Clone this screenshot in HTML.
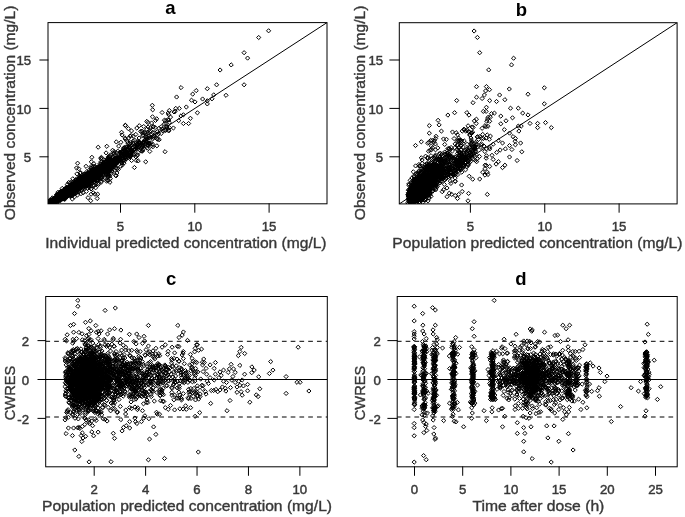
<!DOCTYPE html>
<html><head><meta charset="utf-8"><style>
html,body{margin:0;padding:0;background:#fff;width:685px;height:517px;overflow:hidden}
svg{display:block;will-change:transform;filter:blur(0.35px)}
text{font-family:"Liberation Sans",sans-serif}
circle{r:2.0px}
</style></head><body><svg width="685" height="517" viewBox="0 0 685 517"><defs><marker id="dm" markerUnits="userSpaceOnUse" markerWidth="10" markerHeight="10" refX="5" refY="5" overflow="visible"><path d="M2.9 5L5 2.9 7.1 5 5 7.1z" fill="none" stroke="#000" stroke-width="1.0" stroke-linejoin="round"/></marker><clipPath id="cla"><rect x="48.0" y="22.6" width="279.00" height="181.20"/></clipPath><clipPath id="clb"><rect x="399.3" y="22.7" width="277.80" height="181.20"/></clipPath><clipPath id="clc"><rect x="45.7" y="296.5" width="281.60" height="170.30"/></clipPath><clipPath id="cld"><rect x="397.2" y="296.5" width="280.00" height="170.30"/></clipPath></defs><rect width="685" height="517" fill="#fff"/><g clip-path="url(#cla)"><polyline fill="none" stroke="none" marker-start="url(#dm)" marker-mid="url(#dm)" marker-end="url(#dm)" points="244.1,52.7 231.2,64.9 220.1,70.0 216.6,84.8 244.1,84.8 268.6,30.8 258.7,37.5 247.6,58.1 181.0,87.6 207.3,88.7 196.2,90.6 192.7,94.1 176.6,97.0 191.5,100.2 195.0,101.9 202.6,99.0 207.3,100.8 207.3,103.9 212.0,98.8 213.7,94.9 226.0,95.3 186.3,107.0 179.3,108.4 175.8,108.4 174.0,111.9 175.2,111.3 197.4,112.8 181.0,115.9 183.4,114.8 190.4,118.3 178.7,120.6 183.4,123.5 188.6,123.5 169.3,127.6 173.4,128.0 168.2,113.0 168.8,120.0 170.5,117.1 125.3,125.2 128.4,128.7 131.5,130.9 139.3,125.7 143.7,126.5 155.5,120.4 151.6,123.0 162.1,112.5 161.2,133.5 154.7,132.7 149.8,131.8 146.8,129.2 140.6,131.4 135.8,134.4 130.1,136.2 124.9,137.9 156.9,138.8 166.1,120.4 164.3,123.9 159.0,128.3 150.7,127.4 72.3,199.0 74.5,196.8 77.5,195.0 81.0,193.7 83.2,192.8 86.3,191.5 88.0,197.7 90.7,200.7 91.1,194.2 93.3,192.8 95.0,194.2 97.7,194.2 97.2,198.5 98.5,184.5 107.3,180.1 109.9,182.3 104.7,177.5 116.1,175.8 116.9,173.1 94.2,185.4 91.1,188.9 75.4,184.9 93.2,175.2 91.9,175.8 66.1,195.4 64.7,191.8 69.3,190.1 99.0,170.6 69.1,189.9 85.0,175.8 104.4,161.9 62.2,195.9 60.1,195.1 64.5,189.9 68.6,191.3 118.5,156.0 67.0,192.9 84.5,183.5 90.6,177.1 93.2,174.3 62.4,197.7 79.7,183.5 65.2,193.3 62.0,196.2 61.1,197.2 69.6,188.4 73.3,187.8 137.0,144.4 118.1,157.7 56.9,198.6 72.4,188.0 90.9,174.6 102.6,165.3 143.3,146.2 80.5,179.0 95.5,169.3 87.7,179.9 101.1,171.5 66.4,189.4 61.2,194.7 125.5,156.8 62.6,194.1 80.8,184.0 66.3,196.2 81.6,180.3 70.7,191.7 106.3,170.1 67.8,188.9 70.1,192.1 74.7,186.4 65.7,194.3 67.2,190.0 83.9,184.8 91.2,175.2 128.1,150.0 66.2,191.9 109.9,168.4 89.7,181.8 97.1,176.3 97.6,170.2 89.1,177.8 90.3,178.8 128.7,157.4 78.2,183.0 81.1,186.7 76.9,185.9 96.7,175.0 129.4,147.1 58.7,198.7 115.2,162.4 93.9,177.1 149.6,143.3 79.7,181.3 62.9,197.9 106.4,169.2 76.0,185.0 88.2,177.5 95.6,172.4 132.1,147.8 68.7,192.7 55.3,200.2 106.0,166.5 71.4,185.9 73.8,188.6 78.5,187.0 66.0,192.7 84.4,180.1 78.4,186.9 84.9,179.1 56.0,198.4 62.7,191.8 60.6,194.7 113.8,166.9 104.0,168.9 70.2,187.6 79.0,186.0 75.3,186.3 57.2,196.5 56.0,197.6 97.9,168.0 70.9,191.8 66.6,192.2 65.6,192.9 91.9,174.3 80.9,182.2 79.4,183.9 77.7,188.4 76.5,184.4 63.7,194.3 83.0,184.1 108.3,157.8 68.5,192.1 80.0,185.1 75.6,184.7 77.2,183.8 91.3,176.6 73.4,188.8 61.4,195.9 97.5,171.9 61.6,193.5 67.8,191.3 74.0,188.4 85.9,179.2 72.6,188.6 87.1,178.6 91.9,177.1 71.4,190.0 66.3,192.8 73.1,186.5 67.0,191.7 74.9,188.0 152.9,138.6 76.5,186.2 64.7,195.0 105.3,165.3 92.0,177.5 103.9,164.7 61.4,193.6 74.2,187.9 72.1,184.0 94.7,172.7 60.5,198.7 104.0,172.1 66.6,190.1 131.2,150.7 73.2,185.3 100.6,170.7 89.6,180.0 68.4,188.7 63.0,193.1 78.5,185.1 78.7,185.7 81.2,183.5 64.5,194.3 65.4,194.1 59.2,200.0 77.9,183.0 106.2,164.7 82.8,180.7 65.0,193.6 72.5,191.2 87.2,185.8 117.9,158.1 62.4,195.2 92.0,176.7 76.0,188.1 70.6,190.0 99.7,168.0 84.1,177.1 68.9,190.6 67.8,193.8 152.9,132.5 66.9,190.5 71.4,190.3 75.3,188.2 87.4,178.6 92.2,176.3 87.4,183.5 76.9,181.4 148.7,138.1 65.6,193.2 56.9,198.9 69.1,188.8 64.1,193.9 108.1,163.9 105.5,168.0 91.1,175.0 83.3,179.9 67.7,192.5 98.9,177.4 86.8,177.3 64.4,195.2 73.0,185.1 73.2,189.5 70.4,190.2 57.7,198.6 57.8,197.7 76.8,183.3 84.9,179.1 71.9,185.8 103.7,171.3 58.3,196.4 74.8,186.3 93.1,175.7 74.3,190.3 62.4,198.8 97.2,174.4 81.9,182.4 74.6,185.3 122.2,160.5 59.7,197.9 68.1,189.1 73.0,188.6 96.5,177.0 66.9,190.0 78.6,185.0 58.5,196.9 78.1,183.5 66.7,190.7 61.0,195.1 76.9,183.7 67.0,193.0 71.0,188.4 73.4,188.7 82.3,181.8 75.6,187.5 65.0,194.1 73.9,190.1 60.2,196.4 64.7,195.4 69.3,188.8 86.5,180.8 116.8,162.3 75.3,185.9 57.6,197.1 69.9,193.1 118.0,158.8 96.8,175.1 85.5,180.6 78.9,180.7 90.0,177.8 60.5,198.5 61.8,195.5 81.1,182.7 68.0,190.0 70.7,189.3 81.4,182.1 65.2,192.4 86.9,178.6 74.6,187.7 82.2,182.1 90.3,175.7 75.4,183.7 82.1,182.6 69.2,193.2 62.4,192.5 68.0,192.3 84.5,178.4 71.4,189.6 84.8,178.0 73.7,188.5 85.7,180.8 74.5,186.6 94.9,181.4 78.2,187.5 67.1,194.7 78.6,179.7 79.9,177.3 76.4,181.1 77.5,183.7 76.0,189.8 85.6,180.5 69.1,190.2 92.1,176.2 83.0,185.2 65.7,194.4 63.9,195.3 84.9,177.0 79.3,187.2 92.6,173.0 76.4,187.7 76.4,186.3 60.0,196.3 63.1,196.3 85.2,177.8 72.8,187.3 74.8,184.7 88.1,180.8 64.2,191.8 65.8,196.6 61.7,195.1 80.3,184.3 75.4,189.8 58.0,196.6 156.9,145.8 91.2,176.9 101.6,171.1 81.2,184.4 103.9,169.6 65.0,195.7 61.6,192.5 72.0,193.2 67.5,189.1 82.2,183.9 96.0,177.6 70.9,187.3 77.4,184.5 71.5,189.8 77.0,183.1 102.2,168.4 90.1,179.9 98.9,170.1 81.8,186.7 85.3,178.3 87.4,178.7 72.3,188.8 85.2,184.2 61.6,195.6 62.4,198.1 78.7,182.9 78.0,183.8 76.1,187.3 91.3,178.8 89.6,177.9 93.7,168.9 78.5,186.6 70.4,191.1 78.6,185.8 59.2,200.2 69.0,187.5 72.3,189.5 61.6,194.8 66.1,194.7 67.2,194.3 59.7,196.0 83.6,182.7 71.1,192.2 103.6,175.0 66.9,193.1 106.5,165.7 68.1,192.1 75.1,183.1 60.8,194.7 57.2,195.2 94.7,175.2 70.7,193.0 67.0,191.8 84.0,181.1 59.5,199.1 86.2,175.1 80.2,182.9 80.6,183.5 63.8,195.8 60.7,195.3 84.3,182.7 97.8,170.6 89.4,178.2 96.6,172.2 80.3,182.7 69.3,191.5 105.1,164.4 88.9,180.1 110.6,166.5 68.4,193.7 80.5,184.1 100.4,171.0 65.3,191.3 91.2,175.8 75.7,185.7 61.5,197.7 57.6,195.7 89.3,176.9 61.5,195.7 98.0,172.5 80.1,184.2 71.5,192.7 93.8,170.5 88.6,177.4 75.5,185.6 66.1,195.2 58.9,197.2 81.3,179.4 66.1,195.7 61.3,197.2 79.1,183.2 63.8,193.7 125.6,157.6 54.6,203.5 96.1,169.8 68.1,192.0 55.0,198.3 98.9,171.9 63.6,194.5 59.6,196.9 69.6,192.1 101.9,172.4 66.8,196.0 85.6,183.6 61.0,196.1 78.8,184.5 63.3,194.6 106.6,168.4 108.0,165.8 91.1,175.5 63.5,195.0 77.2,186.0 115.9,161.3 68.0,192.9 62.3,194.2 64.1,195.7 102.8,167.8 107.9,172.5 60.6,197.8 63.4,193.2 60.8,199.1 92.7,169.0 66.9,193.7 91.4,176.2 91.7,175.7 74.4,185.4 126.5,155.2 68.6,187.5 100.4,169.5 69.1,192.6 69.6,189.1 67.2,193.6 109.1,159.9 96.0,173.3 92.7,174.8 88.5,181.6 74.5,188.9 108.3,156.9 97.7,171.2 81.7,183.3 83.0,182.1 64.1,195.5 68.8,189.9 100.2,173.4 116.5,152.9 130.8,145.9 107.6,167.1 69.4,190.1 79.4,183.8 120.1,159.8 75.5,189.3 108.0,175.3 124.4,149.2 106.1,167.6 121.8,151.9 84.2,182.1 99.4,167.0 54.6,199.0 104.1,165.6 110.4,163.6 75.5,184.8 106.2,169.0 116.6,161.2 85.3,181.6 86.8,177.3 69.7,190.1 77.0,186.5 72.9,185.3 75.5,185.6 65.6,194.2 102.7,171.9 89.6,180.7 67.5,192.2 79.1,181.8 85.8,181.7 86.2,178.9 70.9,191.0 77.0,188.6 85.9,177.3 73.3,185.5 67.1,193.1 70.9,188.4 95.1,170.1 78.2,187.6 83.0,180.9 92.1,175.4 77.4,182.0 84.6,177.7 66.1,193.3 59.8,200.4 103.7,169.0 62.0,194.5 64.4,194.3 78.5,188.1 94.8,169.4 72.8,185.7 74.5,182.8 76.6,185.6 65.2,195.1 105.7,167.2 127.5,156.2 81.0,184.9 76.3,186.6 86.6,177.4 81.6,186.0 69.3,191.4 77.0,185.1 83.2,174.7 91.6,175.9 58.8,198.3 69.2,190.9 77.0,185.3 68.7,191.0 97.9,172.5 83.8,179.5 61.9,196.7 101.2,171.1 63.7,196.5 80.6,179.5 81.5,178.3 90.2,175.4 69.8,189.1 69.4,190.9 83.6,178.2 66.7,191.1 67.8,194.4 89.3,177.1 56.5,199.9 105.2,167.5 64.3,196.4 98.1,176.5 73.5,185.9 70.3,188.9 59.5,199.3 95.6,178.7 58.5,197.4 64.9,198.6 67.8,192.2 54.9,201.5 91.7,175.9 103.1,163.2 82.6,179.4 68.7,188.8 124.8,157.2 80.1,184.5 81.4,183.3 82.8,182.1 70.2,187.8 79.5,178.4 57.4,197.6 79.4,185.4 62.9,195.7 104.9,165.1 79.4,183.8 87.6,177.3 69.2,191.9 96.1,176.0 78.3,181.3 75.1,188.3 86.2,173.6 66.7,194.5 132.0,150.2 62.3,196.2 79.0,182.9 92.2,173.2 116.0,157.6 62.7,194.5 59.3,199.7 69.3,189.2 101.9,167.5 72.0,190.2 79.6,181.5 73.7,190.4 78.6,187.1 72.2,187.0 94.4,171.4 67.3,194.8 150.6,130.8 63.8,194.9 77.4,188.2 81.3,181.0 74.1,188.0 67.9,192.0 123.2,159.2 63.5,194.4 52.4,203.1 111.8,166.0 72.4,189.7 96.4,173.2 107.5,174.2 108.7,166.9 71.7,192.6 61.5,197.4 77.7,180.2 101.9,171.2 118.9,159.6 56.5,194.8 94.9,179.2 138.0,152.4 151.1,142.7 147.9,144.9 70.4,189.7 64.7,194.6 79.1,183.6 85.6,183.3 73.2,189.7 71.6,186.9 91.1,173.2 77.2,183.9 82.6,188.7 122.4,157.4 91.7,181.8 65.2,191.4 84.4,177.4 109.9,158.9 70.9,189.4 62.7,196.9 106.5,162.0 67.7,189.0 74.0,190.5 71.5,187.3 94.1,174.8 87.4,178.2 69.6,189.4 65.9,193.3 66.6,191.6 97.0,172.3 69.0,190.9 79.9,187.4 75.4,187.1 77.1,184.8 86.3,181.9 74.4,188.6 61.5,193.1 80.8,184.6 142.9,143.3 102.8,167.3 99.2,167.1 85.1,182.0 81.7,185.5 79.5,180.8 97.5,173.8 88.4,178.3 74.9,188.1 73.1,188.2 74.9,184.6 77.3,186.3 89.5,176.2 66.6,192.1 105.7,173.9 115.6,160.4 82.6,183.8 141.7,146.1 65.8,195.3 55.5,200.6 68.8,191.2 76.7,186.5 59.5,197.5 111.5,163.6 63.5,196.7 54.6,199.1 127.7,157.8 64.3,194.6 77.6,185.2 87.6,183.5 59.4,195.7 73.8,187.5 55.9,201.8 74.8,185.2 80.2,185.7 69.1,190.7 79.4,184.8 62.7,195.0 59.4,194.9 85.7,178.2 89.0,177.0 79.7,184.2 65.4,193.8 65.2,195.8 79.5,183.2 78.1,181.4 64.8,196.8 59.6,197.3 85.7,177.8 112.9,166.0 115.2,160.2 75.1,187.5 64.5,193.0 74.7,185.5 55.7,198.2 74.6,186.3 64.9,191.6 66.8,191.9 62.3,195.2 100.7,175.6 57.1,198.1 76.0,187.4 63.3,191.3 65.5,195.9 87.1,183.0 79.0,187.8 67.2,192.1 94.0,173.6 73.1,185.0 80.8,187.3 78.3,187.1 69.8,191.3 77.6,183.5 75.1,184.9 79.0,178.1 67.6,188.1 102.3,165.9 92.3,170.0 71.8,187.8 99.5,169.9 71.9,189.3 66.7,191.1 79.5,188.6 74.7,187.4 67.6,191.2 79.1,182.2 76.1,187.2 64.0,193.5 69.4,188.0 135.1,148.9 75.0,188.0 81.0,184.1 62.5,192.6 104.2,171.6 71.1,192.0 66.2,189.6 68.2,192.5 95.3,170.2 68.7,191.1 60.0,198.6 101.2,169.5 72.3,187.4 56.1,201.4 87.8,179.2 74.3,188.4 69.1,191.5 61.5,194.3 91.0,177.3 91.9,177.8 69.5,189.1 86.2,178.4 107.9,167.2 102.3,179.2 85.9,179.2 62.9,195.5 80.7,183.8 69.1,192.3 95.8,171.2 107.9,171.0 76.2,188.2 109.2,170.4 145.9,139.5 80.4,185.9 83.5,179.3 74.1,189.0 103.3,168.7 70.3,193.0 61.0,193.7 121.1,155.5 69.1,191.5 113.2,163.8 87.0,181.4 85.6,185.7 125.3,153.8 74.4,188.4 115.3,160.0 137.0,144.0 65.7,194.7 89.8,177.2 112.8,164.3 62.1,195.2 65.7,194.6 88.2,173.0 58.4,198.3 67.4,190.4 72.0,191.0 76.1,188.4 66.9,193.8 58.3,198.2 69.0,190.0 70.8,188.2 58.6,199.2 99.1,174.0 97.4,168.9 70.1,193.5 77.5,186.6 62.1,195.9 132.6,151.3 71.7,188.3 66.3,190.8 57.3,197.2 98.4,177.1 64.9,195.0 78.2,185.5 78.2,185.4 64.1,194.2 66.4,194.0 58.8,194.9 148.2,145.4 67.6,193.0 90.1,177.3 81.1,182.7 84.8,183.2 133.8,150.2 62.4,194.7 66.8,192.8 63.0,192.9 127.0,153.6 63.9,194.7 73.7,186.6 119.7,159.2 67.1,192.4 80.4,182.8 74.5,189.5 58.2,194.6 92.5,173.2 80.9,179.2 63.2,196.2 76.9,184.8 65.1,194.4 99.7,169.4 92.3,173.6 66.4,193.9 54.1,202.7 82.2,182.5 103.8,166.4 84.2,181.8 98.2,169.4 80.2,182.2 68.0,190.6 69.6,191.9 80.3,183.4 108.2,172.4 88.0,180.5 82.7,185.1 108.7,168.0 79.9,182.1 90.3,178.6 118.2,162.0 68.9,187.8 68.2,195.9 98.7,175.0 71.2,186.4 62.2,193.3 76.8,184.4 123.4,153.2 64.0,192.8 65.5,195.2 84.0,178.7 83.7,181.3 72.4,187.6 79.8,183.8 65.2,191.3 140.0,143.1 83.9,181.3 63.1,194.1 138.5,142.2 108.7,168.3 79.5,181.3 93.2,180.2 101.5,167.6 71.7,192.1 78.4,183.7 99.4,170.6 66.7,189.9 66.5,192.1 64.9,193.4 79.9,179.9 66.4,192.8 78.1,182.8 77.8,187.2 97.4,170.0 55.5,197.8 113.8,159.3 128.2,149.0 93.9,169.5 56.8,197.5 86.0,183.7 80.5,183.8 55.0,202.3 64.8,192.5 82.3,179.9 53.5,202.5 97.5,170.8 73.1,186.8 125.0,150.5 85.5,177.1 66.7,194.5 90.7,180.7 63.6,196.5 64.0,192.7 115.4,164.1 89.1,179.5 75.3,190.6 71.6,188.9 113.6,159.5 65.9,190.9 84.5,183.1 85.8,180.1 71.9,187.0 149.0,143.4 124.0,163.1 67.1,191.9 72.6,188.6 79.0,184.1 73.3,189.1 73.9,189.0 88.2,175.1 57.3,200.6 59.7,197.8 101.2,166.0 137.7,143.6 63.6,192.8 72.3,188.3 73.3,193.3 63.6,191.5 107.3,163.8 155.1,127.5 71.2,186.0 84.0,179.7 73.7,188.4 82.7,181.7 57.6,200.1 125.0,158.1 82.5,181.2 86.0,178.0 79.9,185.9 138.5,142.2 64.9,193.0 63.6,195.7 64.6,193.4 95.0,169.0 121.4,155.0 123.4,148.2 113.1,159.7 56.3,200.9 115.5,158.6 108.8,164.5 84.4,179.9 66.6,188.0 62.7,193.5 89.3,175.4 78.3,186.2 60.8,198.6 86.5,178.5 103.3,171.5 62.0,191.3 72.6,192.2 63.2,193.0 86.7,177.4 70.7,188.8 76.8,184.9 72.1,190.3 92.7,179.0 98.0,180.1 107.9,160.5 74.6,189.9 78.4,187.0 75.0,186.0 75.8,187.7 78.8,187.2 61.4,194.6 62.3,194.5 82.2,183.4 55.5,200.7 64.9,189.9 89.6,178.8 80.2,179.5 91.5,174.3 70.4,189.4 82.7,178.4 66.3,189.1 89.8,173.6 87.1,175.2 69.4,187.8 60.8,197.4 63.2,195.7 82.2,180.0 83.0,181.7 75.2,186.6 70.2,192.8 70.2,191.3 65.6,197.6 57.9,195.4 100.7,171.6 90.8,177.5 96.9,170.8 64.7,194.8 126.8,146.9 80.0,184.2 89.8,175.0 66.1,189.6 66.7,194.1 84.5,183.2 79.7,183.5 72.7,191.4 93.1,172.2 61.2,194.5 71.3,188.5 102.0,170.0 86.5,179.5 105.6,166.3 72.3,189.2 92.1,178.2 97.2,174.4 67.8,190.4 80.2,182.2 99.0,170.0 100.3,167.1 98.1,171.6 55.0,198.8 83.3,183.3 96.9,173.8 60.5,196.7 81.3,180.5 90.1,178.1 104.4,167.6 76.0,184.4 78.0,189.6 94.3,178.4 73.9,189.5 100.5,174.0 87.2,178.5 86.1,180.1 71.0,186.1 80.7,179.4 75.8,184.0 107.1,165.7 67.3,192.9 63.0,195.6 67.1,191.2 114.9,164.9 90.4,180.5 92.4,175.2 71.4,190.3 96.8,174.9 85.8,182.1 61.2,195.6 72.2,187.3 85.1,180.6 88.4,174.9 65.2,193.2 60.3,196.5 84.9,176.1 114.5,161.8 73.0,185.2 89.5,176.4 114.4,164.9 67.3,190.6 74.6,182.6 93.5,175.4 88.4,174.0 74.1,184.2 80.8,188.6 80.1,181.4 58.7,196.6 69.2,190.3 126.8,149.4 83.8,178.5 68.9,188.5 71.8,187.4 96.2,176.6 87.9,179.2 77.4,187.0 91.3,175.3 74.9,184.8 102.7,166.5 98.1,168.4 75.6,183.8 120.5,152.5 66.1,193.8 100.0,171.5 122.5,152.3 71.9,190.7 66.1,189.8 61.2,198.4 63.9,198.6 71.2,187.2 65.2,193.1 69.2,190.7 120.6,161.2 67.0,192.6 82.8,182.4 100.5,173.7 75.1,184.1 70.4,192.9 97.9,174.8 111.6,160.8 68.5,189.9 66.7,191.6 144.6,140.2 82.2,184.7 131.4,153.6 71.2,191.0 81.2,182.7 65.6,196.1 65.8,192.6 74.7,189.4 64.8,195.4 106.1,161.4 139.1,147.2 78.5,184.4 77.1,188.0 90.0,177.7 65.4,191.4 68.5,193.8 101.1,172.8 64.1,192.5 121.3,154.1 85.8,183.4 59.5,197.7 127.0,154.7 85.7,178.1 62.0,193.9 68.8,191.7 69.3,192.4 52.0,201.5 127.3,150.2 74.2,186.1 112.7,165.6 71.5,190.2 75.5,186.0 73.3,186.7 80.6,185.5 100.6,165.9 69.0,190.7 73.8,189.8 57.7,197.1 57.1,198.8 109.1,165.2 74.2,189.5 58.2,197.1 88.8,177.1 86.2,180.6 79.3,182.4 68.8,194.0 68.6,189.5 73.3,190.1 69.0,194.1 66.9,190.1 97.3,172.2 115.7,162.1 86.1,178.5 71.4,188.9 75.6,186.3 69.8,191.4 66.9,189.7 90.3,179.9 104.8,165.8 74.6,189.2 96.1,173.6 90.4,174.2 76.7,186.8 112.3,167.8 103.3,171.5 65.5,191.2 101.2,170.5 85.8,179.0 92.5,175.0 59.9,196.6 62.3,193.9 67.8,189.0 98.3,172.9 101.0,167.2 60.7,196.4 99.2,173.4 93.4,174.5 76.8,189.7 62.6,193.0 66.6,192.2 72.3,189.4 86.2,177.8 58.6,199.4 62.7,196.0 84.1,179.6 59.9,197.0 72.8,187.8 105.9,166.6 61.0,196.1 63.1,197.3 88.4,173.5 115.0,161.0 109.9,155.7 65.8,194.6 116.3,161.0 96.8,171.8 69.6,188.3 77.6,184.4 84.0,183.3 66.2,190.7 91.3,175.2 75.4,186.7 93.3,176.6 89.9,175.6 77.2,183.6 80.9,181.6 116.4,163.7 87.1,177.7 75.0,188.7 93.6,177.6 67.9,193.3 91.1,176.0 113.3,163.6 125.7,147.0 78.1,184.7 86.4,182.9 97.4,172.9 55.2,198.8 57.7,196.6 71.0,190.9 74.6,185.5 123.5,160.7 138.9,142.7 82.3,185.9 80.4,182.4 71.6,189.8 82.5,180.6 65.7,193.1 76.5,185.1 86.7,184.7 65.4,193.6 74.5,188.0 70.5,189.8 78.7,186.1 85.4,184.4 97.4,167.6 93.4,176.3 68.3,189.6 82.5,182.7 85.9,176.0 86.7,180.1 89.2,178.8 72.1,195.8 80.2,185.2 58.6,198.3 91.7,176.0 88.7,175.0 80.8,185.0 104.3,165.9 72.2,190.5 77.3,188.7 111.1,166.6 109.0,163.6 93.6,175.7 75.2,187.6 114.4,160.6 97.6,169.7 61.8,198.9 55.8,200.2 80.7,184.1 145.3,133.2 97.7,171.8 54.4,201.6 67.2,191.5 73.8,188.4 61.8,197.6 126.5,153.3 82.3,179.5 80.5,187.8 99.0,174.3 84.1,181.5 64.6,196.5 72.8,183.7 81.4,183.1 85.4,180.8 68.9,189.4 113.7,164.8 80.3,182.3 80.8,184.3 81.3,182.7 92.9,172.3 85.7,185.3 54.1,198.4 86.9,177.2 52.6,202.5 59.2,198.7 58.1,198.9 148.6,143.0 67.4,191.7 75.5,187.8 90.1,176.2 63.5,197.7 80.8,182.4 67.6,189.7 79.9,184.3 78.0,186.2 106.0,169.6 62.4,193.3 102.4,170.0 89.9,176.6 99.4,171.0 72.9,188.6 70.2,194.2 78.9,184.7 72.1,192.0 92.3,172.6 63.3,194.7 97.1,172.1 84.3,181.8 60.6,194.1 96.7,168.7 106.2,168.5 79.3,182.2 63.8,192.2 60.9,197.2 72.5,193.1 82.4,182.6 78.5,187.5 76.6,184.0 61.6,195.8 70.1,191.4 66.9,192.6 64.2,191.1 69.0,192.4 57.8,199.5 80.2,184.1 79.4,181.2 62.0,195.4 125.3,156.3 72.3,186.4 68.5,190.3 71.5,189.1 80.7,181.2 75.9,187.7 59.9,196.3 99.0,165.8 78.6,184.2 115.4,158.3 111.4,164.3 68.1,193.2 64.6,196.4 103.6,168.4 70.5,187.1 66.8,189.9 66.7,191.9 69.8,189.5 61.3,195.8 66.0,191.8 88.3,178.9 113.5,153.8 65.6,193.5 95.0,177.6 87.5,180.7 74.3,186.9 122.8,158.5 124.2,150.6 92.7,176.5 61.5,196.5 64.2,194.4 115.6,158.6 77.5,187.5 88.2,177.0 144.6,132.2 104.3,167.0 83.8,181.3 112.6,163.7 103.1,168.2 79.9,182.4 62.1,196.8 131.6,160.5 64.7,194.9 77.2,184.3 97.2,175.2 105.2,164.1 111.1,162.7 69.2,188.9 76.5,184.4 78.7,182.2 59.0,200.5 65.5,191.6 63.0,194.6 68.1,189.0 80.9,181.6 71.5,188.6 73.1,188.6 64.6,194.2 69.0,188.9 66.1,190.9 79.9,178.6 100.7,169.4 64.1,193.6 68.0,192.6 75.8,189.5 66.8,191.9 85.7,181.9 120.5,160.0 79.5,182.5 103.4,167.4 142.2,146.9 118.2,161.5 62.7,193.8 83.0,178.3 84.2,181.6 75.6,185.2 82.7,180.8 73.3,189.9 60.2,197.5 59.4,197.4 56.7,197.3 88.9,180.7 63.3,193.4 99.9,173.7 70.2,192.0 84.8,180.2 153.9,135.8 62.4,196.9 89.0,180.3 75.7,185.6 78.4,186.3 78.0,187.2 95.0,180.2 80.7,180.4 95.7,172.7 62.5,194.5 109.7,163.3 77.4,183.8 63.1,194.9 82.6,183.0 106.1,164.8 87.7,179.2 84.6,183.9 91.2,172.0 101.2,169.5 69.5,191.3 93.1,174.2 69.4,190.2 109.2,171.5 68.8,190.4 117.8,151.2 76.5,184.5 74.4,182.7 68.6,188.7 59.7,194.9 63.2,197.0 116.1,168.2 67.8,191.9 83.0,183.5 72.2,190.6 63.9,196.2 57.8,196.6 81.4,182.4 89.6,179.5 63.5,193.9 57.4,198.5 69.2,188.5 64.0,192.0 70.6,194.4 82.0,185.4 97.1,171.8 142.6,132.9 84.1,181.0 65.1,196.2 82.8,176.1 112.2,162.4 70.8,188.6 99.5,173.2 62.1,196.4 89.6,173.1 88.5,176.3 120.2,157.3 71.4,191.0 83.8,179.3 133.6,154.4 106.7,163.7 72.5,190.8 69.3,192.0 75.3,186.9 75.8,190.9 70.7,185.3 102.8,167.6 82.6,185.0 135.6,146.2 69.5,190.3 104.3,166.8 95.1,177.6 85.8,182.5 78.3,184.4 114.9,162.5 60.7,197.1 62.2,195.3 86.0,183.5 108.4,165.2 65.2,195.8 138.4,141.0 95.5,176.1 67.1,196.4 60.4,197.5 79.9,186.4 73.3,189.2 98.7,169.5 64.1,195.4 90.4,176.8 105.9,175.2 70.3,187.8 64.2,194.0 112.4,165.5 68.5,190.4 97.7,167.8 145.9,146.6 82.6,180.0 98.9,172.8 90.1,180.7 81.8,187.0 102.7,168.8 139.6,142.6 88.3,180.6 103.4,166.4 75.7,187.2 82.1,180.4 93.0,175.5 84.7,181.6 85.0,181.8 67.5,190.7 93.6,170.8 91.6,172.7 116.3,163.8 70.2,190.9 71.3,191.5 90.2,173.0 81.0,185.1 82.2,182.1 81.6,181.9 65.4,192.1 77.6,189.1 67.0,193.0 86.2,182.2 68.2,187.3 99.3,174.9 65.8,195.8 100.7,172.7 76.2,188.3 81.9,183.5 66.7,193.0 71.6,191.4 56.2,199.0 84.1,180.0 96.0,176.3 74.6,187.6 57.9,196.3 68.2,191.5 113.6,162.7 97.0,176.3 73.8,188.5 60.3,194.7 112.0,162.9 95.1,174.0 62.4,191.7 83.2,179.9 90.0,176.2 102.6,164.5 76.6,189.2 78.2,187.2 126.5,154.8 100.9,164.0 60.6,195.3 74.9,186.5 91.8,175.1 71.4,185.5 66.1,193.4 70.9,191.8 71.6,186.8 74.5,187.9 69.5,189.0 57.0,196.0 117.2,161.4 79.0,186.2 82.6,182.8 72.2,188.7 56.4,199.4 74.9,182.8 76.8,184.3 85.5,182.3 110.9,159.9 75.4,185.5 131.9,152.1 68.2,191.3 89.4,170.0 55.3,199.4 129.9,156.8 79.7,185.9 66.9,196.7 74.5,184.8 77.7,186.9 81.8,180.8 72.4,191.7 111.8,164.2 73.5,188.6 74.5,187.2 99.0,168.4 74.2,184.3 79.6,181.5 92.2,177.6 67.6,194.2 93.3,173.8 86.3,178.9 72.9,192.1 75.0,191.1 79.5,185.2 64.2,195.2 69.6,189.2 86.1,178.7 94.9,175.8 66.6,196.8 88.7,183.4 75.9,188.1 67.1,192.9 85.9,180.7 67.0,192.2 157.3,131.7 75.0,186.7 80.8,188.3 62.1,196.8 73.1,190.5 83.0,180.2 126.9,154.3 73.8,186.7 112.5,160.1 59.8,197.6 74.4,187.1 86.8,181.6 79.5,185.3 76.6,185.4 93.9,179.5 57.6,196.6 66.0,193.4 148.1,127.0 124.9,152.2 94.3,173.1 59.7,196.3 96.3,172.1 60.0,196.0 94.6,175.3 80.4,181.3 65.9,193.7 130.4,153.3 86.8,183.5 90.6,172.4 80.7,181.2 64.8,196.4 66.0,187.7 83.7,181.4 93.7,169.9 111.9,163.0 102.7,167.6 76.9,188.7 59.4,196.9 84.2,185.6 72.0,188.4 71.7,194.7 91.5,172.6 87.0,175.7 110.9,165.8 80.6,183.3 95.8,168.9 135.8,147.9 128.3,147.1 71.0,191.4 75.8,185.0 62.7,195.2 74.9,182.4 57.1,195.9 57.8,200.8 82.5,181.9 96.6,176.4 106.0,166.7 74.1,188.5 78.6,186.0 97.5,171.6 136.8,147.7 63.0,195.5 60.7,197.1 72.0,188.2 56.3,201.9 75.4,188.2 82.1,181.4 72.7,187.5 69.8,190.3 70.1,185.4 78.9,185.1 86.5,176.2 71.3,188.2 76.0,185.5 81.6,181.6 101.9,167.8 73.1,193.3 77.5,183.3 69.3,190.4 66.2,193.7 84.6,179.4 122.1,151.3 72.3,190.5 99.5,166.5 78.2,182.9 88.6,179.4 57.3,197.7 93.1,176.7 136.3,144.3 96.0,173.4 71.6,191.1 108.7,166.4 69.6,190.9 72.3,189.2 87.7,179.8 90.4,180.1 77.3,186.0 125.2,153.2 86.6,176.1 60.7,197.5 130.4,155.5 96.6,176.8 69.9,186.4 60.6,191.5 88.9,180.6 102.4,169.9 122.5,155.1 100.3,169.7 67.1,195.2 65.3,194.6 89.2,178.1 110.9,163.8 76.8,187.1 90.4,175.1 143.5,145.0 67.7,189.6 77.2,185.4 88.3,179.6 85.0,180.3 75.1,188.0 64.4,193.6 60.5,191.9 64.7,196.6 86.2,180.8 98.4,176.5 68.2,195.6 83.2,179.4 81.5,184.6 66.1,190.2 72.4,187.5 99.6,173.3 76.9,188.5 67.3,191.6 92.3,175.0 73.4,188.2 70.8,189.4 77.3,184.5 84.7,182.3 64.4,194.0 116.5,162.5 77.3,182.8 68.2,194.1 84.5,180.7 150.8,146.3 70.7,186.7 90.9,168.0 88.5,175.0 67.3,192.5 71.7,190.6 77.2,186.8 69.9,194.2 69.9,190.1 91.4,174.7 104.1,167.8 59.7,198.3 74.0,185.5 137.0,155.6 70.9,190.6 77.0,184.5 72.3,191.1 103.8,162.4 106.2,161.8 90.4,174.7 101.7,172.2 110.3,160.5 88.5,178.1 77.7,183.5 65.6,193.0 64.0,193.7 61.4,198.9 86.8,178.5 72.2,186.3 86.2,177.5 85.9,179.9 75.5,187.4 68.4,193.3 87.1,180.9 74.1,187.9 82.1,183.4 68.6,191.2 119.3,157.8 87.4,174.7 84.6,179.7 83.6,181.1 72.0,188.9 63.6,198.5 66.1,192.5 72.7,187.9 105.7,169.5 103.8,168.9 61.1,193.8 109.8,168.9 149.7,143.8 72.8,188.6 86.9,177.8 91.9,174.0 93.0,178.0 67.3,194.9 75.0,183.1 83.6,183.5 71.7,190.7 68.9,192.4 84.7,178.4 105.3,168.1 54.1,202.2 69.4,193.8 76.3,186.9 87.2,178.2 70.2,190.0 61.9,195.8 93.8,179.8 82.3,182.8 79.4,177.3 83.3,179.6 74.5,185.7 123.8,149.9 85.2,176.1 61.9,196.5 96.3,175.2 63.7,194.8 77.7,185.8 78.7,182.6 60.3,196.0 64.1,197.3 100.6,169.1 76.3,188.8 120.8,166.2 58.1,198.6 97.3,176.9 74.3,187.4 94.5,173.4 78.9,179.5 64.8,192.3 63.7,197.0 105.6,170.3 59.1,198.0 60.5,195.0 105.5,169.9 113.3,165.6 75.5,184.8 60.4,194.0 121.2,153.0 61.3,195.6 93.9,173.8 114.7,160.8 60.7,198.2 62.5,196.5 67.1,192.8 69.8,190.1 122.0,162.9 71.6,189.9 90.5,174.2 141.0,147.6 59.6,198.0 61.1,195.4 67.3,190.7 69.2,187.2 86.6,185.0 65.1,192.0 85.6,180.1 90.2,174.0 70.5,191.0 77.3,187.0 74.7,188.4 61.5,198.2 101.1,171.5 118.0,159.5 103.1,167.1 70.4,188.7 68.8,189.4 79.8,187.3 65.1,191.0 74.7,184.3 68.4,191.9 78.9,184.9 63.2,194.1 95.1,175.9 74.2,188.7 65.1,194.3 103.9,171.7 74.9,188.0 71.0,189.4 68.3,191.8 89.5,175.6 63.3,194.6 97.6,168.0 108.9,158.5 97.3,170.3 77.2,186.6 64.7,194.0 90.6,177.5 74.5,188.5 63.8,193.4 112.1,165.5 69.9,186.8 78.7,184.2 80.8,184.3 139.5,145.6 76.3,183.2 60.4,195.9 69.4,189.2 69.0,193.5 57.4,197.4 102.9,169.8 100.1,170.7 67.7,189.6 94.6,166.1 62.7,197.0 111.1,164.7 67.5,192.4 67.8,193.6 92.1,175.1 86.5,180.2 92.8,175.0 95.7,173.1 110.2,160.1 78.2,184.8 64.2,190.9 60.3,196.2 84.3,180.6 149.2,143.0 103.1,170.2 82.2,182.6 99.1,172.7 109.1,173.8 66.8,191.8 106.6,171.1 91.6,174.9 69.9,191.5 70.2,189.5 69.3,190.3 90.8,174.2 62.3,194.4 72.0,190.5 60.5,195.5 71.7,191.1 60.4,195.8 96.4,172.6 78.9,181.2 69.6,189.3 75.4,188.1 103.8,164.1 88.4,177.2 65.4,194.3 75.4,188.4 56.8,197.6 72.0,184.6 59.2,196.8 67.0,194.7 92.2,178.3 70.0,190.6 66.5,190.2 77.0,182.6 74.8,185.2 74.9,185.4 60.9,198.3 107.9,172.3 90.8,177.1 82.3,181.2 72.2,190.7 61.0,195.9 127.8,154.1 84.3,183.3 56.1,200.4 85.4,180.7 62.4,195.9 83.4,179.4 54.3,199.6 70.1,187.4 63.5,195.3 90.5,177.4 94.9,167.4 70.8,191.5 109.8,156.7 90.0,177.4 112.2,162.8 62.2,194.8 70.4,190.3 58.3,195.9 71.1,184.9 88.5,175.4 86.3,182.2 102.7,167.0 102.8,169.5 69.4,191.3 86.2,179.6 86.3,184.6 121.0,153.7 73.1,190.3 64.8,190.2 73.1,185.9 66.6,192.5 79.4,178.7 83.8,178.5 75.7,184.7 84.9,184.2 57.3,199.5 95.0,175.7 73.9,185.5 69.3,193.5 59.5,196.6 86.0,181.1 58.3,198.7 77.5,186.9 84.7,179.6 67.8,191.4 131.3,151.6 83.5,186.3 61.7,194.3 124.6,157.9 60.5,200.6 77.9,183.0 86.9,179.0 79.6,182.9 104.0,170.6 83.4,185.9 85.1,181.7 97.6,169.1 61.9,196.0 76.4,181.7 55.5,201.3 65.2,193.3 64.2,190.9 71.1,189.7 92.7,172.9 70.2,192.7 87.6,178.0 70.1,190.3 56.3,199.8 64.4,196.9 67.2,194.4 72.2,188.4 94.4,173.9 78.4,180.6 84.1,182.6 61.0,197.0 96.6,169.8 126.4,152.1 75.3,187.6 96.5,172.6 78.3,179.4 75.6,187.1 76.8,184.2 90.8,177.3 63.4,196.1 84.9,182.4 69.8,186.2 106.3,170.1 69.3,191.5 75.9,186.2 65.1,193.5 87.7,183.0 111.4,163.6 54.7,199.1 85.4,181.1 74.5,189.5 79.6,188.5 71.5,189.7 66.8,194.4 108.9,160.7 79.1,179.6 64.3,192.2 67.4,195.8 61.3,195.1 101.0,172.7 88.7,179.4 57.8,196.7 65.9,195.5 76.2,186.4 80.8,182.4 75.3,190.0 66.6,190.2 79.8,185.3 77.4,184.9 67.7,193.5 88.7,180.6 65.4,195.3 60.1,196.9 65.3,191.6 129.6,155.9 68.7,192.6 74.1,187.5 64.9,194.6 82.4,184.2 62.1,196.3 61.7,196.6 66.2,192.7 57.2,196.3 60.9,195.8 102.4,169.5 86.1,181.3 87.4,180.9 70.5,190.6 83.3,182.6 60.1,198.6 81.4,182.6 80.3,186.5 63.8,193.0 68.4,190.0 67.3,191.2 112.6,162.1 65.7,194.0 63.4,194.7 107.7,165.8 92.6,174.2 64.4,196.7 94.5,173.6 89.6,177.3 100.5,171.3 68.5,189.5 84.9,177.2 72.0,190.4 130.2,152.0 60.9,198.1 64.5,197.2 75.5,188.5 68.1,189.8 72.5,189.4 102.3,177.1 78.8,179.5 83.5,183.8 134.2,150.0 63.3,193.9 150.6,137.2 63.4,197.3 70.2,189.7 90.8,174.4 105.8,168.2 79.3,189.0 143.1,142.1 52.6,203.5 91.1,176.3 102.6,167.3 142.5,135.9 105.7,169.1 96.2,167.5 117.2,161.7 68.2,193.2 66.5,191.2 79.6,189.3 74.5,187.1 57.5,198.4 77.4,187.3 90.4,173.3 103.1,167.8 101.1,170.4 76.2,182.6 76.8,186.9 67.0,196.2 80.8,177.3 55.7,200.6 99.0,175.5 71.9,188.1 83.6,178.9 86.2,179.4 97.0,176.0 84.6,181.5 146.0,137.7 65.1,192.2 66.4,192.4 74.2,187.0 77.8,183.2 74.1,184.1 79.5,178.3 65.6,195.9 99.8,174.2 67.2,192.7 75.3,189.6 79.6,180.1 65.1,190.2 92.6,178.6 59.2,195.3 102.2,168.5 77.9,184.7 73.9,186.8 111.2,167.8 63.7,191.8 104.4,164.7 75.4,184.2 99.7,171.3 83.8,177.4 86.7,175.7 83.5,177.2 110.1,161.3 66.2,193.5 74.6,188.2 99.5,172.9 89.0,180.5 80.3,183.7 69.6,189.6 73.9,188.6 60.3,194.8 81.3,182.9 101.4,169.2 77.5,188.4 87.3,179.7 81.6,180.7 88.2,178.0 96.9,169.5 62.2,192.1 66.6,196.2 92.7,175.5 63.3,198.5 100.6,167.4 65.6,191.9 92.4,176.5 95.6,172.1 68.9,191.9 76.6,184.3 57.3,197.8 104.3,166.5 69.1,189.2 61.9,198.2 113.1,160.8 70.2,189.2 97.6,175.1 74.8,187.6 77.8,182.8 79.1,182.1 55.4,199.1 74.1,187.2 96.4,175.8 58.7,199.2 80.0,182.3 78.7,183.1 61.2,195.0 58.9,196.2 88.3,177.9 76.1,183.5 107.5,160.8 74.4,189.4 77.7,185.4 85.5,175.7 100.4,175.0 91.0,176.2 132.9,143.1 96.2,176.2 110.3,164.4 88.2,178.8 72.5,190.9 79.3,187.5 102.5,168.1 56.3,200.9 121.9,151.4 64.4,193.4 79.7,184.8 57.6,195.9 87.0,175.2 96.1,177.6 78.5,181.7 68.3,189.9 77.9,188.4 71.0,190.9 74.3,186.5 91.2,176.6 83.6,181.1 115.8,158.3 81.1,183.2 80.9,182.9 67.8,192.4 75.0,189.9 86.6,179.8 59.5,199.3 51.3,202.8 57.9,197.7 60.5,194.5 48.6,205.0 53.8,202.2 48.9,204.4 64.3,193.8 48.1,202.6 62.9,193.0 49.4,203.5 52.7,200.9 49.0,207.3 57.5,197.1 58.7,197.3 53.8,200.3 55.5,201.0 54.0,201.5 58.6,200.3 48.1,205.1 61.2,195.8 49.3,202.5 55.3,203.3 53.2,202.3 65.5,195.8 55.9,199.0 58.4,199.5 61.9,195.0 50.5,205.6 62.0,192.7 48.7,205.4 48.2,204.5 55.6,199.6 49.1,202.8 64.8,189.9 54.8,199.5 58.0,199.3 50.4,202.4 56.2,198.5 49.3,201.8 58.5,195.8 50.6,199.9 50.7,204.7 49.7,205.3 56.6,199.4 51.6,204.4 57.8,194.0 56.4,200.9 58.7,197.6 63.9,196.7 49.0,208.0 60.4,199.2 61.8,194.7 49.6,206.7 49.8,202.1 48.7,202.2 63.2,194.0 62.3,196.1 48.9,203.7 54.4,201.4 50.8,205.0 54.0,201.7 53.5,202.8 49.3,205.1 54.1,201.4 61.0,196.8 55.0,199.5 50.1,200.6 63.9,194.4 64.4,193.5 55.4,200.2 51.2,201.2 58.9,195.9 51.4,201.2 62.4,194.2 55.9,199.0 60.2,193.6 60.0,197.4 50.6,204.0 62.7,194.9 54.3,200.3 50.1,205.0 55.3,199.7 54.6,200.2 48.1,201.2 49.3,200.7 65.0,192.5 53.1,199.3 55.8,201.0 52.0,204.6 56.2,200.9 49.1,201.9 54.3,199.9 53.3,201.6 65.0,195.0 64.3,193.2 49.7,203.4 54.8,200.5 60.6,193.2 60.7,195.1 56.7,203.0 48.5,204.0 54.9,201.8 53.8,202.3 54.6,199.5 57.7,196.7 48.1,203.0 49.3,206.5 62.6,197.3 62.7,192.8 64.2,197.1 58.2,199.8 55.4,202.5 58.4,194.6 52.2,202.6 48.3,204.2 58.4,197.6 57.1,199.0 60.2,199.0 65.1,191.8 51.6,206.7 55.7,197.0 53.7,199.8 61.3,196.6 58.8,198.8 58.3,194.7 55.1,201.9 53.2,201.5 53.6,200.7 53.5,200.6 57.7,199.4 59.2,194.2 52.5,199.8 57.7,199.5 55.9,202.4 58.6,198.3 52.1,201.9 52.3,203.4 64.5,196.4 63.6,195.6 58.1,199.0 52.3,201.8 62.7,194.7 52.3,197.9 63.4,198.1 61.5,193.5 64.5,192.0 53.3,200.7 57.1,194.9 50.2,203.0 48.4,201.7 63.0,193.9 58.2,199.3 57.4,197.4 62.0,193.4 48.9,202.8 48.4,205.7 54.6,198.6 52.5,201.6 64.7,194.1 53.2,198.6 52.5,203.7 52.8,201.5 53.3,205.4 55.9,200.1 62.1,191.0 60.2,197.8 56.7,197.2 58.0,192.3 55.1,199.0 56.0,199.1 61.1,194.8 54.5,200.6 63.8,195.0 63.5,193.1 58.6,197.3 64.4,193.3 52.5,201.6 57.7,196.8 59.2,196.8 58.6,198.8 64.1,197.0 55.5,200.1 59.9,198.0 60.4,198.9 63.6,193.5 59.9,196.5 63.1,197.7 55.5,199.1 50.4,201.4 65.3,189.7 64.1,193.2 51.1,200.3 50.6,203.6 55.9,197.9 53.0,198.8 56.4,198.2 53.1,200.5 54.0,198.6 49.1,204.3 65.1,193.2 62.4,196.5 61.2,195.9 57.7,195.9 59.7,197.8 55.6,200.3 56.3,203.5 62.7,195.5 64.8,196.6 58.9,195.2 62.2,193.2 51.4,200.7 60.5,194.3 52.1,201.9 65.4,192.0 50.6,200.3 55.1,200.0 60.6,197.0 58.0,198.6 61.5,197.0 63.0,192.9 65.1,193.1 60.9,194.4 64.5,194.4 58.8,197.6 60.9,197.1 55.1,198.7 49.2,203.0 58.8,199.7 48.1,205.7 64.8,193.2 58.8,195.4 65.5,192.8 61.4,195.7 52.6,201.7 57.7,197.7 52.8,202.4 59.0,199.1 63.0,195.0 57.5,196.5 53.1,201.0 56.1,200.1 57.8,194.6 60.2,197.4 64.0,193.2 53.6,199.9 58.0,199.5 53.1,201.9 48.6,205.0 62.2,194.5 59.7,197.7 149.1,133.3 169.3,110.5 166.6,127.2 120.9,142.3 168.7,130.9 157.6,134.9 142.9,149.8 137.1,147.1 156.7,118.8 127.0,150.9 143.2,134.8 130.3,142.6 165.7,130.2 167.7,128.7 124.3,147.8 159.2,139.7 163.2,130.8 166.0,123.5 142.0,131.2 147.1,142.1 148.2,143.2 168.7,114.7 138.7,143.2 127.3,141.3 130.2,146.9 152.9,146.7 152.6,136.6 169.2,122.5 142.8,144.3 131.5,155.3 143.2,145.7 139.3,143.0 128.8,147.4 153.4,126.6 134.6,140.1 167.8,119.9 146.7,137.0 138.7,147.3 133.3,141.0 157.9,139.4 123.1,153.4 162.2,128.7 142.1,151.3 145.5,141.5 154.7,136.6 140.7,150.6 153.6,137.3 136.2,160.5 161.2,126.7 145.4,140.1 168.8,130.2 136.8,128.1 148.2,143.5 145.6,136.7 149.8,151.4 147.1,148.1 136.5,148.5 142.3,150.9 147.8,132.6 166.7,126.6 136.5,145.4 146.7,139.2 137.5,154.8 152.9,144.5 122.6,155.6 158.4,133.5 124.8,153.6 132.4,151.3 147.9,122.5 164.4,120.2 114.6,163.5 110.9,154.6 76.4,192.9 81.8,182.7 75.9,186.8 115.3,158.6 114.1,151.5 70.9,186.8 153.1,126.9 88.4,179.2 66.9,190.0 71.9,188.3 82.9,183.2 94.1,173.2 82.5,178.9 112.2,165.4 78.2,183.4 82.7,181.3 93.4,185.8 75.8,180.5 81.3,178.8 100.7,158.1 69.5,189.1 75.8,186.8 70.6,187.7 81.0,184.0 84.5,184.7 86.4,180.1 98.3,176.8 106.0,163.7 93.6,175.7 90.5,183.6 84.7,178.8 87.1,180.2 110.2,162.1 102.8,164.1 136.1,146.6 60.9,191.7 91.3,161.8 72.7,189.5 64.4,193.3 61.5,194.8 106.4,171.6 78.5,187.4 106.8,146.3 58.2,198.2 82.3,177.5 68.7,182.5 79.7,185.9 124.5,147.8 74.3,194.1 71.3,192.6 73.9,181.4 66.8,191.6 61.0,195.5 63.4,192.2 80.1,183.3 89.7,181.5 86.0,166.3 74.4,189.5 112.2,171.3 107.4,167.6 152.3,105.3 86.8,171.7 108.1,164.1 91.2,166.4 112.7,157.4 80.8,172.7 152.7,109.8 131.0,135.5 65.8,190.3 70.3,182.7 75.8,179.9 76.5,168.0 70.3,194.5 83.0,179.0 114.3,153.3 87.2,176.6 71.6,182.0 66.6,194.0 112.5,161.4 74.2,193.9 125.3,139.1 70.0,196.2 98.2,147.2 87.6,175.2 97.9,168.8 106.4,160.8 82.5,178.0 136.0,156.9 133.4,153.0 90.7,170.5 101.3,159.1 74.4,185.6 78.5,191.1 133.3,136.1 78.8,180.7 117.7,158.5 129.0,154.5 67.2,187.0 55.2,201.0 64.8,192.0 127.8,142.9 77.8,184.0 72.9,185.3 112.4,158.7 76.4,183.4 92.0,175.8 64.5,192.5 61.1,194.0 90.4,172.7 63.9,193.4 77.5,190.2 68.4,194.8 152.5,116.8 82.2,183.9 88.3,174.7 118.0,157.3 79.9,184.8 92.8,180.7 97.5,174.1 77.1,189.3 74.9,189.5 118.7,146.1 70.9,195.5 98.3,167.9 62.8,194.5 62.3,193.0 120.1,152.1 85.1,178.8 93.9,163.7 129.5,143.5 80.5,182.5 86.1,178.8 81.3,184.6 70.1,190.2 85.3,177.8 132.0,145.0 128.7,138.0 79.2,183.0 108.2,159.9 110.7,168.0 164.9,130.5 111.0,162.5 105.7,170.0 86.2,181.7 67.4,195.1 121.6,132.3 80.0,173.0 78.8,185.2 75.3,182.6 100.1,163.5 115.4,155.1 88.5,175.6 72.8,178.8 96.5,175.4 71.1,188.0 108.4,167.4 66.5,187.9 67.4,184.4 84.2,178.6 71.4,185.9 72.4,185.7 82.4,178.0 99.4,174.2 76.5,179.1 116.1,158.8 93.1,166.5 76.3,182.2 77.5,182.9 60.6,195.0 101.5,157.4 79.7,182.9 88.4,179.6 87.0,179.7 95.1,173.1 63.8,194.1 59.5,192.8 102.0,167.8 70.7,195.4 77.7,183.1 83.5,185.7 112.6,150.3 71.6,191.7 83.6,178.1 57.5,199.9 84.5,174.3 90.8,177.0 87.0,179.8 85.8,184.3 61.4,198.3 86.2,176.7 78.8,191.9 75.3,182.7 101.0,172.9 64.4,194.6 75.7,185.3 89.3,184.8 82.4,183.6 81.6,184.9 63.8,195.9 125.4,125.6 62.7,194.6 85.5,185.8 107.0,169.0 82.5,181.1 98.9,176.2 108.6,174.6 103.1,165.2 64.2,198.6 92.7,174.1 89.7,177.6 139.1,138.0 77.6,189.9 148.8,136.1 63.1,197.5 77.8,188.4 92.7,179.6 107.7,160.1 110.3,162.6 107.0,159.0 112.9,162.5 62.2,188.4 67.4,191.8 78.7,179.3 86.9,174.7 85.1,177.2 85.7,178.5 65.5,188.8 84.0,180.2 68.0,194.5 67.2,192.0 84.6,173.9 75.0,189.6 81.0,186.0 76.3,190.1 69.1,191.8 83.7,178.7 82.7,185.6 66.6,192.9 63.5,195.1 79.4,179.4 124.8,154.6 78.8,168.7 99.0,172.3 69.1,188.2 90.7,171.3 56.3,200.7 83.6,176.2 64.0,189.5 80.5,179.4 71.4,190.0 95.5,170.5 122.1,134.9 70.2,189.2 63.4,193.0 116.3,141.9 64.7,199.4 69.1,190.6 83.0,177.7 72.3,188.3 78.9,183.9 71.8,185.3 75.4,193.1 143.4,142.6 78.1,184.1 75.5,185.6 117.7,168.2 122.9,151.6 97.2,171.9 97.0,175.2 115.8,161.6 103.0,168.6 106.6,181.2 79.9,176.5 76.2,182.9 117.3,161.3 93.3,173.0 130.8,156.3 146.8,121.4 86.7,173.9 77.7,185.8 87.0,175.4 91.9,157.3 69.7,186.5 130.9,152.6 91.3,176.0 70.1,192.1 63.9,198.0 103.8,159.8 77.6,163.2 92.8,173.7 101.1,161.7 80.4,187.6 116.3,159.1 67.0,192.6 76.9,173.9 68.0,195.9 95.7,176.8 79.1,185.2 59.2,196.9 122.3,165.0 96.8,180.8 73.6,189.4 57.1,198.7 91.3,188.6 63.3,192.5 88.1,173.1 77.7,184.8 106.1,152.9 70.9,187.0 123.3,154.1 124.9,160.5 76.6,192.1 65.5,194.1 78.2,180.6 65.3,195.6 101.4,182.0 84.2,188.3 85.3,187.1 126.0,158.9 87.7,183.1 86.0,185.6 82.4,186.4 115.5,175.3 97.0,180.3 81.9,190.1 102.0,172.9 101.2,177.8 111.3,173.4 145.7,161.8 97.5,177.9 88.6,186.2 165.0,151.7 94.1,181.9 134.4,167.5 107.9,177.0 98.5,178.8 138.2,160.9 112.1,169.3 96.8,179.7 110.0,169.2 95.6,187.8 108.4,175.9 106.8,169.7 104.1,172.7 118.3,169.5 70.1,195.3 110.4,178.6 95.8,184.4 102.7,174.5 109.6,176.2 89.2,187.2 87.7,188.2 97.7,183.7 101.4,178.0 101.4,181.1 88.3,184.5 99.9,175.9 90.8,182.4 82.4,186.9 94.9,178.0 91.0,186.2 114.4,170.2 89.4,182.6 88.5,185.3 108.7,180.4"/><line x1="48.00" y1="203.80" x2="327.00" y2="22.60" stroke-width="1.0" stroke="#000"/></g><g clip-path="url(#clb)"><polyline fill="none" stroke="none" marker-start="url(#dm)" marker-mid="url(#dm)" marker-end="url(#dm)" points="474.1,31.0 477.4,37.4 479.7,52.7 488.7,69.9 513.6,58.2 511.5,64.9 476.5,86.7 476.5,97.2 456.7,100.5 447.9,115.1 454.6,112.7 466.9,112.6 469.0,115.1 429.3,125.6 439.1,124.9 441.4,131.1 429.3,133.2 430.7,140.4 443.5,139.0 454.1,138.6 462.2,131.1 465.7,131.1 468.1,125.8 472.2,127.0 469.5,132.2 472.7,132.2 476.2,123.5 471.0,138.1 458.7,138.1 486.4,86.6 485.6,90.9 484.4,95.0 482.1,98.5 509.3,89.0 544.3,87.8 528.0,94.2 499.6,95.0 504.9,99.7 489.7,100.6 496.5,101.5 486.4,107.3 483.3,111.4 510.5,108.2 518.3,108.2 522.7,113.1 528.0,114.9 544.3,103.8 491.4,113.7 494.4,113.1 500.8,116.1 512.5,117.8 490.3,117.2 530.0,123.4 537.6,123.4 537.6,127.6 545.5,122.6 551.3,127.6 518.9,131.1 521.2,126.1 518.3,126.1 506.0,120.8 500.8,123.8 504.3,129.6 509.5,133.1 513.0,136.6 515.4,138.4 515.1,141.3 520.6,143.0 515.4,144.8 509.5,145.6 511.9,149.5 521.8,151.8 509.5,157.0 517.1,160.5 504.9,165.2 502.5,167.6 498.4,161.7 496.1,164.1 492.0,155.3 496.7,152.4 500.2,150.0 489.7,166.4 485.0,168.7 482.7,172.2 487.3,172.2 493.2,159.4 505.4,148.9 502.5,143.0 498.4,140.7 493.2,144.2 489.7,148.9 486.2,158.2 485.0,165.2 485.0,175.1 487.9,174.5 479.7,179.0 472.7,179.2 469.2,176.3 461.6,185.0 468.6,193.4 468.0,200.8 487.3,194.4 462.2,191.5 458.7,194.4 455.2,195.5 451.7,194.4 449.3,193.2 457.5,198.5 447.0,196.7 443.5,189.7 447.0,188.0 418.5,189.6 425.4,188.8 427.9,195.2 425.4,184.6 417.6,189.0 423.9,187.1 422.7,182.6 425.5,175.8 425.8,191.5 428.1,178.8 426.3,188.4 422.3,189.1 420.8,185.4 427.1,184.0 417.1,192.1 426.0,176.7 417.9,191.8 423.1,198.1 423.3,180.5 418.6,197.1 420.1,186.2 429.2,189.0 430.5,182.3 425.0,179.5 432.6,175.3 419.1,187.4 418.3,184.8 422.4,188.9 427.3,179.3 424.0,189.9 417.4,191.2 422.2,187.9 420.0,182.1 419.8,190.2 424.4,184.0 412.5,190.2 420.9,193.0 428.6,188.2 421.6,187.1 409.4,199.7 415.2,198.2 422.3,176.4 423.5,189.7 420.2,191.8 410.8,196.7 427.9,186.1 409.6,194.9 413.1,187.2 420.8,192.4 421.4,181.9 423.8,189.9 408.2,199.6 410.9,191.9 424.9,186.5 421.1,179.3 418.6,182.8 422.2,194.9 414.2,192.3 419.5,191.7 431.2,174.7 417.7,190.3 423.8,190.9 415.5,181.7 417.0,194.3 426.3,172.5 426.5,189.6 424.0,185.3 421.3,181.0 423.7,189.4 420.2,189.5 421.1,184.7 416.2,180.8 429.4,159.6 413.7,195.1 422.0,190.7 415.9,198.2 417.2,192.3 424.5,189.5 425.8,185.6 413.7,201.5 420.7,182.8 429.5,187.0 423.6,184.6 411.8,191.9 412.0,203.9 407.9,202.7 428.4,185.4 411.7,185.8 428.4,186.6 412.5,190.4 426.8,180.0 416.4,188.9 415.2,195.3 412.1,195.5 411.0,189.6 409.5,192.0 424.0,185.0 434.3,182.1 417.8,193.1 422.9,186.9 418.7,186.7 419.6,203.2 419.7,186.5 418.1,186.2 424.9,194.9 419.1,197.3 419.7,193.8 420.0,185.6 428.4,181.2 413.4,192.5 417.7,194.1 422.5,192.3 417.6,185.1 412.5,189.1 427.7,184.2 422.1,196.0 423.1,181.8 421.2,186.9 419.1,184.8 429.2,175.3 422.2,185.2 425.0,199.7 424.7,196.4 416.0,180.5 419.6,184.6 417.4,200.2 438.3,178.6 418.4,197.7 421.6,186.4 416.8,189.4 419.9,186.3 427.1,182.4 423.1,187.7 418.5,193.3 427.8,182.4 428.7,171.6 428.8,175.7 413.0,190.4 414.6,188.1 415.5,189.1 420.8,197.4 429.0,186.6 414.1,197.5 424.6,184.2 425.5,181.0 424.3,185.1 416.9,181.2 423.0,190.7 420.4,186.2 421.7,187.6 414.3,198.6 434.1,169.6 422.7,184.1 417.0,191.3 421.3,198.3 419.3,182.2 414.5,194.0 418.0,185.5 425.8,185.3 419.3,187.7 416.3,181.4 408.4,195.8 425.3,200.0 429.6,188.8 418.8,188.1 424.1,184.6 425.0,186.0 420.0,186.7 423.4,184.1 418.3,192.9 419.6,187.8 424.6,187.8 422.0,187.5 413.6,188.6 418.2,187.1 430.3,177.1 419.3,189.5 414.4,189.4 428.7,176.0 413.6,198.0 424.6,189.7 441.8,160.0 430.1,184.0 422.8,180.8 427.0,188.8 433.8,179.6 423.0,192.0 431.6,185.5 419.7,192.3 408.4,192.8 420.0,189.5 417.5,192.8 420.5,197.8 425.4,182.2 421.1,194.3 423.0,180.5 434.2,178.9 418.3,184.6 428.2,181.9 419.0,187.5 432.9,191.0 429.3,182.5 423.9,194.8 419.7,187.9 425.6,181.8 410.3,192.9 410.8,199.6 419.1,191.9 413.2,191.3 408.8,184.0 419.5,192.5 430.5,182.4 414.0,189.5 427.0,187.4 431.6,175.0 420.6,182.6 414.6,181.6 421.1,176.7 424.1,185.7 409.3,197.8 428.2,184.6 426.0,192.0 417.2,197.4 424.4,182.1 418.8,202.1 426.2,185.7 420.0,191.4 422.5,181.3 424.3,186.1 424.0,196.0 413.7,189.7 416.9,196.9 415.6,184.3 416.2,188.6 426.8,179.6 411.1,194.6 419.9,191.5 424.1,181.7 411.0,189.3 412.4,199.7 422.8,190.5 411.7,185.2 425.0,194.6 424.2,193.1 426.8,186.8 423.3,186.8 415.5,193.0 430.3,178.3 425.1,194.5 418.3,189.5 421.9,193.4 433.0,175.8 417.4,189.9 421.7,185.6 416.5,186.8 415.5,196.9 423.6,181.6 417.0,184.7 430.3,186.9 421.9,189.9 413.8,197.8 414.9,200.4 422.6,181.4 426.5,176.7 421.2,180.5 425.4,184.3 422.8,186.2 413.3,197.3 417.7,194.1 423.5,189.4 415.8,186.9 419.4,187.4 417.8,200.8 420.7,199.0 418.2,191.6 430.8,179.5 428.1,185.8 435.4,176.4 418.6,196.0 419.8,185.4 423.6,183.8 433.2,183.0 419.7,181.3 417.3,196.7 427.0,186.4 414.2,182.6 421.1,187.5 432.1,178.8 415.1,197.2 424.3,192.2 424.7,186.5 415.9,188.6 419.4,177.9 427.4,189.5 416.6,184.8 421.2,179.2 424.0,172.6 419.5,192.5 418.9,192.9 423.8,186.9 412.1,194.2 415.8,197.4 412.3,199.4 423.2,176.8 421.9,190.3 422.0,183.5 418.0,192.8 426.9,185.4 424.7,183.2 412.1,194.9 419.9,192.4 427.3,177.3 411.5,189.7 412.6,189.5 422.7,188.5 430.7,183.1 433.7,184.7 432.1,175.4 422.9,183.7 424.6,199.4 414.1,190.0 416.3,186.5 419.5,196.5 422.6,188.5 410.9,197.8 421.1,191.5 418.0,193.1 422.4,196.5 420.1,188.8 419.6,197.6 420.1,179.0 428.4,191.2 434.2,180.9 417.4,196.0 422.6,188.1 415.8,191.7 416.6,192.6 417.5,191.3 408.5,195.2 420.6,190.2 434.8,187.9 420.3,184.6 429.7,189.3 422.5,185.9 421.1,190.3 431.5,183.3 419.7,192.5 422.1,182.5 415.5,188.6 424.8,172.4 414.0,195.0 428.5,187.2 425.2,184.7 422.0,192.4 426.3,189.6 410.4,188.6 420.4,189.5 428.7,187.9 413.8,195.5 431.0,176.6 424.3,178.8 419.5,187.1 413.2,186.8 425.9,194.8 422.5,184.2 410.2,188.5 416.5,190.5 424.3,187.8 436.8,167.6 416.8,192.6 417.5,190.1 423.1,190.7 422.2,188.5 422.6,185.1 427.2,191.0 408.4,190.2 420.7,197.3 418.9,198.5 425.1,183.9 420.6,196.3 410.7,189.4 422.9,181.8 414.3,189.1 417.6,200.6 423.8,190.0 425.6,184.5 414.4,188.0 421.9,190.6 435.9,182.7 431.4,179.3 414.6,197.3 409.3,194.7 419.4,191.6 422.7,194.5 422.0,188.9 428.4,178.9 421.3,185.2 421.0,184.2 423.6,182.9 412.2,189.8 423.3,195.3 414.2,192.7 414.7,199.3 423.5,193.1 420.7,187.7 424.7,195.6 422.9,191.3 419.7,187.5 428.4,181.7 426.2,178.1 426.7,185.6 422.7,188.9 420.2,195.1 427.2,190.3 424.1,188.5 419.2,191.7 417.4,187.0 427.9,167.9 427.9,184.0 425.5,169.7 409.0,200.1 421.3,179.4 426.7,187.8 428.0,200.8 424.2,188.9 424.2,185.3 419.3,185.6 417.4,189.2 424.3,190.2 424.5,192.9 415.2,188.6 418.8,189.1 427.0,185.7 425.1,180.3 427.7,176.6 418.0,194.6 412.4,193.7 415.2,183.0 425.4,180.6 419.8,197.5 418.8,189.6 414.2,175.7 426.5,188.9 415.3,193.4 422.4,177.3 426.3,181.6 418.2,197.0 435.2,170.5 413.6,200.2 425.9,186.1 417.4,194.5 428.0,189.2 430.5,188.9 425.3,188.8 419.8,197.3 414.9,200.6 428.1,183.6 423.8,177.9 415.7,190.1 421.6,191.0 418.9,189.3 414.3,185.2 421.7,187.4 425.1,195.0 421.4,191.7 420.5,181.5 410.4,198.6 422.7,188.0 427.9,188.7 419.8,182.7 417.8,189.0 427.3,179.8 423.6,182.2 421.8,185.2 427.3,188.8 414.0,193.0 424.1,180.7 414.5,189.4 411.5,192.0 429.1,185.9 419.0,190.9 425.1,177.2 410.4,193.2 421.1,187.3 423.8,190.5 423.6,188.8 432.1,170.9 417.1,188.8 422.7,177.0 419.8,191.9 410.2,194.4 424.9,195.9 414.1,186.3 415.0,196.2 414.9,196.5 419.1,197.2 420.1,190.4 430.7,178.3 415.6,179.4 425.5,179.0 426.1,192.0 421.3,186.4 419.8,188.2 427.1,181.4 423.1,192.8 416.7,192.1 419.1,189.3 416.9,193.2 428.1,186.2 417.3,186.6 410.0,201.3 419.9,181.3 423.7,188.2 428.1,190.8 419.0,190.1 418.7,189.1 412.9,187.8 417.7,194.8 425.6,176.1 419.4,196.1 420.2,191.3 419.9,186.5 423.9,190.5 426.6,173.3 420.0,197.8 427.7,192.9 421.4,186.3 417.2,191.9 419.1,189.0 434.3,175.3 424.1,187.4 416.0,194.2 413.1,191.9 425.3,187.7 421.0,183.4 413.4,195.4 427.8,187.8 418.9,190.9 423.6,173.1 413.1,193.2 426.3,189.3 426.3,190.4 429.2,187.5 433.1,178.1 427.7,189.7 425.0,189.4 434.4,170.4 418.1,185.4 424.8,184.3 423.4,185.2 425.4,190.2 422.2,191.4 421.4,187.7 421.0,187.5 421.6,179.8 422.5,202.7 419.7,184.0 416.2,196.1 422.8,188.5 416.1,201.1 425.8,195.4 425.0,188.2 419.7,182.2 421.1,201.0 417.0,189.3 422.5,190.1 425.7,180.5 413.1,188.2 424.0,191.8 421.8,198.2 415.8,185.3 434.5,176.2 408.8,185.3 420.8,189.6 411.7,201.9 408.5,198.8 411.4,194.2 421.4,190.7 408.1,194.3 416.2,196.4 418.3,185.7 418.9,189.1 419.6,196.4 424.7,187.4 429.1,176.5 426.4,189.5 432.1,184.3 418.2,195.4 423.6,188.6 419.1,193.1 423.4,192.0 416.3,187.7 429.5,181.5 411.3,183.2 412.4,186.9 417.0,191.3 417.1,190.1 435.5,183.9 423.5,188.2 424.4,197.7 418.5,194.5 426.6,183.8 425.1,192.7 422.9,177.9 421.9,179.8 426.4,182.7 414.3,190.3 419.7,189.0 427.3,168.2 417.9,189.4 418.8,192.3 429.4,178.9 426.5,197.4 426.1,182.1 408.9,189.9 428.7,182.3 421.0,199.7 419.5,178.6 423.9,167.6 430.9,186.1 420.7,194.0 413.2,196.0 421.4,190.9 416.6,189.4 425.4,183.9 413.6,199.9 415.2,191.3 417.3,186.4 416.9,192.9 424.9,190.8 417.2,191.8 417.0,179.1 421.2,182.2 410.9,193.3 420.0,192.9 420.9,176.5 422.2,188.3 417.6,185.4 418.3,190.4 421.7,168.9 416.8,192.6 429.1,175.9 415.5,196.1 423.2,190.5 434.8,184.4 418.1,189.7 428.1,186.1 423.8,185.3 428.7,197.8 431.8,185.3 418.7,187.6 425.6,173.2 426.2,185.2 418.6,188.7 429.8,184.5 415.1,193.7 423.9,196.8 416.6,187.9 421.5,185.9 421.8,188.8 422.6,192.0 430.2,184.5 409.8,197.7 410.1,201.0 423.1,193.8 434.2,177.7 427.4,180.8 420.8,192.3 420.9,189.2 416.5,190.2 421.8,183.3 414.6,193.1 417.6,189.1 423.2,182.8 429.2,184.9 415.9,191.5 425.1,190.0 426.8,189.8 419.0,180.9 422.3,188.0 422.6,188.3 417.7,189.2 427.0,189.9 424.1,184.4 426.6,179.2 422.5,199.7 426.5,170.2 415.0,196.0 422.2,195.8 416.2,186.1 415.4,192.1 418.9,192.8 412.9,194.0 424.7,182.1 428.1,176.7 426.8,190.2 416.8,200.5 424.6,189.9 414.8,189.6 421.2,182.8 421.7,191.5 426.4,171.7 420.3,189.1 415.8,200.5 435.7,184.6 427.1,183.2 420.7,193.5 424.1,192.4 411.3,196.5 421.2,191.5 423.1,182.6 420.7,182.8 425.6,181.4 412.2,198.4 427.0,185.3 422.9,196.7 421.6,193.2 426.3,183.6 429.2,184.4 428.0,181.3 409.7,202.1 413.1,180.4 418.3,187.5 412.5,199.2 421.0,187.5 423.1,180.6 430.3,182.9 424.1,183.3 425.5,187.4 424.1,193.9 413.7,191.9 423.6,186.3 412.1,194.1 419.7,199.0 428.5,182.5 417.0,198.2 413.7,195.3 426.2,183.3 412.9,187.7 420.6,184.1 417.6,190.2 408.1,203.9 418.6,183.7 430.0,190.0 411.5,195.7 424.3,188.7 415.0,196.8 415.3,194.0 430.5,181.0 433.4,176.0 419.5,193.0 415.7,194.3 420.2,185.8 421.0,171.5 429.8,193.1 418.1,184.9 432.5,179.6 420.0,196.5 418.9,192.5 411.4,200.5 422.7,188.4 423.3,188.4 416.1,197.9 420.8,190.6 418.3,187.0 417.7,200.5 422.3,190.4 423.5,187.5 409.8,199.7 428.8,185.3 428.0,176.1 419.6,184.4 425.2,178.2 419.0,183.8 427.6,184.7 418.0,179.0 419.4,197.0 428.6,185.5 425.6,194.4 410.4,199.9 417.2,188.1 431.6,185.8 408.9,196.8 417.5,191.8 426.1,184.5 427.4,185.5 423.5,175.4 417.0,190.0 410.3,188.9 418.7,191.2 417.9,180.2 418.5,185.7 417.7,191.5 422.7,188.8 411.1,192.8 416.5,198.5 419.5,190.8 424.3,179.8 428.3,176.3 420.3,186.5 424.4,181.8 412.1,195.0 435.4,176.2 417.2,185.6 426.7,185.1 425.1,187.1 420.8,184.8 417.1,193.5 424.7,182.1 418.4,185.3 419.3,184.3 418.2,194.7 421.0,190.1 423.4,186.4 420.8,193.8 421.3,191.3 425.7,190.4 420.6,176.7 430.9,170.9 416.3,186.0 423.0,170.8 414.8,201.8 426.0,199.1 415.9,186.4 416.6,190.9 425.9,183.0 417.3,193.7 418.8,193.3 419.9,189.9 417.1,185.9 415.0,195.4 430.7,183.4 408.5,196.2 411.2,192.9 419.7,190.2 429.8,174.0 432.1,181.1 409.1,198.5 434.2,179.9 422.2,191.0 409.7,190.5 419.1,183.9 414.5,192.8 413.6,197.7 420.2,193.9 426.7,174.7 425.9,186.7 425.1,189.2 415.9,189.0 419.1,179.1 428.5,182.0 414.6,189.2 416.0,186.1 412.5,193.8 419.3,188.5 417.1,182.6 419.4,193.2 428.8,167.9 414.1,198.9 414.9,200.3 419.3,193.3 422.8,178.0 421.4,192.4 432.9,186.4 418.3,185.6 420.5,180.3 424.2,189.8 416.5,181.9 416.0,184.4 421.1,181.4 425.8,178.3 417.4,189.6 417.9,198.6 423.5,190.2 418.8,194.6 416.4,190.2 419.2,186.4 417.3,186.8 426.2,180.4 422.7,183.4 431.8,181.2 423.0,190.8 419.1,198.2 430.0,180.7 415.2,201.2 420.3,195.7 431.5,178.8 427.7,179.3 419.5,198.5 430.2,185.6 422.7,185.4 412.9,184.1 418.1,187.3 425.8,179.5 424.6,181.5 423.6,194.1 423.7,170.0 423.3,178.0 422.1,188.3 428.4,187.0 421.7,186.5 432.2,174.5 422.8,183.0 413.7,192.3 419.4,182.5 423.2,185.3 416.3,192.6 412.2,190.8 408.7,194.3 423.6,184.5 414.2,191.0 424.7,191.3 412.4,197.1 427.8,189.6 422.6,197.2 424.1,190.9 418.6,192.6 412.9,180.5 414.7,194.0 426.4,182.0 418.6,186.5 411.1,186.8 413.1,194.6 413.3,189.6 422.7,176.4 421.0,198.4 426.8,178.6 430.8,176.3 415.4,199.3 418.8,187.9 415.1,199.8 423.2,196.3 427.5,178.5 412.1,192.5 423.4,186.7 423.9,194.1 422.5,185.6 420.6,185.2 417.6,188.6 425.6,189.3 425.5,190.2 424.8,185.0 418.9,185.7 425.6,196.4 423.9,190.1 424.2,182.0 428.1,174.4 414.9,198.4 422.5,182.5 425.0,180.3 412.0,197.0 431.0,196.3 418.9,197.0 422.1,184.6 417.0,194.7 429.0,180.1 415.5,186.3 418.5,188.6 412.9,196.1 429.8,182.9 415.4,192.4 422.7,194.8 416.9,191.5 413.6,191.9 417.4,199.5 412.1,200.7 413.7,195.6 419.7,183.7 422.7,177.3 426.2,183.5 417.6,193.3 419.9,186.6 435.9,166.3 417.3,191.8 437.6,174.5 420.5,192.5 420.1,183.7 432.3,184.7 417.3,190.0 417.7,188.4 422.2,194.5 422.4,186.9 416.4,194.1 408.6,196.4 421.7,180.8 412.9,191.8 416.7,182.8 420.4,181.5 428.0,189.2 417.1,190.7 415.3,196.0 421.0,188.9 427.4,185.4 423.8,186.5 418.6,189.4 419.1,188.6 414.2,188.7 420.0,190.4 423.3,186.5 420.8,177.6 413.1,189.4 417.2,180.9 426.3,186.5 421.3,195.6 417.4,194.2 431.9,182.1 424.0,191.4 417.2,189.1 432.6,182.9 424.7,188.9 422.5,198.9 427.8,185.1 423.6,189.4 419.4,185.2 420.3,190.2 425.0,193.1 416.6,177.8 426.2,185.6 412.2,193.0 417.8,182.5 410.5,200.1 420.9,172.8 421.1,185.0 412.0,201.7 413.8,190.8 421.1,190.3 424.6,190.4 417.4,181.1 420.3,184.5 420.1,192.1 408.1,194.8 419.9,184.5 412.9,192.8 428.9,188.1 423.1,193.2 415.6,185.0 418.0,195.1 424.4,190.3 412.0,190.5 425.7,185.8 415.7,201.6 410.0,192.1 419.8,193.1 436.2,176.3 422.8,188.8 424.9,183.7 422.2,189.5 422.8,184.2 420.9,181.8 419.9,186.4 421.7,179.1 414.4,192.0 422.6,192.5 423.8,181.4 417.5,191.0 430.3,172.2 425.4,182.1 426.3,177.7 410.7,195.9 414.5,195.7 418.5,181.5 427.9,193.8 420.7,189.4 421.9,186.7 410.0,191.0 419.9,193.8 420.0,189.8 422.8,183.4 422.5,185.2 414.4,187.5 417.7,201.2 423.8,184.0 428.8,181.6 420.3,194.6 415.3,179.2 424.4,182.6 426.0,178.4 422.9,185.6 423.8,177.5 418.3,195.9 424.2,185.9 422.5,196.2 415.3,199.2 434.7,166.1 426.7,191.3 417.9,190.0 422.5,191.8 419.0,186.6 418.8,196.2 439.4,173.7 434.8,175.7 418.5,187.8 421.5,184.8 426.1,187.0 423.6,196.2 426.6,190.4 425.8,182.1 424.5,186.9 417.5,195.2 416.8,190.7 422.4,188.5 428.2,186.0 423.9,192.8 422.9,188.2 415.1,191.9 431.3,176.8 422.5,184.8 418.5,183.4 422.6,181.4 426.4,187.4 422.7,185.1 424.2,187.2 420.1,199.1 424.3,182.4 427.1,179.1 419.6,193.9 424.3,190.0 418.1,197.8 412.6,188.9 415.0,195.6 423.4,182.7 416.4,198.1 424.2,193.2 425.1,177.6 426.8,171.9 416.9,189.4 420.7,191.8 420.9,186.4 424.8,180.3 433.2,176.8 419.7,181.3 418.3,184.3 419.2,182.2 418.9,195.1 420.4,183.3 414.1,189.9 425.3,185.2 419.9,189.1 413.7,191.0 430.6,178.6 423.9,187.8 425.9,194.3 426.5,180.3 418.3,180.3 413.5,190.0 419.9,188.5 423.7,177.4 422.8,187.8 427.0,177.2 427.9,181.0 413.5,179.4 418.7,188.2 414.4,194.1 423.8,187.9 422.2,187.6 426.7,188.3 416.1,203.5 423.3,181.6 424.6,186.4 417.8,191.4 418.5,191.2 409.9,202.5 428.8,193.5 423.2,180.7 411.8,194.7 417.6,186.9 414.7,190.9 415.7,192.2 411.1,203.3 417.6,184.3 413.8,192.0 427.5,184.0 423.9,191.5 424.7,186.1 425.8,177.6 414.0,197.2 431.7,181.0 425.1,175.5 416.8,181.1 418.5,188.0 422.1,184.0 417.1,191.0 414.2,186.6 420.0,189.2 429.7,180.2 424.3,176.5 432.7,185.5 413.4,189.4 429.0,179.1 413.7,185.3 416.4,184.9 418.6,180.2 428.3,177.4 418.5,183.2 425.6,188.4 411.3,191.7 427.7,184.6 425.0,193.5 424.6,196.3 413.2,193.9 422.1,188.7 427.3,188.1 423.0,184.5 413.1,184.1 429.5,190.8 431.1,186.6 410.5,200.2 423.2,196.0 422.7,180.5 413.3,191.3 432.6,179.3 412.1,195.6 417.6,200.5 425.6,172.0 416.5,185.6 413.7,197.4 420.3,187.0 415.1,186.4 421.5,185.4 420.2,196.9 423.4,188.5 414.0,199.2 415.3,186.3 429.7,195.0 411.4,190.9 416.0,195.2 428.4,192.8 423.1,192.7 413.1,186.8 411.2,195.9 426.3,180.4 420.0,188.6 430.0,194.2 441.8,165.6 416.2,189.9 424.3,187.7 437.5,186.3 421.6,191.2 427.3,175.9 418.3,189.8 424.8,194.0 424.6,188.5 419.6,194.4 422.1,184.3 421.9,188.7 421.1,195.0 417.2,195.2 424.5,187.9 414.5,199.5 431.3,180.2 413.6,196.2 426.8,192.1 421.7,193.2 422.7,179.8 418.5,189.4 416.6,187.6 418.9,189.9 420.8,184.5 412.3,192.3 412.1,197.1 422.4,192.9 416.9,197.9 421.2,192.6 413.6,198.5 432.1,174.9 416.7,189.6 421.5,182.6 423.7,195.2 430.4,180.7 420.5,189.7 412.5,194.6 432.6,191.3 429.2,198.1 421.8,187.4 429.4,188.6 419.5,191.4 428.7,183.6 424.6,193.7 426.1,185.4 440.2,173.9 424.4,186.1 432.9,183.4 448.7,171.0 429.9,167.4 434.6,183.0 436.9,165.5 430.3,175.1 424.6,187.4 439.0,176.1 448.9,148.6 435.1,170.3 441.0,160.4 434.5,168.9 429.5,179.6 441.3,169.3 429.0,178.1 440.0,174.6 439.0,175.8 432.7,175.9 444.6,162.8 434.5,174.5 427.5,179.9 434.6,174.4 432.0,175.8 441.7,168.1 442.2,176.1 438.9,169.7 433.4,164.2 440.6,159.1 437.0,174.5 433.1,172.6 435.3,173.3 431.0,179.5 426.9,163.4 434.9,166.1 421.2,179.1 440.6,172.3 432.4,174.1 429.5,173.5 427.4,158.3 437.8,166.9 428.9,173.6 431.7,167.2 434.0,179.4 431.9,172.5 438.2,167.9 431.3,178.1 435.9,173.0 431.9,182.5 431.7,186.8 443.7,163.8 443.0,156.0 438.7,158.9 436.6,166.4 423.6,174.0 428.3,176.6 431.8,180.0 429.7,169.9 445.3,160.4 426.7,175.5 424.6,190.6 432.2,176.7 432.9,164.2 428.5,185.3 444.8,154.0 440.1,164.4 436.2,179.7 429.3,180.8 446.2,162.5 416.9,186.7 435.0,162.0 427.1,179.9 420.5,188.2 438.1,168.4 439.3,166.5 438.8,159.5 443.1,163.1 421.6,195.0 439.3,159.2 441.0,167.2 437.9,159.3 420.5,182.8 435.9,176.7 434.0,157.7 434.3,166.7 431.9,180.8 427.8,181.6 425.3,177.0 433.2,183.0 423.7,180.1 415.1,194.2 416.6,181.5 437.7,175.4 428.5,181.5 450.8,157.1 429.9,172.0 440.0,170.3 447.9,159.5 441.2,177.9 437.9,167.1 450.2,164.4 439.7,174.1 428.1,192.1 449.6,164.7 429.8,181.7 437.2,170.2 427.4,188.4 435.0,174.6 422.2,181.2 430.5,178.8 432.0,167.8 431.3,168.6 436.2,165.2 427.1,175.2 438.6,173.0 430.7,167.4 441.5,161.7 431.3,169.9 444.6,161.5 445.3,156.8 430.5,184.5 438.8,179.4 427.3,182.0 418.3,171.6 423.3,183.3 425.1,179.0 441.1,162.5 437.0,169.1 435.3,174.6 439.2,153.8 437.8,147.9 435.0,176.2 436.6,175.9 432.0,180.6 437.9,172.8 430.7,170.5 442.1,168.0 434.9,170.2 427.7,170.9 432.7,179.3 439.9,176.6 438.0,171.8 440.3,181.2 436.0,176.8 434.2,175.6 438.6,169.0 430.4,178.7 444.5,157.7 434.9,178.3 428.7,179.7 430.3,184.6 437.3,169.3 431.3,179.7 443.6,168.7 429.6,178.5 437.1,163.3 427.0,178.7 444.7,144.4 443.5,167.4 432.6,188.3 429.1,180.6 438.5,171.5 428.5,177.9 447.1,154.5 439.9,169.2 436.2,166.7 436.4,168.2 432.2,177.8 429.3,166.9 424.2,182.4 410.8,193.2 414.0,176.8 430.0,150.3 420.6,179.6 429.7,165.6 428.4,168.6 413.9,182.4 425.8,180.2 433.8,142.5 420.5,185.1 419.6,180.7 428.6,175.3 412.8,187.0 416.5,173.7 422.8,179.3 422.8,168.9 415.3,191.6 418.4,173.0 411.9,178.0 432.7,166.1 437.1,182.6 426.9,180.6 427.7,182.1 423.7,171.7 418.5,182.2 426.8,186.9 427.7,143.2 423.1,174.5 436.0,136.3 440.8,160.6 428.3,165.0 414.2,182.8 445.4,154.3 428.3,183.1 421.4,184.8 420.5,178.5 424.0,184.3 428.3,187.3 428.5,151.2 428.6,186.9 415.4,195.2 420.0,185.0 427.5,182.5 435.4,171.4 431.5,149.8 424.1,178.2 411.4,188.0 413.1,194.8 422.0,181.5 412.4,195.7 433.0,177.2 417.3,184.0 432.5,147.8 430.8,163.1 435.5,176.7 411.8,193.0 415.1,190.1 423.9,187.7 413.3,171.8 430.6,179.7 414.8,187.5 418.3,192.5 421.3,141.8 421.1,172.8 424.4,167.4 425.7,168.5 430.5,183.1 436.5,180.3 417.5,178.3 438.4,158.8 416.5,184.2 432.2,162.9 425.2,179.3 434.4,140.8 414.1,188.1 428.7,182.5 425.6,156.2 432.2,158.4 422.1,177.6 425.9,183.2 428.7,176.9 419.5,180.7 445.3,178.4 415.5,145.5 434.3,170.1 428.0,170.9 432.2,140.6 419.6,188.4 408.7,197.8 427.6,169.1 433.2,178.5 410.2,180.3 424.1,182.8 441.4,169.0 428.4,165.9 422.0,178.7 419.2,171.2 433.7,165.3 408.8,201.5 422.1,160.0 438.1,120.3 422.6,189.5 411.8,190.3 428.5,164.2 423.1,185.0 424.6,173.7 411.5,196.7 421.0,183.7 417.0,184.0 418.9,164.5 414.0,185.4 432.7,169.7 435.4,143.9 435.6,138.5 416.3,199.8 414.9,182.8 413.2,189.4 432.4,178.8 415.8,188.5 427.1,166.5 418.5,177.2 433.7,179.5 431.3,146.1 415.5,179.8 426.8,166.1 416.9,181.4 418.0,183.8 416.3,186.5 431.6,190.9 418.9,192.1 413.2,187.8 419.2,176.0 427.1,164.2 421.3,157.8 435.5,155.2 412.4,190.3 431.0,155.7 421.0,195.3 433.6,174.2 437.4,172.0 414.7,181.9 421.2,182.9 419.2,181.7 434.6,158.6 417.6,181.5 417.1,174.5 429.7,193.6 417.0,180.0 425.4,184.7 423.5,187.5 427.7,180.4 410.9,185.6 429.1,180.0 417.9,183.7 431.5,159.4 414.5,191.2 418.2,183.4 419.1,176.8 411.9,187.9 429.6,171.4 439.9,182.9 431.3,175.3 420.8,183.5 430.4,175.5 419.2,173.4 412.9,196.7 420.2,188.1 420.7,179.0 423.1,183.7 421.1,190.1 420.5,174.0 411.6,192.2 413.3,186.7 424.9,164.9 414.7,193.4 419.5,188.3 427.0,167.3 413.5,188.9 427.2,165.8 430.7,178.4 432.1,165.7 421.3,186.6 424.9,176.0 426.7,168.8 420.8,181.6 422.3,163.3 422.3,187.3 424.4,181.2 419.9,181.5 426.9,186.4 418.8,181.4 422.6,178.1 412.2,194.2 416.6,175.9 427.7,157.5 440.4,173.7 435.5,149.8 435.1,156.6 428.9,142.4 415.6,165.9 424.1,179.8 433.6,171.7 440.0,157.2 409.1,192.2 419.1,166.2 410.1,203.0 418.5,182.7 422.6,194.1 418.4,180.3 420.0,165.9 422.0,188.5 422.5,177.0 431.0,177.7 426.7,183.3 429.7,182.7 423.1,176.8 455.5,166.5 451.5,173.2 473.8,146.9 462.5,156.4 457.3,166.0 451.6,163.6 457.8,161.7 474.6,148.4 458.1,160.2 443.4,177.4 465.6,156.4 460.4,160.3 464.0,164.7 467.6,164.0 474.2,155.2 466.0,163.1 451.2,172.6 465.1,158.4 453.5,170.8 456.2,164.8 463.7,166.1 473.4,159.0 459.8,168.9 457.0,161.2 446.2,178.6 473.4,153.3 470.8,142.9 469.3,159.5 466.8,154.6 461.5,156.0 471.3,144.4 463.1,157.5 454.4,170.6 466.3,156.8 463.5,156.9 455.8,170.4 462.9,157.4 462.9,159.9 468.2,160.9 458.4,170.6 463.3,157.4 477.5,147.0 455.3,169.7 463.4,166.5 461.3,164.9 475.5,148.7 448.2,176.9 455.9,162.9 464.8,159.1 468.0,148.6 471.9,154.7 456.0,170.2 476.1,143.4 454.1,165.8 454.9,156.9 454.5,163.1 456.8,161.7 460.1,168.2 459.4,165.4 471.0,150.4 458.9,159.4 481.7,138.4 447.9,173.6 477.7,136.9 460.3,159.4 468.7,158.0 433.5,176.6 474.2,148.9 455.9,161.2 463.8,165.6 467.0,166.7 466.4,159.8 456.7,163.0 470.1,134.8 452.2,169.9 463.1,156.5 464.2,153.2 476.1,154.5 469.4,155.1 457.8,168.2 470.3,152.9 449.5,167.6 460.4,162.5 455.7,161.6 472.4,146.9 464.8,150.2 454.5,164.1 461.4,154.1 468.0,164.7 462.9,162.6 470.8,154.4 461.7,160.4 458.2,166.4 477.2,136.9 458.1,161.7 456.5,161.7 470.7,156.3 462.4,161.4 461.8,163.3 466.7,153.1 465.5,169.8 456.7,160.3 459.5,158.7 449.6,157.3 459.6,164.3 465.8,162.6 470.7,154.9 460.3,161.0 459.3,155.4 490.4,136.1 461.4,166.2 451.9,168.9 442.9,170.9 460.1,160.8 463.5,152.7 461.0,156.7 467.2,158.9 460.5,165.3 458.4,161.1 474.7,150.7 440.2,169.0 438.6,180.2 460.8,169.9 434.6,169.3 436.0,177.6 440.9,174.8 442.3,170.5 438.8,166.1 471.3,140.1 458.2,150.6 433.3,175.5 435.9,170.9 476.6,144.4 435.5,173.9 436.2,185.0 461.2,142.8 441.8,163.2 447.1,157.1 466.2,158.3 469.9,147.2 437.2,174.8 447.9,148.6 441.6,181.6 451.0,176.1 433.7,182.3 434.3,175.2 434.7,180.4 475.6,151.1 489.6,147.3 460.5,158.8 441.5,170.3 438.3,169.4 440.6,159.1 462.7,156.9 474.4,146.4 455.1,178.1 445.7,173.0 436.9,179.3 447.1,165.4 445.8,164.6 442.2,191.7 439.4,172.9 460.7,152.7 459.5,152.4 459.1,151.6 434.0,182.4 446.4,139.3 436.6,170.6 436.0,160.4 464.2,140.9 434.6,182.4 444.9,179.8 475.5,146.4 453.8,160.9 443.2,166.7 452.7,166.0 456.0,174.2 474.4,120.9 454.8,147.8 444.5,168.9 460.9,164.3 441.7,154.4 435.6,189.9 487.5,119.1 447.9,153.2 453.6,174.3 459.8,140.1 486.5,155.8 434.6,178.8 448.3,173.8 442.8,174.0 435.2,161.2 464.3,129.9 459.4,152.9 449.2,156.0 476.4,119.2 456.9,159.9 468.4,131.4 438.1,175.3 447.4,175.4 434.9,178.7 444.8,152.0 458.0,169.3 460.9,146.1 484.0,146.1 436.2,185.6 439.3,172.1 459.0,147.5 461.1,168.1 449.3,148.8 440.9,159.8 463.3,147.0 441.4,171.0 436.2,186.3 444.3,184.4 453.8,163.7 484.8,151.5 439.5,176.6 481.3,145.3 457.8,145.5 476.6,161.7 473.0,150.5 486.4,148.8 489.7,121.3 441.5,178.8 468.3,156.4 444.1,175.3 441.0,158.4 459.2,140.8 459.1,159.3 462.2,165.3 449.4,172.5 455.1,143.9 453.2,175.0 435.5,167.6 435.4,185.0 450.3,181.1 446.2,170.9 455.4,181.3 438.4,175.7 485.0,125.7 440.7,173.6 450.6,160.4 454.8,158.9 454.0,158.0 469.7,147.8 459.0,155.3 449.6,169.4 479.5,156.5 457.1,157.8 467.9,150.3 436.1,167.5 469.7,135.0 455.4,166.7 482.7,134.4 452.4,151.0 446.8,175.5 437.5,180.0 441.2,176.5 468.0,165.3 457.6,141.1 447.8,169.5 452.8,174.1 448.7,160.3 439.4,174.3 437.5,166.7 436.6,170.5 462.8,143.4 453.0,158.3 458.7,158.9 440.7,158.5 458.2,140.4 460.3,155.1 464.0,129.2 468.2,151.1 447.4,174.7 439.0,166.6 449.9,168.6 486.1,111.4 479.8,136.7 446.2,162.3 448.5,162.1 436.8,174.3 437.5,169.8 435.6,181.2 471.8,133.0 435.9,184.7 434.1,162.9 480.9,147.4 441.1,161.6 437.2,174.1 447.0,172.1 471.0,132.9 450.7,176.7 436.1,174.0 451.8,158.2 440.8,165.4 476.3,141.7 437.3,172.1 435.6,174.3 450.9,183.4 436.2,172.9 451.9,167.6 450.5,167.4 444.4,166.0 465.7,162.9 471.9,142.1 466.5,149.4 464.9,162.1 454.7,173.7 441.3,172.2 445.3,161.8 433.7,185.6 435.8,188.8 489.5,89.7 448.8,164.5 445.8,168.8 482.1,128.3 455.5,172.6 456.2,132.7 457.8,174.6 434.9,183.5 450.3,149.5 446.3,158.0 481.4,143.8 472.0,143.4 434.8,168.2 441.2,168.8 455.9,160.0 440.8,162.8 472.0,152.4 461.4,166.6 449.4,154.2 438.0,169.7 449.3,169.9 448.7,168.0 437.2,165.5 442.3,172.2 442.3,162.5 458.7,162.3 464.8,154.6 442.6,164.4 442.1,162.7 461.1,150.1 477.3,158.8 486.1,138.1 436.4,177.1 461.5,140.7 437.7,175.2 438.9,168.5 488.1,117.3 455.0,181.2 442.6,167.6 436.6,167.8 439.3,171.5 471.8,157.8 466.3,151.4 457.5,134.8 441.6,177.2 440.3,153.3 452.5,132.0 446.7,171.8 486.3,165.4 437.2,175.7 467.1,144.3 468.0,157.6 457.3,144.6 441.8,168.1 449.0,166.5 460.2,156.4 458.6,147.5 461.8,172.1 453.8,173.5 433.8,169.4 447.7,171.3 460.6,145.3 451.1,147.5 486.8,121.2 458.9,166.2 487.9,126.3 435.0,172.5 444.1,176.0 460.2,160.6 444.2,172.0 448.2,161.3 433.4,184.0 436.8,183.2 478.5,139.3 439.5,169.8 443.6,174.7 434.8,156.1 452.3,157.0 489.3,139.3 439.5,173.6 449.9,161.6 457.4,162.5 460.9,159.3 443.8,161.0 441.0,159.7 474.8,147.9 435.3,177.3 455.6,168.0 483.4,138.5 448.0,168.2 475.5,160.4 451.1,155.9 469.4,162.8 443.4,173.3 449.1,154.6 435.2,178.6 461.1,140.7 441.6,177.2 446.8,153.0 433.3,168.0 452.6,174.7 472.5,151.1 474.8,146.7 465.6,162.0 460.6,159.5 449.5,174.8 437.7,170.9 458.7,162.4 435.3,173.9 467.9,156.4 470.6,161.5 437.7,166.9 473.0,102.7 461.3,153.1 436.3,164.5 486.0,126.7 442.7,177.6 465.3,157.8 457.5,153.5 448.0,174.4 443.4,178.3 439.5,172.5 487.2,134.9 438.4,173.8 448.3,174.2 461.5,163.0 438.6,169.8 448.1,155.4 446.3,168.4 459.2,155.9 473.1,127.5 470.3,152.5 466.9,129.8 457.1,149.3 445.8,168.9 439.5,176.7"/><line x1="399.30" y1="203.90" x2="677.10" y2="22.70" stroke-width="1.0" stroke="#000"/></g><g clip-path="url(#clc)"><polyline fill="none" stroke="none" marker-start="url(#dm)" marker-mid="url(#dm)" marker-end="url(#dm)" points="77.9,300.4 77.9,306.3 74.5,313.5 105.1,310.4 115.3,308.0 70.5,325.5 73.6,324.3 85.5,322.3 90.3,320.9 95.8,325.5 67.2,334.8 73.6,332.2 78.9,332.4 88.8,328.5 91.1,330.8 88.8,334.5 96.4,332.2 101.1,330.8 99.0,334.0 107.5,334.0 109.6,329.9 114.5,328.7 120.9,330.1 82.4,339.8 98.1,338.6 113.3,338.3 73.0,339.4 148.4,325.4 177.9,325.4 136.7,334.0 139.0,337.5 144.0,336.3 183.4,332.0 182.2,335.1 179.0,337.5 133.8,341.5 136.1,343.9 142.5,343.3 144.6,341.0 148.4,346.0 187.5,340.4 165.3,344.8 162.1,347.2 125.9,347.4 125.6,350.0 131.7,350.3 140.2,351.5 146.0,349.7 149.5,351.8 153.0,350.9 174.6,352.9 182.2,355.0 190.4,354.4 197.4,344.8 195.1,348.3 198.6,350.3 201.5,349.1 241.2,347.4 239.8,351.5 244.7,353.5 238.3,355.6 298.2,347.2 270.7,361.6 251.9,366.9 254.2,370.1 251.7,372.7 272.9,370.1 269.4,373.5 258.7,376.8 286.1,376.6 297.0,382.3 300.1,382.3 247.6,384.4 247.6,390.8 259.8,388.8 256.3,394.9 258.1,396.6 286.1,393.4 308.9,391.0 68.4,428.0 73.6,428.0 66.0,433.6 72.4,435.6 78.9,427.4 79.8,428.4 82.4,426.3 84.7,424.5 82.4,432.9 81.2,435.6 83.0,437.9 81.8,441.5 74.8,450.0 78.9,456.4 89.1,461.9 111.0,461.7 98.1,432.1 105.1,419.3 113.3,433.3 114.5,438.3 120.9,419.6 122.1,430.9 123.5,427.4 92.6,425.7 89.4,423.4 91.7,421.0 95.2,418.7 129.7,407.6 134.9,407.0 142.5,410.7 165.3,407.6 168.2,409.3 174.6,409.9 179.9,408.8 186.3,409.3 156.5,412.3 159.5,414.2 199.7,412.6 195.1,416.3 144.9,415.8 143.7,418.1 148.9,418.7 141.4,421.6 135.5,421.6 134.9,418.1 129.7,421.6 129.7,428.0 153.6,426.9 155.9,434.4 149.5,439.1 148.4,459.8 164.5,458.4 198.3,452.0 125.6,414.0 126.2,425.7 227.0,410.7 192.0,358.4 203.7,359.0 204.3,362.5 196.7,362.5 193.2,361.4 189.7,364.9 190.8,370.7 195.5,368.4 197.8,371.9 202.5,364.9 206.0,368.4 210.1,364.9 206.6,374.2 215.4,362.5 214.2,368.4 215.4,374.2 220.0,371.9 223.5,370.1 221.2,375.4 210.1,377.7 214.2,380.0 218.9,377.7 223.5,381.2 226.5,382.4 231.1,364.3 229.4,368.9 228.2,372.4 233.5,368.9 235.2,372.4 232.9,376.5 239.9,365.4 244.6,374.2 231.7,380.0 235.2,382.4 238.7,381.2 242.2,380.0 237.0,387.0 239.9,385.3 243.4,385.9 187.3,375.4 186.2,372.4 185.0,376.5 189.7,380.0 187.9,382.4 197.3,385.9 201.9,385.3 202.5,388.8 208.4,383.5 207.2,381.2 211.3,390.5 213.6,390.5 215.9,389.4 217.7,391.7 220.0,390.0 222.4,387.0 225.3,388.2 225.9,391.1 230.5,387.6 237.0,392.3 241.1,391.7 242.2,395.2 230.0,400.5 249.8,402.2 210.7,403.4 188.5,389.4 189.7,394.1 188.5,398.7 193.2,396.4 195.5,399.9 196.7,391.7 200.2,394.1 206.0,394.1 205.4,391.7 95.0,385.2 71.7,385.0 90.9,393.6 92.4,371.9 89.2,385.5 92.0,380.4 84.2,369.0 92.6,372.8 82.8,380.6 83.2,368.3 83.0,380.1 97.1,399.4 65.2,339.3 81.4,377.4 88.4,383.2 73.8,411.8 108.5,374.3 93.3,389.7 67.9,372.3 87.2,382.5 78.5,361.6 75.6,378.9 87.1,378.5 80.4,380.5 95.8,388.9 77.0,384.8 80.5,391.0 74.2,393.2 85.8,393.7 82.5,361.3 89.0,380.8 73.8,365.3 80.9,383.0 94.4,383.5 88.8,355.3 82.7,398.4 94.3,367.8 95.9,383.8 69.7,374.8 81.1,378.3 88.1,391.6 72.9,355.5 93.5,393.3 86.0,370.4 91.2,386.7 88.8,393.1 83.2,378.6 86.4,377.9 89.7,358.6 95.5,370.2 93.4,378.1 90.2,398.3 69.3,366.9 84.8,406.3 87.6,369.7 95.4,377.1 86.2,380.5 91.2,369.3 93.3,364.5 69.2,402.9 92.8,343.0 75.0,418.2 92.5,361.2 80.4,367.4 91.9,374.8 89.1,373.9 76.7,377.4 75.5,375.2 73.6,380.1 102.0,363.6 85.4,379.2 81.4,387.7 90.7,376.6 73.2,384.2 79.5,392.5 76.1,364.2 103.9,374.1 87.8,362.4 86.0,347.9 83.4,393.5 88.5,370.6 93.3,390.5 88.3,409.6 84.6,371.1 87.2,378.9 87.9,379.5 95.1,354.9 73.1,371.4 100.5,389.6 87.8,387.4 117.6,366.0 73.5,393.2 87.0,368.3 87.9,356.7 99.5,373.1 68.2,380.6 87.8,396.6 74.3,388.2 108.2,407.4 90.1,364.0 85.7,369.9 106.5,361.0 82.7,365.5 78.9,387.5 79.8,376.4 73.1,378.0 83.7,373.4 86.6,375.0 94.3,375.6 84.5,375.2 80.2,370.0 91.7,361.0 77.8,362.9 90.4,385.4 88.9,386.3 94.5,358.8 73.6,369.5 84.0,381.4 68.3,383.0 79.4,407.2 92.8,356.9 89.6,374.7 85.3,374.9 77.8,383.7 80.8,390.2 86.8,367.0 83.5,386.7 92.8,367.1 74.7,353.6 71.0,380.6 85.4,380.4 75.9,393.5 89.7,370.6 120.1,343.1 78.0,369.5 85.6,392.9 92.9,353.3 81.1,392.8 91.3,375.8 90.8,366.4 78.6,383.0 83.5,359.1 97.0,366.9 94.6,382.2 88.9,382.0 93.3,368.3 82.6,406.8 84.3,371.1 78.3,372.8 82.8,382.1 86.0,401.6 96.5,384.9 101.8,375.5 77.1,370.5 84.7,374.5 85.6,359.0 101.3,355.0 78.9,378.8 81.8,366.4 74.5,376.7 83.9,366.2 96.3,372.2 86.2,397.1 71.3,387.1 85.7,389.6 103.6,387.3 88.9,345.8 92.5,363.5 80.6,360.3 92.7,383.0 77.3,381.1 95.7,371.7 67.5,379.9 90.6,392.7 82.3,393.1 74.3,392.4 80.6,388.5 97.1,390.1 85.4,369.0 99.1,380.6 72.6,390.7 94.2,386.9 67.5,411.9 100.7,372.0 72.8,359.7 97.2,387.8 91.9,370.0 102.7,381.8 96.9,380.0 84.0,366.5 98.5,378.5 77.7,388.7 94.5,390.2 83.2,378.3 67.4,377.1 88.6,382.8 94.2,367.0 79.9,359.4 107.9,372.9 92.2,356.0 90.2,394.1 75.0,397.7 94.4,345.8 82.4,362.1 97.6,362.3 78.1,393.0 87.3,393.6 86.6,377.9 92.8,377.0 82.2,384.7 79.3,395.1 90.6,384.3 80.4,402.2 87.9,406.1 78.6,377.1 86.5,388.8 73.6,363.4 78.6,371.7 101.1,396.4 89.9,393.0 86.6,373.6 109.4,393.3 82.9,393.7 80.7,380.6 84.0,368.3 106.2,382.9 100.9,380.8 86.9,406.5 93.9,404.1 88.9,373.7 83.4,380.3 87.6,377.0 76.3,386.5 69.3,379.9 92.9,383.9 89.1,382.5 78.7,388.8 91.6,376.4 90.3,395.0 85.0,418.3 99.9,395.0 77.0,378.0 87.8,362.3 89.0,396.7 81.8,382.6 86.3,383.5 109.9,359.4 74.1,359.2 98.2,362.0 93.4,366.7 88.9,388.8 79.3,360.4 71.8,405.1 84.2,367.5 88.8,392.1 74.3,391.1 92.3,394.2 102.9,356.1 77.5,414.4 101.4,380.8 79.8,360.5 92.7,371.3 72.3,384.0 106.6,388.5 96.9,398.0 96.8,380.3 94.3,365.5 98.4,378.7 74.0,387.0 99.4,381.9 79.8,363.1 69.5,368.5 100.4,394.4 88.7,392.0 88.6,379.2 95.8,369.0 96.3,395.7 86.9,372.0 105.7,377.5 65.3,382.7 106.7,386.0 95.7,390.3 72.3,352.8 89.4,378.1 82.3,390.3 82.9,394.4 95.4,369.4 87.0,364.1 82.1,333.8 70.3,375.0 80.9,357.8 99.9,371.8 68.6,385.6 93.8,367.2 90.3,408.4 106.5,384.7 82.6,379.7 80.4,358.8 70.4,412.7 70.5,380.2 95.8,381.9 94.0,376.3 90.9,390.8 94.6,405.7 78.5,375.4 91.2,367.3 116.0,375.1 83.6,407.6 104.6,375.1 81.0,351.7 76.0,394.3 82.1,372.8 87.5,389.9 92.5,386.0 98.2,380.4 70.2,369.1 68.2,353.3 97.3,371.7 79.4,382.6 80.2,364.0 79.8,373.9 80.8,358.5 77.8,382.7 87.1,348.7 87.2,407.3 85.2,397.4 91.4,347.6 69.9,373.7 89.2,391.8 95.5,372.1 93.1,366.9 91.9,365.9 102.4,363.5 101.8,383.8 80.8,367.7 97.4,364.0 96.8,387.0 92.2,375.4 70.9,369.0 79.9,354.6 79.1,371.8 89.2,372.0 76.4,371.3 108.2,345.4 104.5,363.5 89.0,403.4 87.5,371.4 88.9,362.7 91.9,380.0 105.1,394.3 97.5,374.2 76.2,368.1 75.2,370.7 96.2,394.7 85.7,399.1 79.6,384.1 90.9,362.7 73.8,384.0 66.8,388.8 79.1,377.3 74.1,372.1 92.2,394.3 87.4,397.8 81.8,360.5 90.9,362.1 89.5,398.0 81.8,370.8 69.9,382.9 88.0,382.0 81.2,371.6 76.8,382.3 94.4,367.4 104.2,383.1 66.2,364.9 96.3,393.8 69.6,368.6 66.4,378.9 102.3,376.0 94.1,375.5 75.8,369.8 97.0,357.0 103.4,378.5 83.1,361.7 101.0,380.5 78.4,406.7 66.4,362.3 84.5,399.3 84.9,369.5 66.5,340.9 89.8,393.3 74.4,381.5 105.0,388.0 85.6,360.8 89.4,372.7 83.8,379.4 85.2,366.0 83.8,370.0 92.6,378.2 81.8,370.5 83.0,395.3 94.9,375.3 86.4,383.3 71.8,382.5 100.0,386.1 68.3,387.9 75.5,383.5 86.9,375.9 100.2,361.4 94.3,378.3 100.3,388.9 69.4,397.3 93.5,372.7 99.8,393.2 89.1,373.8 99.6,381.0 81.7,403.3 85.6,436.3 92.2,374.0 91.7,390.9 101.9,369.8 102.6,380.4 71.7,400.5 74.7,364.9 86.4,383.4 76.8,383.7 101.2,386.1 83.6,359.7 84.4,383.5 105.3,376.8 95.2,399.0 110.5,368.3 79.5,385.2 80.5,374.7 88.1,411.6 74.2,390.9 92.6,362.9 95.1,366.9 66.2,396.6 68.5,377.8 95.9,378.9 105.7,359.3 72.8,375.1 94.5,377.9 85.8,359.1 99.1,359.2 81.1,382.1 71.6,395.3 106.1,373.8 100.7,377.9 78.1,382.6 86.6,376.0 76.7,373.5 69.5,368.0 90.1,381.3 65.9,390.9 85.6,391.8 86.8,358.2 91.5,391.9 96.2,390.5 85.4,393.1 77.4,348.4 80.6,385.0 94.5,390.0 106.5,380.4 96.0,365.1 77.2,372.6 79.0,388.5 73.0,392.6 76.5,380.2 81.7,376.2 93.0,362.8 75.0,361.0 96.5,393.1 89.5,389.7 72.5,413.9 74.9,368.6 89.0,393.2 96.5,396.4 76.8,376.4 110.2,364.9 92.4,394.3 83.7,374.7 82.3,374.6 85.2,343.7 89.0,374.0 95.2,382.9 94.6,379.6 73.7,341.4 72.4,405.7 93.6,375.6 93.8,366.5 67.7,359.8 82.3,379.5 74.5,384.7 84.8,417.9 90.9,379.1 78.9,376.1 96.0,381.1 96.2,389.8 77.3,371.3 83.2,409.9 94.0,387.0 71.0,401.1 81.1,372.6 91.8,384.3 72.6,388.8 76.4,394.2 75.1,361.4 87.8,367.1 95.8,371.8 91.5,382.9 96.4,357.4 88.1,356.5 106.7,400.4 95.7,387.7 80.7,370.9 86.0,397.5 70.5,378.1 93.1,382.3 80.4,368.1 88.0,403.7 73.5,375.7 83.3,370.7 79.3,400.5 75.8,406.9 95.3,374.6 76.9,376.4 90.9,378.0 83.3,354.3 81.6,378.4 79.7,391.0 86.4,374.5 83.6,390.9 76.0,402.7 76.6,399.3 90.0,377.6 95.9,410.8 100.3,373.9 77.3,376.8 87.0,386.7 80.0,394.3 93.0,385.7 85.7,384.2 95.9,369.5 91.5,382.1 86.1,374.7 86.9,364.4 87.0,391.5 89.4,392.9 83.9,400.5 90.8,355.4 75.3,377.5 88.9,389.8 82.3,386.7 88.8,383.0 78.5,406.6 90.0,379.8 68.4,354.1 66.6,412.5 76.7,388.6 94.6,366.5 92.5,359.2 108.2,384.7 99.9,372.9 82.8,393.3 102.6,355.1 80.8,359.5 98.3,393.2 85.6,367.3 99.0,376.1 65.9,417.6 73.8,380.2 87.8,409.9 80.5,368.9 88.1,371.4 93.2,377.6 93.7,403.1 68.1,361.6 97.6,368.7 78.7,375.0 70.4,382.1 91.6,362.9 81.0,375.5 79.6,384.8 80.9,369.7 86.7,389.0 82.7,362.1 106.6,389.7 89.7,362.9 95.1,376.1 102.2,386.7 80.0,387.8 90.5,371.9 112.4,385.9 73.1,405.1 71.4,385.3 94.2,355.2 74.6,388.3 75.2,404.7 93.2,362.5 84.2,383.3 88.5,379.0 84.1,377.9 71.2,351.6 78.3,389.2 99.6,388.2 89.1,374.7 93.6,411.1 102.9,407.6 84.8,391.3 73.8,367.4 91.2,387.3 95.3,377.4 98.2,370.9 85.6,380.6 84.9,380.0 68.3,417.3 99.7,382.7 82.7,390.8 74.2,406.1 92.2,360.4 94.4,393.2 80.6,391.0 75.4,382.7 94.7,406.0 102.4,392.1 94.7,398.2 82.2,380.0 90.2,389.0 82.6,383.5 73.2,405.2 79.6,379.7 101.7,395.5 94.3,398.7 108.9,359.0 84.8,387.8 82.3,380.3 89.4,386.4 91.2,379.5 84.3,387.9 97.3,386.8 102.1,372.9 72.1,350.7 99.7,365.0 87.1,398.6 88.6,405.8 88.7,372.5 94.1,377.9 97.0,357.5 95.4,373.1 81.4,356.9 95.9,381.2 104.3,361.7 80.2,387.2 87.1,398.3 111.6,397.4 80.2,391.5 92.4,373.6 76.8,384.3 93.3,370.0 83.7,390.9 95.5,391.7 74.8,380.8 65.4,359.0 83.7,398.3 82.9,371.9 89.4,359.9 98.5,399.8 101.0,356.5 75.4,361.6 74.6,379.9 83.1,357.3 78.3,408.9 86.9,387.0 65.1,419.9 71.9,396.4 84.9,371.1 77.6,427.8 100.3,351.7 83.3,367.4 87.1,379.6 88.9,377.4 95.4,385.8 77.8,373.6 92.5,364.0 92.1,379.3 104.5,388.1 94.3,383.1 74.1,362.0 72.6,375.3 71.3,390.3 82.3,363.4 66.3,376.1 96.7,381.6 78.8,389.7 73.0,371.2 101.9,389.4 67.3,372.1 93.8,383.0 87.5,339.2 95.0,412.5 90.4,388.3 75.6,395.9 90.5,367.3 88.8,369.7 94.3,351.3 86.5,392.7 103.8,382.5 76.0,363.8 81.3,363.6 86.4,364.8 70.1,370.2 99.3,356.7 83.5,379.0 85.1,380.4 92.2,391.3 76.9,371.2 72.2,363.7 75.9,401.0 76.7,349.7 89.6,368.2 91.9,366.7 99.9,385.8 117.3,412.5 73.2,400.3 88.7,373.9 93.4,411.0 84.1,398.1 93.9,388.9 94.6,373.2 84.3,396.1 104.1,395.3 86.0,381.0 79.2,375.4 81.5,382.3 77.5,375.3 75.7,357.0 73.0,384.9 104.1,370.3 78.4,396.9 78.8,389.1 79.6,404.4 101.2,381.2 100.3,367.6 88.6,367.7 85.0,375.6 85.2,382.4 95.5,364.7 100.2,390.8 71.2,400.8 100.3,399.3 97.4,372.0 80.1,402.0 82.0,359.3 88.6,421.9 83.2,361.8 81.6,365.1 101.6,385.4 81.8,377.0 72.1,396.4 70.7,361.3 90.3,377.6 92.0,378.6 91.5,392.5 83.1,367.9 74.5,398.7 81.4,376.2 74.2,377.3 114.1,359.8 78.2,394.2 93.4,379.1 92.8,374.8 82.1,370.8 81.0,378.7 86.2,343.2 91.2,383.9 89.8,365.1 66.5,383.2 91.2,347.0 97.0,365.7 79.6,412.1 85.9,369.7 73.5,390.1 96.9,398.7 80.1,389.9 95.4,393.7 109.0,362.0 90.1,375.5 90.2,372.1 77.1,397.4 81.1,355.2 77.7,360.4 85.3,378.1 74.8,399.4 80.4,385.3 113.8,400.5 104.4,384.6 68.4,372.0 68.6,360.9 83.4,365.7 93.7,397.3 81.3,387.0 86.4,369.2 88.8,382.1 84.7,385.6 73.7,351.1 104.7,367.6 93.4,373.6 89.7,402.0 82.8,374.1 89.4,364.7 92.3,396.9 93.9,391.6 79.0,410.1 93.8,382.4 83.7,372.2 95.3,364.6 81.6,383.3 71.4,355.5 91.0,365.2 79.5,358.2 113.5,405.1 96.4,372.8 100.1,401.0 71.7,378.2 65.5,372.7 94.6,383.6 85.4,351.6 99.7,384.4 94.8,400.7 81.9,369.7 79.3,398.1 103.2,379.4 70.9,381.9 93.0,375.6 98.8,377.1 78.8,399.2 84.9,372.4 90.2,362.0 94.6,377.3 76.3,371.0 76.3,407.6 77.9,371.2 75.9,375.4 78.2,379.3 90.0,373.7 91.1,390.5 90.4,369.0 84.8,378.2 93.4,354.2 104.8,377.9 73.7,389.6 98.7,359.4 93.5,366.9 109.1,375.5 102.7,381.2 80.9,400.0 102.4,375.1 76.5,380.1 114.4,398.2 101.6,379.6 101.2,377.9 101.0,376.8 84.4,388.7 80.5,384.1 74.9,363.8 74.9,379.9 92.5,387.4 81.2,387.9 86.4,381.8 77.8,400.8 84.2,375.2 78.5,378.9 97.9,371.6 96.9,371.5 100.8,411.6 95.3,353.9 92.8,388.2 95.1,356.7 101.0,364.7 114.8,397.1 70.0,375.2 96.3,396.7 101.7,375.2 72.5,391.3 81.8,375.7 88.8,379.3 84.5,370.5 85.9,389.8 83.3,376.9 65.6,379.4 75.3,383.3 70.5,382.5 89.3,394.7 89.3,360.6 106.5,369.5 77.9,388.3 86.3,384.3 90.6,398.9 74.4,388.7 109.8,392.9 86.3,390.6 76.3,383.5 74.7,383.8 82.5,381.7 93.1,368.6 86.3,358.7 106.9,361.2 96.1,410.7 93.3,409.5 82.1,389.2 88.2,367.6 81.9,373.0 85.3,392.0 84.4,357.6 83.5,369.5 99.9,364.5 74.5,409.5 93.3,390.7 87.8,364.8 96.0,402.1 73.8,405.2 89.9,369.7 86.9,386.2 82.1,375.1 91.6,371.7 104.2,339.4 70.8,372.9 71.1,388.9 82.1,386.5 95.2,389.6 81.0,400.1 86.3,376.3 93.0,359.4 71.7,382.5 101.4,398.7 92.7,360.8 95.6,399.3 71.0,365.8 80.9,378.8 85.2,380.4 80.2,388.4 119.0,378.0 94.4,378.5 88.7,384.8 92.1,366.7 95.3,379.6 88.3,411.2 75.0,391.8 103.3,382.1 79.3,379.5 84.2,383.4 82.2,376.7 76.7,410.1 80.0,374.1 83.2,398.9 88.1,399.9 70.2,380.0 92.2,398.5 84.9,386.4 72.3,374.1 89.2,394.5 79.3,374.9 85.2,382.1 94.7,405.0 74.1,371.4 76.2,376.8 90.7,381.5 90.8,389.9 92.9,377.5 85.4,367.0 89.5,392.6 73.6,361.3 106.2,356.2 84.8,357.2 98.2,408.0 80.9,400.2 119.9,391.6 90.9,379.9 86.2,375.8 101.6,386.1 70.7,367.0 88.7,380.9 94.3,401.7 92.6,371.2 89.6,397.3 93.8,375.5 65.9,375.2 72.2,400.5 82.9,375.5 83.2,375.5 92.1,358.9 86.8,380.9 98.4,396.5 106.7,400.5 69.4,387.2 86.4,383.6 79.7,381.5 95.1,367.1 74.0,395.0 84.4,388.5 93.8,374.6 80.2,379.6 81.4,371.5 88.2,359.4 79.6,384.4 93.6,377.7 77.8,396.1 97.6,385.3 77.6,379.7 82.6,368.7 108.2,364.6 90.2,371.5 93.1,382.8 71.7,374.3 85.1,404.6 88.2,381.8 94.5,398.9 95.1,397.6 88.8,382.3 74.2,376.4 103.2,418.8 80.0,397.6 67.3,410.9 77.4,361.9 87.5,365.7 107.0,382.9 99.4,395.0 84.4,386.3 69.4,369.7 81.8,367.0 67.5,391.5 88.4,359.5 89.7,364.3 77.7,373.8 85.0,360.0 79.3,369.1 88.1,370.5 67.2,382.2 90.4,377.6 94.6,395.6 73.4,383.1 96.1,368.5 97.3,369.5 74.3,399.1 84.8,386.6 95.2,410.4 90.5,372.3 84.3,366.2 87.6,383.1 76.0,384.6 82.0,352.2 78.3,366.6 98.8,412.1 70.2,377.4 90.0,360.5 82.8,396.0 88.8,382.0 65.3,396.0 90.5,382.3 90.4,394.3 79.6,363.5 88.1,357.1 91.6,382.9 73.5,365.5 88.0,402.9 90.8,406.2 94.9,358.1 81.0,398.5 93.3,351.1 89.1,377.9 91.0,339.7 76.5,338.7 65.9,393.3 81.1,352.0 103.8,404.7 97.0,370.9 88.9,388.7 78.0,385.3 97.7,392.0 96.1,420.5 72.7,343.2 86.7,385.0 84.4,352.0 85.4,374.6 96.1,378.1 93.5,401.9 76.5,363.3 85.3,370.0 82.1,373.5 96.4,366.1 96.5,392.7 91.0,378.7 74.8,366.3 92.4,371.8 73.4,377.7 90.6,381.3 78.6,382.4 81.3,380.9 85.0,375.1 106.1,391.3 92.9,403.4 82.6,374.0 98.7,376.0 88.8,338.5 86.0,350.1 76.0,399.9 100.3,345.8 91.5,402.6 77.2,398.8 104.7,397.6 89.1,389.6 98.5,399.2 101.0,368.8 87.7,391.2 96.2,399.6 80.4,391.2 73.8,392.5 67.4,378.1 90.9,354.4 86.9,378.8 89.8,388.9 86.8,366.7 80.3,379.0 82.0,378.1 82.3,370.3 108.7,383.5 91.7,367.7 103.5,358.1 87.5,375.0 96.9,399.2 92.1,357.6 92.8,376.6 94.1,382.3 84.5,384.4 69.0,397.7 75.5,373.5 81.3,377.8 80.6,377.8 67.9,373.0 89.4,379.4 78.8,371.1 104.5,370.3 90.3,382.8 80.5,375.5 103.0,366.8 89.3,354.5 83.2,379.6 72.4,356.5 78.4,394.7 93.4,393.2 94.4,388.7 80.8,361.8 72.1,390.2 79.8,405.0 74.7,379.0 77.9,385.5 73.5,376.4 68.0,397.9 88.6,386.8 74.8,386.6 96.6,395.5 89.4,382.4 93.1,377.6 92.1,367.7 70.5,386.1 84.7,340.6 99.4,377.6 80.5,380.9 85.0,359.6 73.9,371.2 97.6,378.2 74.5,381.4 73.9,384.9 91.4,356.3 98.2,371.7 77.1,384.7 100.3,383.3 74.3,377.2 77.1,370.1 71.8,362.3 98.2,386.3 94.7,374.6 104.5,393.6 82.2,377.2 87.1,386.3 100.3,384.5 88.4,373.6 84.2,365.3 77.7,369.9 81.1,376.7 94.8,385.6 97.0,357.6 88.7,346.6 78.8,390.7 77.4,376.6 100.3,382.8 93.3,397.9 77.6,383.7 92.9,398.3 71.9,367.3 97.9,370.6 103.8,398.8 82.0,368.4 88.4,400.7 71.5,391.5 85.8,374.5 81.4,374.7 103.9,355.5 70.0,382.2 86.8,396.2 84.0,390.9 77.8,368.4 94.7,385.3 93.3,387.6 89.4,398.3 98.4,395.4 85.4,384.7 73.1,373.9 100.8,357.1 80.4,380.3 97.1,404.2 97.5,381.5 90.4,377.8 98.2,408.0 94.2,376.6 85.3,398.5 107.3,374.6 72.2,376.5 112.0,383.2 97.5,390.7 81.0,348.9 82.8,399.7 92.6,401.5 105.9,387.8 82.3,374.4 89.9,383.6 101.0,356.5 85.7,385.4 83.1,391.3 88.2,400.2 77.8,392.9 91.6,377.9 80.2,367.8 99.7,381.2 97.4,393.4 97.3,386.5 89.3,405.0 93.8,388.4 86.3,351.9 95.6,388.1 98.1,377.0 85.4,372.2 72.4,407.0 85.6,380.5 81.3,380.3 75.4,391.3 92.4,361.7 91.2,363.6 79.5,381.7 85.9,376.2 80.0,388.0 71.1,378.1 65.7,377.0 81.7,380.4 100.8,412.4 97.1,378.7 74.0,385.1 98.7,344.4 65.0,386.6 96.5,390.2 95.1,370.4 84.0,354.8 95.0,381.1 88.8,386.5 79.2,388.8 82.6,402.6 86.3,392.4 92.7,376.7 101.1,387.1 80.1,396.5 87.4,387.9 74.2,368.5 80.4,384.2 85.2,359.6 87.4,383.7 79.9,362.3 77.8,400.9 111.6,375.4 80.7,385.5 89.6,351.1 85.9,359.4 67.8,367.2 85.0,405.0 94.2,394.0 87.1,369.2 96.7,374.8 82.2,386.6 91.8,405.0 77.4,387.0 69.9,386.2 75.8,387.0 83.0,382.8 90.0,383.5 85.4,379.2 65.1,357.7 92.3,398.9 107.0,357.8 91.6,369.3 87.2,386.4 70.9,389.1 83.2,379.5 83.0,381.3 78.0,370.4 76.7,393.3 89.8,385.4 90.7,378.5 80.1,388.1 107.0,385.0 82.7,363.9 107.8,368.5 86.1,359.0 76.4,393.9 78.2,378.0 85.2,359.9 81.6,387.4 93.5,382.4 72.4,397.9 79.2,389.2 77.4,351.7 89.4,389.6 103.6,363.6 85.2,386.0 90.6,371.9 98.5,374.2 92.8,384.7 69.8,375.4 74.9,387.9 85.8,378.4 95.8,368.3 102.4,358.6 96.6,371.2 76.5,399.3 96.3,369.0 86.9,382.8 68.0,352.7 101.7,388.0 76.5,369.4 91.1,383.1 81.2,388.4 102.0,351.0 99.7,372.6 90.1,350.3 74.1,372.5 100.1,394.5 93.1,371.3 79.2,364.0 82.2,376.3 72.8,389.5 96.6,394.4 73.1,376.8 85.3,344.6 87.1,369.3 86.0,364.3 86.1,379.1 89.2,384.2 77.5,394.4 87.8,390.7 75.2,373.8 88.6,401.7 86.8,372.4 80.3,380.1 87.7,359.6 83.0,377.6 71.8,394.7 87.8,365.9 92.7,392.4 90.6,387.4 78.6,390.2 97.0,387.6 88.8,403.9 86.7,360.4 91.7,389.7 83.9,408.5 79.2,365.0 77.4,389.9 77.0,364.7 88.7,398.1 95.3,375.2 75.5,390.3 88.8,392.5 73.2,349.6 91.4,384.0 75.3,375.9 66.3,383.9 84.5,388.4 79.1,379.8 92.5,367.4 102.1,369.8 77.9,386.6 85.3,396.8 79.6,389.0 94.1,371.5 78.1,382.0 93.5,367.5 77.3,406.6 93.8,360.1 87.2,404.2 89.3,388.8 74.7,395.6 81.8,390.1 86.5,375.7 78.2,377.7 76.3,377.0 94.2,402.7 103.8,374.6 91.9,399.8 89.4,372.9 101.7,389.3 80.4,378.1 101.7,414.8 76.6,385.4 98.7,388.0 95.5,392.0 98.9,381.4 81.8,371.8 79.6,373.4 68.1,409.7 75.8,384.3 87.6,362.3 85.5,357.5 85.3,414.7 77.2,387.5 70.2,387.8 85.0,383.4 85.4,412.8 80.2,375.1 94.7,362.6 82.2,401.9 82.3,390.9 91.2,386.3 77.7,358.9 65.3,394.2 82.4,380.3 86.7,366.3 92.0,384.8 104.5,340.9 97.5,373.0 79.7,378.3 120.9,379.2 82.3,403.6 98.4,383.5 87.0,388.8 74.3,377.3 98.2,391.3 80.1,413.5 85.7,389.8 85.0,398.9 67.5,370.4 87.8,390.8 80.0,396.9 78.3,418.9 90.6,387.8 84.2,396.6 75.2,366.3 87.2,392.3 77.1,385.2 88.4,382.1 69.9,389.2 105.0,368.5 85.1,374.1 69.5,374.0 90.1,363.9 108.3,369.9 72.7,374.1 81.3,400.7 70.4,387.7 93.0,389.9 88.3,398.5 87.8,387.6 81.4,393.7 79.6,388.0 82.9,390.5 78.4,370.1 68.8,401.9 92.9,357.6 80.8,364.9 111.0,372.4 77.9,369.8 88.4,374.0 69.7,387.4 107.4,386.6 92.3,353.1 87.6,391.5 82.4,397.9 99.4,376.8 85.2,344.8 93.9,388.9 108.4,389.1 97.2,384.2 69.7,391.5 108.9,368.4 85.2,375.9 82.2,360.2 79.3,360.3 76.8,388.3 100.7,370.8 91.7,387.0 79.9,394.9 83.7,391.0 74.0,379.9 92.9,389.3 68.5,382.7 85.6,367.4 90.2,367.4 77.7,395.1 78.5,377.3 95.9,395.5 86.1,419.9 90.5,366.0 88.1,376.5 82.9,398.7 87.5,395.9 80.5,376.4 80.5,401.3 80.5,399.1 90.0,380.8 88.8,410.5 85.4,383.7 79.4,375.6 102.3,407.3 87.9,369.9 96.5,362.5 87.4,390.5 94.6,368.1 84.2,389.5 71.4,391.3 75.7,371.2 104.5,381.9 98.7,380.9 81.7,379.7 92.1,395.4 96.8,401.5 73.2,382.2 69.8,359.0 83.9,370.5 108.6,380.2 86.0,361.9 75.1,361.4 90.7,381.1 98.6,360.8 96.6,366.1 96.0,379.3 82.9,388.6 71.3,387.2 82.1,360.6 77.8,400.6 104.3,371.1 86.0,380.7 86.7,364.3 85.4,388.9 89.6,391.5 95.1,395.8 95.6,378.0 89.4,407.1 88.1,361.7 114.5,377.0 73.8,391.3 102.1,377.2 80.6,362.5 84.3,380.0 87.4,371.0 79.5,358.7 82.6,370.9 85.8,375.3 81.2,374.6 95.7,385.2 73.1,394.2 94.0,383.4 90.9,375.7 89.9,376.4 90.8,356.8 77.7,372.4 96.6,375.2 88.5,393.8 81.3,392.6 65.2,361.0 84.1,379.2 86.5,380.2 75.6,397.9 106.8,368.0 82.4,391.1 76.3,349.0 84.8,374.2 83.2,382.4 72.6,396.7 78.2,375.3 87.6,391.1 86.5,391.3 93.6,435.8 85.6,368.2 94.0,373.5 89.9,394.1 78.3,376.8 98.0,403.6 86.5,335.7 81.6,367.1 84.9,404.8 135.1,361.0 97.5,370.1 93.7,396.1 104.3,378.4 78.3,400.4 99.2,364.6 92.0,392.5 93.8,385.4 118.8,371.7 142.5,374.2 116.8,383.7 79.2,389.9 107.8,353.4 93.3,360.3 88.2,372.6 111.9,396.9 108.9,380.8 113.2,363.5 122.9,364.4 93.2,367.3 110.1,396.6 109.5,362.7 101.3,378.0 109.6,387.9 107.8,394.3 99.6,383.3 90.1,402.0 131.6,408.6 99.1,412.8 117.2,411.8 147.2,395.3 109.1,381.3 70.0,358.0 107.2,382.8 105.4,389.5 106.4,346.3 123.2,396.1 88.6,363.0 92.2,367.0 91.5,352.2 86.2,403.4 97.2,348.1 110.5,369.9 98.5,366.1 87.3,364.5 102.7,383.9 108.2,377.1 101.2,364.7 117.5,381.2 96.0,347.6 92.8,385.1 110.5,379.4 76.7,385.6 103.9,388.4 101.6,399.5 116.0,359.6 100.9,356.7 111.8,374.6 95.0,392.5 100.2,366.1 114.3,368.6 120.5,384.0 88.8,419.8 107.7,368.2 96.1,384.4 136.7,350.4 84.5,379.3 120.6,339.3 101.0,383.2 99.5,361.2 65.7,371.6 107.1,421.0 87.3,372.4 135.1,368.1 82.1,384.2 107.9,392.2 99.0,386.4 103.9,375.1 81.0,374.5 101.0,361.7 99.0,352.0 111.2,372.7 96.6,380.4 106.9,373.1 85.7,393.0 90.3,353.1 89.7,340.5 114.7,391.3 101.8,402.6 92.5,380.3 104.9,369.4 106.9,392.5 107.8,345.1 92.5,377.8 113.5,380.1 90.6,380.0 91.8,431.9 118.6,385.2 108.5,363.8 97.0,364.0 125.6,365.5 108.0,355.5 72.7,378.3 92.7,405.7 103.8,373.5 89.8,363.0 88.3,377.1 118.6,379.3 78.3,361.3 106.4,375.5 85.2,388.5 113.1,339.7 122.0,389.1 108.6,362.1 74.8,393.9 120.9,394.7 108.3,387.0 97.0,389.6 87.7,354.5 88.7,374.8 94.9,394.1 75.8,375.8 90.8,384.0 76.4,401.9 95.0,382.8 124.6,371.8 88.7,393.0 91.5,400.0 76.3,390.4 96.6,372.5 78.3,372.3 100.4,347.2 101.2,387.4 79.5,372.2 92.9,373.3 103.2,366.1 106.3,380.4 89.0,373.5 96.3,374.5 95.8,351.3 73.0,351.0 91.6,364.4 96.3,388.8 120.9,386.1 106.0,379.5 112.2,366.5 101.6,378.5 87.5,359.5 102.1,366.8 79.4,395.1 96.3,371.7 97.8,414.0 111.1,369.0 108.2,359.8 128.9,350.7 94.6,376.8 98.5,356.5 90.4,378.9 96.0,396.6 104.6,379.0 95.3,399.3 104.7,378.7 75.0,387.4 99.0,396.0 100.3,366.1 90.0,346.9 119.8,380.7 106.3,376.4 112.8,373.0 107.2,371.3 87.2,372.4 91.7,361.8 145.5,396.3 90.5,374.6 107.7,386.3 127.7,369.3 114.1,391.9 102.7,378.9 81.4,393.5 102.2,365.0 124.0,354.5 95.0,368.0 122.1,383.2 90.2,377.3 104.3,363.1 134.2,368.7 105.9,363.1 72.7,415.0 117.9,370.9 102.0,366.9 110.4,370.0 101.3,360.4 114.7,354.7 100.5,387.7 101.4,378.6 103.2,372.1 100.0,383.9 95.3,368.5 107.4,370.7 128.6,380.5 102.1,375.2 102.4,367.9 89.0,370.9 123.3,380.6 91.9,364.2 104.5,377.4 91.9,398.8 89.8,375.7 94.3,363.9 107.1,360.0 93.6,394.6 119.3,366.5 121.5,374.3 98.4,331.3 93.2,361.3 115.8,390.5 113.8,374.8 104.4,359.7 76.8,375.1 91.2,392.0 89.9,384.5 109.2,380.4 94.0,377.6 103.6,387.3 101.3,370.9 95.9,376.4 125.1,392.1 99.1,369.5 82.1,362.7 91.4,395.9 81.8,383.2 107.4,367.5 104.1,385.3 103.8,384.3 124.5,393.8 99.2,386.8 94.0,361.3 120.9,372.6 89.6,353.0 112.9,361.2 75.0,366.6 105.0,344.8 116.0,351.5 84.7,394.6 100.9,372.1 83.2,353.6 99.9,367.3 74.1,381.7 98.8,381.2 93.9,373.1 122.2,393.7 98.0,369.9 94.7,351.9 98.9,388.2 98.8,383.0 109.8,378.9 73.3,389.6 93.1,377.8 122.6,368.2 116.6,383.5 124.4,387.8 97.3,373.9 135.2,376.4 101.3,370.9 113.9,399.9 125.4,370.0 121.2,385.7 111.9,387.7 120.9,366.1 102.1,366.8 96.2,395.4 101.1,379.9 109.3,380.5 93.7,354.0 73.6,411.0 112.2,367.8 88.9,348.5 122.9,365.1 109.8,364.1 101.1,367.9 80.4,359.9 81.7,370.5 102.7,375.2 122.4,384.5 85.5,400.7 124.6,366.0 95.6,377.1 92.2,395.1 96.8,392.9 99.0,398.7 115.8,391.1 89.8,403.8 81.1,371.8 94.0,350.4 118.5,380.5 127.7,371.3 132.0,372.6 140.9,358.0 112.8,373.0 122.3,387.5 144.9,354.8 156.9,378.2 151.8,389.7 149.1,374.2 166.3,373.2 173.9,358.4 158.2,369.4 179.3,370.6 150.8,381.4 108.3,378.0 150.9,394.5 150.1,380.5 129.0,395.3 121.3,380.8 109.6,371.9 190.7,391.9 119.7,386.1 149.6,354.6 121.8,371.0 156.9,365.6 124.0,382.6 112.7,373.7 120.3,368.8 124.9,357.9 150.2,374.3 126.1,364.1 137.3,351.9 116.5,385.0 148.4,353.1 143.4,375.8 120.3,406.4 137.4,409.6 134.0,399.6 147.4,369.6 181.5,398.6 153.2,387.8 116.4,390.7 171.8,392.4 128.2,373.4 178.9,392.2 132.5,376.0 151.3,383.5 140.2,360.3 163.8,401.5 162.0,390.1 189.4,375.4 197.7,395.5 146.3,392.4 191.9,368.5 162.8,401.2 121.3,387.5 195.9,393.1 151.0,389.9 203.0,385.7 179.4,383.6 179.3,386.5 132.4,362.9 157.9,373.8 105.7,364.4 136.6,380.6 184.3,363.7 125.0,383.4 158.7,376.7 111.2,360.0 202.4,362.2 109.4,392.2 132.9,388.9 126.4,382.5 192.1,367.3 175.4,382.2 113.9,377.9 125.8,410.1 192.3,392.6 115.5,394.0 142.1,396.7 114.7,402.7 172.9,377.1 145.6,393.3 113.5,373.8 194.7,378.2 158.5,364.2 124.8,391.1 149.5,381.6 144.8,382.5 109.6,372.4 127.2,366.3 118.4,379.9 137.2,369.0 126.0,374.9 130.9,381.5 111.9,344.2 109.8,365.0 153.5,370.6 110.5,380.0 159.3,378.9 143.5,377.2 115.5,368.9 182.8,371.9 107.3,378.1 126.7,366.0 110.6,410.8 178.7,398.1 111.1,379.8 158.7,365.1 152.8,356.2 105.6,377.5 193.9,388.4 155.9,348.3 120.6,388.9 125.7,371.4 108.6,387.9 158.1,374.8 128.6,380.7 114.0,346.3 168.1,351.3 177.0,398.2 116.8,380.6 105.8,396.0 108.3,359.6 114.7,361.8 115.4,395.3 111.5,387.5 138.1,371.1 122.0,384.7 109.9,382.2 119.0,399.6 121.5,369.8 191.0,398.4 135.2,383.4 108.9,360.9 134.8,380.9 132.4,395.7 146.7,371.8 138.8,356.3 112.6,408.7 159.0,377.7 145.3,355.4 196.6,344.7 127.6,378.7 153.1,391.4 118.6,379.0 144.5,391.4 178.9,346.5 185.5,370.6 114.7,370.6 180.5,397.7 129.4,334.3 130.5,363.2 109.7,386.1 117.1,372.5 156.9,392.5 158.0,382.9 145.1,375.3 125.2,373.2 195.4,361.8 127.8,384.5 137.8,407.8 125.8,379.5 135.5,396.1 143.4,384.0 183.3,358.6 160.0,370.6 134.1,358.2 119.4,361.9 167.6,369.8 125.9,373.2 135.7,391.3 162.1,393.9 109.4,391.9 135.9,399.1 124.2,387.8 128.6,376.2 147.1,375.9 134.1,388.2 160.3,395.2 126.8,379.7 164.8,365.0 135.0,390.2 120.3,374.5 137.0,388.4 183.2,380.6 114.9,371.7 121.8,377.7 116.1,394.2 135.2,390.7 152.6,354.1 146.3,402.4 188.9,392.2 108.9,378.7 114.2,346.2 117.4,388.2 159.6,390.1 164.4,380.6 151.0,369.1 129.4,397.1 108.5,371.6 107.6,388.9 174.6,395.1 111.8,370.9 144.4,394.2 117.3,358.3 147.6,366.8 143.2,391.3 155.6,353.9 142.9,393.4 116.3,360.7 155.5,385.7 147.0,400.1 197.3,396.3 109.7,386.6 143.5,403.8 135.5,385.4 151.3,396.6 130.7,385.4 120.5,392.4 112.5,385.3 130.8,396.7 154.3,401.1 105.1,405.2 110.3,366.2 122.2,360.7 106.8,384.4 131.6,388.7 109.7,347.4 114.3,391.4 112.9,365.9 117.5,361.9 195.4,375.5 183.3,393.6 139.7,372.7 168.0,381.1 198.7,399.0 120.7,386.7 113.1,388.1 187.1,376.6 141.1,382.8 133.3,387.4 136.9,423.5 106.6,370.7 134.4,362.2 160.2,395.7 121.1,374.7 153.9,357.5 105.0,355.4 139.7,357.8 109.8,378.4 129.8,380.1 133.1,384.1 203.1,371.6 116.0,364.2 157.2,414.1 121.2,361.7 112.7,376.6 111.2,379.1 133.0,393.8 115.5,370.0 125.7,369.1 139.6,362.9 112.8,398.3 186.2,372.7 107.6,363.4 148.7,384.6 172.0,395.3 147.9,374.8 177.2,387.9 174.9,382.4 162.4,371.1 136.6,380.9 159.7,355.7 165.9,372.6 110.5,351.0 115.1,377.6 117.7,395.5 181.5,400.0 200.0,396.6 119.5,391.7 183.0,353.1 156.6,370.5 158.9,383.4 126.1,382.7 116.8,377.5 107.4,357.3 194.3,374.1 114.4,372.6 133.1,382.0 127.1,362.3 129.3,387.7 163.1,382.8 130.5,395.0 117.0,387.2 134.2,390.1 172.4,388.0 123.2,374.5 131.8,384.8 114.4,408.8 106.6,395.8 150.1,382.5 119.4,385.2 109.1,360.0 181.2,372.7 146.4,385.2 200.7,379.0 188.1,397.7 126.8,369.9 165.5,365.6 121.0,372.3 184.3,382.6 169.3,380.8 114.5,353.4 179.0,388.5 139.4,380.1 108.9,383.3 163.1,381.4 133.3,391.5 157.9,355.8 186.9,378.9 142.1,380.2 160.3,389.2 108.3,386.8 134.6,379.3 120.2,357.6 180.9,375.1 107.0,370.2 172.1,347.2 161.1,366.6 183.5,375.7 112.9,402.6 116.4,375.2 176.0,370.4 154.3,375.7 118.4,395.9 151.9,378.0 170.5,405.5 141.3,383.7 155.8,380.6 173.9,399.8 131.0,367.2 117.0,354.9 131.1,388.9 134.1,389.6 117.3,392.3 137.1,394.3 136.0,373.8 171.5,358.6 177.4,346.3 148.4,371.6 160.6,374.0 179.6,367.8 108.9,378.0 177.1,359.1 109.3,357.3 141.1,396.0 112.5,369.7 136.3,379.5 125.4,375.3 133.4,367.6 143.7,385.3 136.4,391.4 197.5,388.8 154.8,358.9 192.4,381.8 115.6,378.7 183.1,409.0 169.5,372.0 149.0,391.6 151.0,381.5 194.5,392.2 171.8,360.1 117.9,372.9 136.6,387.4 161.8,392.1 137.5,360.5 171.5,387.8 133.4,394.4 142.0,389.7 175.6,376.0 111.1,403.0 147.8,383.8 128.1,364.0 159.2,377.0 137.3,369.9 115.4,355.8 132.1,357.9 116.8,388.2 185.6,405.8 130.6,384.5 148.1,363.5 136.2,360.5 129.0,377.9 160.6,400.8 161.4,392.5 150.6,369.6 185.2,377.9 172.4,365.9 130.1,391.3 137.4,396.8 152.6,365.5 150.6,385.8 183.3,351.5 138.5,390.0 145.4,395.7 153.0,372.5 138.6,363.2 138.5,369.6 118.7,371.6 190.6,407.7 139.1,365.6 138.5,385.7 109.5,380.8 149.4,362.6 130.8,364.0 130.2,356.0 113.1,366.1 124.2,383.3 105.9,356.1 142.0,390.7 121.6,360.9 145.3,375.9 195.9,371.7 160.6,367.5 131.0,401.9 112.8,370.5 138.8,363.9 177.6,381.4 138.5,365.1 145.1,374.7 189.6,380.6 121.4,372.2 116.7,375.8 144.3,381.0 153.4,369.5 140.7,380.6 162.5,378.9 141.0,387.2 157.5,385.8 142.2,373.3 124.8,375.7 176.2,365.8 173.6,381.0 149.6,370.3 194.8,381.1 153.3,382.0 129.0,373.0 123.6,374.2 142.9,378.2 128.6,370.8 142.4,361.6 141.6,370.8 163.4,394.7 164.0,377.6 116.5,368.9 186.2,378.7 179.0,361.2 161.7,374.6 145.7,378.4 181.5,369.8 191.9,364.2 167.9,375.0 136.7,386.6 132.1,377.7 131.0,376.3 127.2,376.0 176.3,371.5 123.2,373.7 156.6,367.6 120.2,353.5 118.3,376.5 139.7,395.3 123.5,386.4 159.5,392.1 132.8,368.8 149.8,367.1 194.3,372.6 157.8,363.5 138.0,391.3 133.2,368.6 179.8,395.0 166.2,385.6 116.4,379.6 121.1,366.8 181.7,377.5 129.6,355.2 118.7,371.7 117.4,383.9 165.7,367.1 194.6,351.8 161.9,369.7 167.0,385.7 125.0,382.7 166.4,369.7 128.8,373.7 151.1,378.9 167.7,354.4 155.3,366.2 118.3,383.2 141.3,387.3 158.6,368.7 123.9,362.3 130.5,380.5 132.8,364.4 160.2,384.1 117.4,359.7 120.1,394.3 127.3,384.0 144.4,379.7 119.6,382.9 168.4,367.5 128.2,374.0 152.0,381.5 161.7,369.7 152.1,391.1 119.2,375.9 132.2,369.0 159.1,382.5 174.0,371.7 124.0,365.7 147.8,402.6 142.2,378.6 173.4,385.0 115.8,366.1 138.3,383.1 165.8,369.1 134.7,363.2 171.5,362.9 129.2,386.0 137.0,377.0 143.3,364.3 151.0,375.6 130.5,377.1 130.8,378.7 170.0,367.9 124.3,365.4 165.4,366.2 132.1,371.1 143.7,365.9 150.5,361.7 130.3,381.3 132.4,387.6 129.1,381.6 117.2,361.0 119.0,372.9 121.9,360.3 165.2,373.1 124.4,372.2 145.2,375.0 126.4,375.9 127.5,370.5 139.4,381.2 146.9,372.2 130.4,367.4 118.5,371.6 166.8,376.2 168.8,377.1 140.6,368.5 180.8,372.2 145.3,392.0 130.6,377.9 181.4,368.4 171.0,374.2 139.8,394.5 144.3,387.6 180.3,380.9 138.1,376.9 173.8,383.9 146.4,376.4 120.1,371.3 163.1,388.3 136.0,367.8 163.6,371.9 122.0,355.5 116.7,369.6 142.0,383.3 116.5,383.6 152.3,366.9 135.0,391.4 125.8,379.8 158.6,380.8 190.8,388.5 137.3,396.7 136.7,375.5 132.2,382.8 185.5,373.6 119.8,381.9 119.8,379.9 117.1,380.4 123.3,345.2 188.4,378.7 121.2,369.3 158.2,375.0 172.9,366.6 159.4,365.0 122.3,365.8 141.3,372.8 183.0,382.2 129.9,372.5 134.6,384.7 163.0,381.3 163.0,378.3 153.5,367.7 126.1,385.8 123.0,357.9 139.2,385.6 132.5,396.7 163.6,377.6 192.7,369.6 174.3,379.2 156.7,374.2 158.8,353.7 129.1,366.8 122.8,364.2 121.6,350.1 135.3,382.2 119.2,372.6 135.9,383.1 138.2,387.0 136.0,363.8 178.9,361.3 158.0,366.0 125.1,377.1 128.3,366.7 147.6,372.8 115.2,359.1 153.4,366.6 129.7,384.0 139.4,386.7 126.9,379.2"/><line x1="45.70" y1="379.50" x2="327.30" y2="379.50" stroke-width="1.0" stroke="#000"/><line x1="45.40" y1="341.30" x2="327.30" y2="341.30" stroke-width="1.0" stroke="#000" stroke-dasharray="4.7,4.06"/><line x1="45.40" y1="417.00" x2="327.30" y2="417.00" stroke-width="1.0" stroke="#000" stroke-dasharray="4.7,4.06"/></g><g clip-path="url(#cld)"><polyline fill="none" stroke="none" marker-start="url(#dm)" marker-mid="url(#dm)" marker-end="url(#dm)" points="414.2,306.2 414.2,320.9 414.2,331.6 414.2,334.0 414.2,336.3 414.2,339.0 422.7,313.5 422.9,325.2 422.7,331.0 424.1,334.0 426.2,338.6 422.5,341.5 423.3,344.5 426.8,348.6 422.1,350.9 424.4,349.7 422.7,353.2 432.6,307.7 435.3,310.0 435.3,325.2 433.0,329.9 433.2,334.0 436.7,337.5 437.3,339.8 434.1,344.5 436.7,343.9 437.3,347.4 435.5,349.7 432.0,350.3 433.2,353.2 436.7,352.6 442.5,348.0 455.7,337.5 454.2,341.5 453.1,343.9 451.9,347.4 459.5,347.4 455.4,350.3 451.9,353.2 455.4,353.2 474.1,321.7 472.3,328.7 474.1,336.3 471.7,346.8 474.1,349.7 472.3,353.8 494.2,300.4 516.1,334.3 532.2,329.9 544.5,332.2 555.0,335.5 504.1,339.2 523.7,341.0 527.2,341.0 529.6,341.3 535.4,343.9 537.7,341.5 539.5,342.1 510.9,343.9 515.0,346.2 520.2,347.4 502.1,346.8 505.0,348.6 491.0,352.6 494.5,353.2 502.7,353.8 506.8,353.2 514.4,350.9 548.2,347.4 550.6,346.8 544.2,350.3 553.5,353.8 562.8,325.2 569.6,325.2 566.1,328.7 568.1,339.8 560.5,341.5 568.1,346.8 568.4,350.3 572.8,351.5 585.0,344.8 582.9,349.5 559.3,354.4 562.3,355.0 557.6,335.1 414.2,409.5 414.2,423.5 414.2,427.6 414.2,435.8 414.2,462.1 422.1,408.3 423.3,411.3 425.0,412.4 427.4,413.0 422.1,414.8 424.4,415.3 422.7,420.0 423.9,422.4 426.2,424.1 425.6,426.4 426.8,430.5 423.9,432.6 423.6,455.6 426.2,459.7 432.6,407.8 434.4,410.7 433.8,413.0 432.6,415.9 433.2,420.0 434.1,427.6 433.8,434.0 435.5,438.1 435.0,439.3 443.7,420.6 451.9,408.3 453.1,414.2 452.5,416.5 454.2,421.2 456.0,421.8 463.6,426.8 471.7,407.8 472.3,413.0 471.7,418.3 484.0,410.7 492.2,407.8 491.9,411.8 502.5,408.3 504.8,416.3 486.3,420.6 502.5,426.8 515.0,409.5 518.5,408.3 522.5,408.3 527.2,408.9 530.1,413.0 529.0,418.3 526.1,417.7 523.1,416.3 517.3,422.7 523.7,427.6 531.0,426.8 517.3,433.4 524.9,433.4 523.7,441.3 523.7,451.9 532.1,458.6 546.7,425.9 554.1,425.9 547.9,437.9 551.2,462.1 536.0,413.6 538.9,412.4 540.6,411.8 549.4,408.3 551.7,410.7 554.7,413.0 558.8,409.5 564.6,411.8 568.7,411.8 569.3,407.4 566.3,414.8 562.8,419.4 580.9,409.5 586.8,407.8 620.6,406.6 611.3,421.5 568.4,433.7 558.8,441.3 573.1,450.0 647.2,324.2 648.3,334.4 645.0,342.0 654.2,360.2 590.2,362.9 593.1,366.1 599.0,368.0 631.1,387.7 638.4,391.1 660.7,386.7 657.4,399.4 646.0,410.8 645.0,416.2 640.6,381.6 600.4,372.4 607.0,376.1 604.8,381.6 599.0,387.7 597.5,390.7 599.4,396.2 589.5,384.1 582.2,384.1 591.7,391.4 582.9,402.3 414.4,371.5 414.2,389.7 414.3,376.0 414.4,371.6 414.2,399.0 414.2,364.1 414.5,388.2 414.9,381.6 414.4,379.8 414.2,368.1 414.7,361.4 414.5,362.4 414.2,347.4 414.5,394.2 414.5,353.1 414.6,392.2 414.2,404.2 414.6,346.9 414.3,367.5 414.5,355.9 414.2,369.7 414.6,363.2 414.4,355.2 414.2,352.5 414.5,356.0 414.5,391.0 414.6,390.5 414.6,400.0 414.0,346.5 414.2,382.8 414.4,374.8 414.4,364.4 414.1,389.1 414.6,377.4 414.5,358.4 414.0,380.6 414.1,387.5 414.6,402.2 414.0,368.6 414.8,382.1 414.7,392.4 414.1,394.1 414.5,361.8 414.6,357.0 414.1,350.7 414.0,377.8 414.7,392.0 414.3,358.6 414.0,348.0 414.6,359.9 414.6,366.8 414.5,378.4 414.4,348.9 414.2,391.7 414.0,356.5 414.5,404.6 414.5,349.3 414.1,393.4 414.2,397.4 414.2,346.7 414.3,359.6 414.4,388.2 414.7,404.8 414.4,382.0 414.6,398.3 414.4,386.1 414.6,376.9 414.3,388.5 414.6,386.0 414.2,361.3 414.0,367.0 414.6,397.5 414.1,361.1 414.1,358.8 414.7,378.1 414.3,394.1 414.4,368.3 414.4,357.9 414.5,404.0 414.6,364.4 414.3,355.9 414.2,378.8 414.6,363.4 414.4,354.7 414.3,386.9 414.5,393.2 414.5,396.5 414.4,364.8 414.0,352.4 414.8,399.0 425.4,387.2 425.0,392.2 423.4,359.6 423.7,352.7 423.6,364.0 424.4,365.1 424.6,407.2 423.3,386.0 424.4,364.1 424.2,399.6 425.1,391.7 423.8,388.7 424.2,387.5 422.5,385.7 423.6,350.6 424.4,374.9 422.9,367.8 423.3,350.3 423.9,389.2 423.7,408.2 423.2,393.2 423.5,386.7 424.4,398.1 425.1,352.8 424.7,372.6 424.2,350.0 425.0,358.2 422.7,360.2 424.9,347.2 424.0,363.9 423.9,345.9 423.4,362.5 423.9,391.6 424.3,404.4 423.4,404.3 423.2,379.4 424.3,399.3 425.2,373.8 424.9,380.7 424.8,405.2 423.4,357.8 423.6,352.5 423.6,376.7 425.5,398.0 423.6,375.1 424.9,349.3 424.6,355.9 423.3,377.9 424.3,355.9 425.1,347.8 424.5,368.7 424.2,358.0 424.9,407.6 422.8,371.3 423.6,370.9 424.0,363.0 424.6,350.9 425.0,392.9 423.5,377.8 424.0,408.7 425.0,405.5 424.9,361.6 423.5,407.9 423.2,394.1 423.7,406.1 424.3,357.3 422.0,406.1 425.1,353.0 423.8,358.7 424.8,348.4 425.2,402.8 423.6,378.8 422.8,357.3 422.6,391.0 425.3,362.5 423.4,359.1 423.9,346.8 422.9,383.9 423.6,390.6 424.2,366.0 424.4,345.5 424.0,366.4 423.1,380.0 423.8,393.3 423.7,395.8 424.9,390.4 423.5,355.6 423.0,374.5 424.3,376.1 423.2,392.0 425.5,383.3 426.4,373.4 423.2,362.7 424.1,356.1 424.3,350.7 426.7,351.7 421.7,375.3 423.4,359.7 419.5,356.9 428.1,393.3 424.4,347.3 423.1,405.2 423.7,362.7 425.9,345.9 423.2,356.0 424.6,381.4 420.4,394.9 420.8,374.9 426.9,391.2 424.1,404.8 433.2,391.5 434.6,371.8 433.5,394.3 434.5,370.7 434.4,367.9 433.2,388.2 435.2,359.6 435.3,394.7 434.7,350.8 432.5,347.6 433.5,357.5 434.6,390.3 435.0,381.4 433.4,372.6 431.9,354.6 433.3,408.3 434.8,361.3 433.5,377.2 435.5,360.7 433.9,377.2 435.6,370.9 433.2,369.4 434.1,376.9 434.9,354.2 433.4,360.7 437.3,353.9 435.3,359.8 433.8,380.6 434.6,365.8 433.9,410.2 434.0,358.4 435.4,383.6 434.4,407.5 435.7,390.3 434.1,360.9 435.0,411.7 434.8,356.8 435.3,382.1 433.9,405.1 434.6,380.9 434.6,409.3 432.9,398.0 434.9,387.9 434.5,385.6 433.5,402.0 434.8,364.8 435.0,365.6 433.8,360.1 434.6,396.7 435.5,356.3 434.5,408.2 434.3,399.9 434.0,362.4 433.3,375.6 435.1,396.5 434.1,357.3 433.4,363.2 431.6,373.7 434.2,402.4 433.6,364.8 434.0,394.7 434.2,396.7 434.0,396.5 434.6,349.9 435.1,378.9 433.8,367.6 434.5,364.7 433.7,399.8 434.9,385.0 434.0,360.7 434.0,393.7 434.5,393.9 434.2,407.8 433.7,410.9 434.4,379.5 434.8,405.7 434.1,400.1 433.7,398.7 435.2,355.3 434.3,379.8 433.4,383.0 433.4,399.3 434.0,368.9 435.2,365.6 435.3,360.6 434.8,391.5 433.1,382.7 433.9,399.1 435.4,351.2 434.9,408.8 434.4,385.1 434.9,356.7 434.0,408.4 434.5,410.3 434.6,392.2 435.0,407.8 433.0,368.6 435.8,389.8 435.6,368.9 434.8,384.9 436.5,395.2 433.1,354.9 433.5,397.9 434.8,378.5 435.6,375.4 433.1,403.5 435.6,407.3 435.7,357.9 434.4,394.1 433.8,410.2 433.0,359.7 437.4,406.4 432.3,400.4 438.2,405.8 433.4,389.7 453.6,384.3 452.5,396.2 453.2,353.7 454.8,403.8 454.5,386.9 452.2,386.9 453.9,366.0 453.5,351.8 454.5,367.3 452.4,380.6 453.6,398.4 454.1,386.8 452.5,360.1 453.4,356.1 453.4,359.8 453.9,381.8 453.0,354.7 455.8,373.5 454.1,398.5 452.5,356.5 452.8,372.7 452.5,367.2 453.6,397.8 453.5,372.8 454.1,364.9 453.8,355.4 452.9,395.3 453.1,377.4 454.0,368.5 454.2,394.6 452.3,405.0 453.0,406.2 454.2,348.8 452.9,398.8 453.6,379.3 452.7,374.7 454.5,390.9 453.2,395.0 453.1,395.6 453.9,378.8 453.4,374.0 453.8,352.8 454.6,381.0 453.5,371.7 453.6,394.2 454.9,367.7 453.4,399.3 453.4,409.3 454.4,371.7 452.5,374.0 454.6,372.1 453.4,353.7 453.0,401.3 453.1,355.8 452.9,373.5 454.2,366.8 453.0,392.2 451.7,373.8 452.9,358.1 454.1,361.8 453.3,370.7 452.9,368.0 452.5,375.1 454.5,348.3 453.0,408.1 454.0,347.0 451.7,382.9 453.2,397.7 452.7,382.4 453.2,387.5 453.6,354.1 453.1,384.2 453.8,405.5 454.5,402.2 453.6,375.0 452.4,402.5 454.4,346.0 452.9,398.0 453.5,371.8 454.4,396.1 453.6,404.1 453.4,384.4 453.3,389.8 452.4,353.8 453.1,395.3 452.4,345.6 453.9,382.6 453.1,376.3 453.5,375.1 454.4,366.8 454.2,375.1 453.8,372.3 454.2,382.4 454.1,367.3 453.5,386.3 454.9,404.0 455.2,384.6 451.8,353.8 451.9,369.3 458.4,409.9 451.4,389.4 457.3,402.4 454.0,362.6 451.9,389.2 452.9,396.9 452.6,379.1 452.6,343.5 454.4,406.7 449.3,356.1 456.1,363.2 454.6,359.9 451.5,409.5 449.6,368.6 457.7,354.2 449.5,403.2 473.9,400.0 471.5,387.7 473.4,364.9 471.7,368.8 472.3,395.7 473.2,402.1 472.6,383.0 472.7,357.5 473.9,404.8 473.1,368.5 473.5,388.1 472.7,376.4 472.7,394.9 472.6,352.4 473.7,390.3 470.4,402.0 472.9,381.4 473.0,379.1 471.4,368.6 472.8,374.6 472.4,370.8 471.9,371.8 472.7,383.2 471.8,382.3 473.6,371.4 471.7,379.2 471.8,396.4 472.3,371.3 472.6,398.8 473.0,354.8 472.8,379.2 472.6,378.3 470.8,367.7 472.3,387.2 472.5,367.4 473.3,374.3 471.9,402.8 472.9,381.7 472.3,361.4 472.0,370.6 472.6,356.9 472.4,383.7 472.7,355.0 472.5,389.3 473.2,393.3 473.2,364.9 471.8,386.4 473.7,399.2 473.6,367.8 473.2,395.1 472.7,383.5 474.0,392.9 472.3,358.1 472.8,360.6 471.9,354.6 472.7,397.1 473.4,391.9 472.3,403.5 473.2,365.5 471.9,380.9 473.0,384.2 473.8,381.9 472.4,397.8 472.6,391.2 473.4,353.9 473.3,377.4 472.6,387.0 472.8,369.0 472.6,390.5 473.3,395.3 473.1,356.5 472.8,373.0 472.1,388.7 471.6,380.7 471.3,393.6 472.9,366.3 474.8,352.8 473.0,392.9 473.3,373.1 472.6,402.1 472.9,352.8 471.9,374.4 472.7,377.2 471.8,373.4 473.0,363.3 475.0,355.2 471.2,357.9 473.3,378.6 473.1,375.1 473.6,397.9 474.8,391.3 474.9,370.8 476.0,357.7 471.8,382.3 471.1,403.0 473.9,371.5 474.8,403.1 473.6,376.1 473.5,365.6 477.5,385.1 490.7,371.5 491.1,378.4 490.6,372.4 491.2,392.3 490.6,380.6 491.1,396.6 491.2,396.2 494.0,376.8 492.5,369.7 491.6,359.0 490.5,385.1 491.7,381.4 493.8,376.5 492.0,395.7 493.3,370.1 492.7,375.1 492.5,375.8 492.1,365.8 492.2,372.1 492.0,372.0 491.7,377.6 492.4,372.2 493.4,367.1 493.0,359.9 490.9,392.9 493.0,375.8 492.8,392.9 491.8,397.5 493.3,364.7 493.0,380.0 494.3,397.4 490.3,360.2 493.2,363.2 491.3,378.3 492.6,354.8 492.9,354.8 493.9,355.8 492.6,397.1 491.6,396.1 493.2,398.4 492.9,370.6 493.6,356.9 489.7,383.5 492.5,368.7 489.4,372.5 492.7,356.6 492.4,356.4 491.6,358.1 492.8,394.0 492.6,386.9 493.5,384.0 493.9,372.6 492.5,388.5 492.2,367.2 491.7,356.2 493.7,370.0 492.4,385.0 492.2,384.3 493.1,399.3 491.9,381.0 492.2,354.1 492.5,371.6 493.4,392.7 491.4,393.7 491.3,396.7 491.8,356.7 491.7,384.3 491.6,379.5 493.2,363.8 491.9,358.4 494.3,357.3 493.4,375.4 492.5,390.3 492.3,394.3 493.1,394.7 494.9,395.1 492.9,361.3 491.5,389.8 492.5,399.9 495.9,367.4 491.5,374.2 492.2,362.2 492.5,370.2 491.9,381.5 493.8,354.4 491.8,395.0 492.4,374.8 493.0,350.7 493.0,361.0 492.2,395.7 492.6,391.9 492.4,397.0 489.0,375.5 493.2,385.6 492.7,360.4 492.3,367.5 493.4,380.6 490.7,395.8 493.7,365.8 491.9,354.4 491.5,364.1 491.4,354.5 492.8,384.6 491.8,353.1 493.2,377.2 491.0,373.5 493.7,388.8 492.3,364.7 494.3,371.5 492.9,383.2 497.0,389.3 493.9,369.7 495.1,399.3 488.0,369.5 492.0,385.5 489.6,357.6 495.2,399.5 491.7,398.6 490.5,399.4 492.7,389.0 492.8,353.6 492.2,365.1 496.5,351.2 494.9,375.5 493.0,381.0 529.1,384.4 530.7,358.9 535.5,346.7 521.2,371.1 544.4,378.2 530.2,368.0 524.9,382.8 529.0,396.1 535.3,381.0 534.6,375.3 523.8,357.0 527.5,379.4 531.0,369.0 537.7,384.7 538.3,401.4 526.9,389.3 524.9,366.1 532.4,372.1 527.6,403.1 528.6,385.9 522.3,377.0 532.5,408.6 531.7,377.6 535.8,359.8 536.1,382.8 535.6,398.8 530.0,372.2 543.6,360.1 537.9,360.8 533.0,367.2 526.6,378.4 535.5,390.4 536.1,380.4 525.9,401.2 524.7,372.3 530.1,368.8 531.9,374.9 536.0,399.3 534.3,373.4 536.5,371.0 530.8,372.8 528.8,360.3 518.4,403.4 528.0,376.5 537.6,370.6 523.2,367.6 530.3,374.5 538.1,385.3 535.3,386.2 526.6,368.6 533.7,380.5 533.6,387.4 527.4,369.8 535.4,392.2 533.6,353.1 526.8,382.3 535.2,360.9 524.0,382.5 537.0,376.0 539.5,371.4 537.6,359.4 526.1,374.0 535.4,372.9 536.7,360.4 518.9,385.7 537.1,380.5 517.4,367.5 536.3,387.3 526.0,396.5 528.0,363.1 526.0,393.0 522.3,377.6 530.8,395.8 548.4,378.3 533.9,390.2 530.0,377.0 535.6,357.4 529.9,374.0 537.4,356.5 531.9,379.0 533.9,370.7 534.1,388.5 521.9,363.2 533.5,375.5 526.1,344.6 531.1,370.0 528.7,391.2 529.3,388.5 527.6,389.3 535.5,376.6 518.5,376.7 533.2,372.5 525.2,377.0 534.5,369.8 533.2,388.0 526.0,367.5 525.0,404.2 531.5,391.9 532.8,384.0 534.2,373.2 529.0,364.3 517.4,379.1 529.9,394.0 525.3,372.7 523.3,373.7 527.0,362.5 530.3,376.0 527.9,367.0 526.7,383.5 533.9,395.3 523.6,367.5 535.9,377.3 531.1,377.6 534.7,356.8 538.6,361.7 539.0,376.6 520.5,384.7 533.7,374.9 529.9,394.3 522.0,382.6 529.6,378.6 530.2,384.0 530.0,373.2 538.0,384.4 536.4,387.9 523.5,363.6 525.3,362.4 530.1,383.3 542.5,372.8 535.4,373.0 525.2,377.3 527.8,355.0 533.6,382.0 533.6,393.0 527.3,400.7 535.0,367.9 536.5,375.0 533.0,397.7 518.3,372.7 532.6,373.8 533.3,359.9 532.1,380.5 539.0,389.3 530.3,364.0 539.2,381.5 534.5,378.5 532.3,379.0 537.1,380.7 536.0,384.5 529.8,379.2 536.3,376.7 523.3,378.8 525.2,383.4 530.5,348.6 535.4,398.9 526.8,384.8 525.6,362.9 527.1,371.7 532.1,377.9 533.5,365.1 527.8,348.6 527.0,369.5 529.6,373.8 532.8,379.8 535.5,354.3 537.2,382.2 539.9,395.2 530.9,393.5 531.2,395.9 531.6,372.7 536.6,400.7 531.3,379.6 535.9,366.3 531.7,331.2 528.0,373.1 529.6,388.4 524.7,396.6 528.1,404.5 528.2,386.5 531.3,369.8 528.4,386.7 528.3,368.0 524.5,360.2 535.3,379.3 530.6,387.1 518.0,379.3 528.6,366.1 533.1,382.1 531.1,375.3 526.5,404.7 528.6,377.7 529.3,368.4 527.1,378.6 530.0,400.6 538.9,374.6 537.6,396.4 521.4,391.5 529.5,370.0 538.5,367.2 526.4,389.0 522.7,359.0 531.6,360.5 527.9,384.4 529.7,395.7 525.0,381.7 524.2,372.8 534.9,376.9 530.1,374.0 528.6,391.6 532.5,390.8 526.4,368.4 535.6,379.3 524.3,374.1 535.7,369.9 529.7,380.8 541.1,375.9 524.4,343.0 534.3,390.6 526.7,382.1 526.9,388.5 526.3,369.3 524.6,383.8 528.0,383.7 528.5,385.1 529.3,397.5 528.1,375.1 530.5,369.2 522.7,378.5 531.3,367.3 530.6,366.6 535.4,387.0 533.7,392.2 522.6,394.2 525.9,368.5 534.5,369.0 520.9,375.4 535.3,400.4 528.3,377.4 525.1,364.4 534.3,361.5 533.9,356.7 530.4,392.4 534.4,391.9 530.7,376.7 540.1,398.6 531.6,360.8 528.9,356.6 532.0,392.9 534.9,367.8 534.2,385.9 532.4,389.3 533.6,380.3 543.5,385.3 526.1,363.2 521.5,364.9 524.7,363.8 535.5,385.7 529.9,358.1 526.7,358.6 529.0,378.2 537.5,372.5 526.5,381.3 522.8,364.9 537.1,373.6 529.0,389.1 527.6,361.4 517.4,356.6 531.0,342.9 522.2,365.1 534.0,384.7 530.5,392.6 533.9,366.4 528.3,361.1 524.5,389.7 528.3,376.2 539.0,359.0 526.6,359.5 535.7,373.6 526.4,380.3 534.0,364.4 529.5,374.2 531.9,375.7 536.8,372.2 526.1,401.6 534.5,370.9 528.1,380.7 527.2,364.5 535.0,384.6 532.0,364.1 536.7,361.6 527.8,371.4 533.5,363.3 523.7,388.2 526.6,390.3 526.8,371.0 540.4,388.6 535.8,367.3 539.5,373.0 528.1,379.8 531.8,396.6 535.7,381.7 532.8,371.7 532.9,382.4 530.7,354.6 535.1,387.6 531.4,371.1 527.9,369.3 531.6,361.0 531.8,386.2 531.8,386.3 531.4,381.1 525.4,379.5 525.7,373.8 540.6,362.2 525.6,366.6 530.2,329.0 520.2,376.6 533.4,373.7 535.4,362.5 533.2,375.0 531.3,366.0 534.7,383.3 528.2,369.0 527.9,391.2 530.6,369.5 536.3,363.5 527.1,357.3 530.6,382.8 534.1,363.2 531.5,381.9 574.2,372.6 563.2,371.7 555.9,354.2 536.3,379.1 570.3,353.6 547.9,376.3 532.4,367.6 568.2,390.3 531.8,377.4 499.7,385.8 516.2,351.4 543.2,374.7 535.8,373.1 531.6,377.1 538.8,365.6 521.9,376.2 518.0,383.5 510.2,380.9 576.0,380.5 528.9,368.3 543.2,385.5 536.9,372.6 556.0,388.2 577.9,373.9 518.0,391.5 543.8,378.8 525.2,378.1 569.0,374.4 516.3,357.7 523.5,405.0 567.8,370.3 502.6,370.7 553.2,355.0 570.1,385.4 499.5,353.9 526.7,362.9 506.8,398.1 558.9,391.0 548.2,401.1 553.6,371.0 552.0,367.9 555.5,391.5 542.4,380.4 563.2,371.9 546.5,373.8 553.1,363.9 498.5,377.4 563.9,370.2 550.9,378.4 509.3,369.7 547.8,391.1 543.8,375.8 570.8,369.1 566.7,363.4 576.7,385.9 569.3,382.4 529.1,385.7 552.6,368.1 500.3,374.8 519.8,379.5 576.4,368.3 522.8,350.5 576.3,380.0 562.0,372.1 546.1,387.5 518.4,388.1 549.6,392.8 508.8,369.1 499.8,373.6 556.1,399.3 556.0,371.6 565.8,388.6 518.2,369.1 543.3,387.6 576.0,382.7 508.7,399.9 542.8,360.8 544.1,370.3 503.0,361.7 499.7,383.6 571.9,401.0 528.2,366.9 571.0,394.7 550.5,380.5 547.1,372.6 528.1,364.6 528.9,378.8 544.0,354.2 553.3,362.4 527.0,388.2 556.7,356.2 522.0,373.2 527.9,386.0 514.4,383.2 550.5,383.2 537.0,366.8 517.9,375.1 551.8,365.1 507.7,361.7 524.5,393.6 536.3,368.1 501.5,348.2 514.8,399.1 551.4,378.2 545.4,356.3 524.3,367.1 530.7,396.6 539.1,378.9 549.2,393.8 564.7,357.6 530.8,378.5 516.4,383.4 557.9,375.1 552.6,378.9 552.7,380.1 511.1,375.5 525.6,363.8 543.3,369.8 565.4,372.3 560.5,363.5 538.4,374.4 530.7,376.6 561.7,377.6 528.8,383.0 513.6,376.8 514.0,378.4 537.5,375.7 522.2,382.0 535.0,374.8 534.8,380.4 498.1,367.4 502.0,378.0 552.5,393.6 499.8,381.7 569.6,381.5 505.3,380.4 517.3,355.4 537.8,388.8 549.1,391.1 578.4,368.0 534.3,378.2 511.9,384.8 578.9,371.2 513.5,377.7 503.7,376.3 534.8,371.9 519.6,369.3 525.5,365.4 549.8,382.1 564.6,384.2 533.5,365.6 516.9,375.7 538.4,392.7 530.3,377.6 525.5,372.2 566.9,373.4 539.2,369.8 539.3,372.0 522.0,380.3 552.1,368.4 517.4,372.9 500.2,369.6 504.4,363.0 506.8,380.5 540.5,380.8 545.7,373.0 564.0,395.5 564.1,364.3 524.6,377.0 527.0,381.2 512.1,395.6 561.7,359.0 535.0,371.2 555.8,360.9 526.6,382.8 554.6,387.8 503.3,385.6 506.4,367.0 547.3,358.6 547.7,351.6 537.8,365.9 567.4,375.7 498.6,410.0 505.8,383.1 521.6,385.3 500.1,380.8 558.0,378.6 508.2,392.4 507.5,353.1 529.7,376.4 523.7,379.4 565.8,359.1 569.7,372.8 531.3,394.2 510.1,379.6 501.2,365.8 513.7,381.3 558.3,367.8 572.8,355.8 530.2,372.5 546.0,380.7 556.2,367.6 537.9,364.8 552.2,379.7 536.5,381.0 507.7,372.1 561.9,366.5 543.2,379.4 514.6,376.9 533.8,384.9 561.7,369.4 535.0,375.6 549.8,376.6 524.2,354.5 537.5,374.3 500.6,387.3 509.9,382.0 565.6,392.3 525.7,391.8 525.7,379.5 511.6,372.4 500.2,388.3 529.6,376.3 514.1,370.5 556.6,367.5 553.1,362.6 538.3,379.0 536.7,407.7 512.8,380.0 525.0,379.7 561.7,359.2 549.2,363.1 542.3,374.3 505.8,381.7 570.7,374.4 576.2,374.9 506.1,373.2 535.5,388.3 546.9,357.3 567.1,394.2 534.1,390.1 539.9,381.4 535.6,381.7 553.0,390.6 572.8,381.7 517.4,370.0 498.2,381.9 574.2,368.5 569.8,376.5 545.8,366.6 546.0,374.3 531.1,360.7 525.7,363.1 574.5,376.2 541.5,384.9 551.9,380.9 505.5,366.2 520.3,386.2 537.5,368.9 568.6,390.6 560.0,405.5 545.6,401.7 565.7,382.1 552.0,374.1 523.7,402.7 579.1,375.9 510.0,375.9 521.1,380.2 532.8,372.1 529.2,386.2 571.5,397.2 573.5,382.6 537.5,373.7 512.3,389.8 513.7,379.7 567.6,374.4 542.3,382.7 569.7,367.0 559.9,354.1 577.4,382.6 552.2,373.5 511.9,390.6 542.8,365.1 558.6,389.7 515.8,375.4 574.0,386.7 538.2,395.0 567.3,379.4 541.7,393.4 543.2,366.9 541.0,376.0 534.8,388.6 507.7,385.6 553.2,366.5 576.7,378.7 575.3,369.6 533.8,367.6 556.3,374.1 533.5,357.4 515.4,374.2 516.9,395.1 555.4,377.0 538.5,368.4 517.2,390.0 518.7,376.4 536.8,379.9 578.2,383.5 538.9,359.3 534.3,375.3 529.1,361.4 545.2,404.4 543.0,395.0 514.3,382.8 506.6,379.1 542.1,351.2 555.3,389.0 561.7,398.3 531.3,370.5 543.2,356.2 540.6,386.6 565.0,371.9 550.4,400.5 521.5,358.1 551.3,372.2 570.5,368.4 525.2,367.0 502.1,367.0 522.2,352.5 521.8,360.2 521.6,373.6 541.1,390.3 529.6,371.2 524.4,381.6 540.9,364.9 500.7,384.2 565.7,359.6 508.9,370.7 572.3,395.2 538.4,378.4 544.3,381.0 578.4,367.8 534.5,365.2 514.6,353.2 546.9,368.7 501.3,408.7 503.5,360.0 516.6,389.9 532.3,390.9 554.9,384.1 506.1,364.6 568.1,382.0 534.9,388.7 513.9,383.2 568.9,374.4 577.1,384.6 565.2,384.0 526.1,384.1 559.7,381.0 527.9,367.3 546.9,370.5 549.0,375.7 520.7,370.4 537.3,372.8 520.3,381.8 551.6,366.1 537.8,387.7 537.6,387.2 528.8,387.1 516.4,381.7 569.0,374.1 542.5,374.1 504.2,366.4 552.4,380.7 532.7,391.8 507.4,379.8 543.0,386.7 557.2,393.8 526.5,407.5 505.7,377.8 511.5,373.6 524.2,362.8 556.3,376.7 524.0,356.1 533.2,363.0 533.3,382.4 532.9,389.5 548.5,360.7 530.4,393.4 545.8,380.9 572.3,395.8 515.2,405.8 533.0,376.0 555.8,390.2 538.4,375.4 500.3,384.9 523.3,362.9 529.8,378.6 540.7,370.3 532.8,368.4 555.3,381.3 549.1,381.3 553.7,395.7 574.0,372.0 547.0,389.2 520.7,381.7 571.9,385.0 550.3,374.8 537.4,389.4 555.5,380.8 534.2,390.7 523.2,374.8 555.6,402.9 518.6,388.9 539.5,383.8 541.3,366.2 541.3,380.1 514.5,358.0 547.4,397.3 534.4,374.0 560.1,399.9 551.8,373.9 528.9,377.9 532.5,398.0 527.3,369.7 541.8,373.5 556.7,377.4 520.7,355.5 534.5,376.2 545.7,381.0 525.2,378.1 518.1,381.3 577.9,385.2 549.6,362.7 562.8,398.0 543.6,384.5 513.8,368.4 541.8,390.3 540.3,388.6 514.6,382.7 573.8,356.7 531.1,396.0 524.0,381.0 541.9,377.1 538.1,379.3 552.5,375.4 549.1,370.3 552.4,367.2 548.0,371.9 526.1,365.4 575.8,381.1 506.1,364.0 531.7,385.7 570.7,374.2 509.8,377.4 573.2,364.6 505.4,382.2 532.6,385.4 507.2,386.9 573.6,368.2 523.2,373.1 544.1,365.8 575.3,351.5 541.3,371.5 499.4,373.4 562.7,350.3 524.8,373.8 516.1,373.6 519.7,368.5 561.8,369.0 533.6,391.1 521.4,373.4 555.8,362.1 558.9,395.2 539.9,372.0 568.9,376.6 537.5,359.3 537.3,369.4 516.9,394.1 515.1,368.9 524.6,382.2 542.9,370.6 579.5,357.6 569.9,392.2 519.7,380.2 507.5,376.9 533.7,385.0 569.7,364.1 541.7,374.7 518.6,375.0 562.1,383.4 576.0,376.2 545.9,405.1 542.6,396.6 514.0,382.5 558.0,375.5 521.9,388.3 513.9,380.1 530.1,392.8 536.2,362.7 518.9,383.1 577.3,380.3 564.5,371.3 512.2,381.7 498.7,364.5 510.4,393.4 545.1,384.7 533.6,368.4 527.3,377.0 535.0,347.2 519.8,388.4 559.2,375.6 560.7,380.7 575.7,373.2 548.8,375.6 539.9,372.6 525.0,382.3 522.0,360.9 543.6,379.9 540.2,367.1 564.2,382.4 523.2,399.1 509.3,374.9 509.9,367.8 504.2,378.1 557.2,382.8 526.5,354.6 549.2,382.8 533.5,377.8 539.9,365.2 555.1,383.3 520.5,364.7 559.4,373.4 575.2,390.1 535.3,387.9 546.6,374.8 521.5,345.9 522.3,374.5 549.0,371.9 563.5,407.7 508.5,384.7 526.0,386.8 543.8,371.2 563.5,361.9 576.3,360.5 545.7,387.9 528.2,367.1 558.7,376.6 533.6,373.3 532.9,390.5 503.2,395.4 523.9,385.5 517.9,366.4 517.3,369.5 554.9,369.8 564.7,379.9 576.6,385.3 504.3,361.9 540.1,363.2 558.4,382.0 515.6,350.4 513.9,374.8 541.1,357.3 562.1,382.7 548.9,370.6 539.7,404.1 550.6,354.5 568.2,383.7 538.0,395.8 501.7,368.1 572.7,396.9 525.3,360.7 518.2,368.3 557.0,372.3 547.5,395.0 536.6,372.3 559.1,369.1 534.4,366.7 533.4,361.0 545.6,387.2 530.7,366.4 544.4,375.6 508.2,389.9 546.6,376.1 537.1,380.8 565.3,359.0 525.0,385.0 540.0,354.0 530.8,385.9 560.9,374.5 541.5,392.7 499.7,387.0 571.4,382.5 533.0,367.0 510.7,384.5 543.1,384.6 527.3,371.5 562.5,385.2 574.3,401.1 532.9,394.5 529.3,382.2 531.3,374.9 528.2,378.1 570.0,369.1 557.5,363.2 538.4,382.8 532.7,367.3 579.0,351.3 535.2,367.2 556.4,376.8 553.3,378.9 527.5,379.2 534.7,370.6 566.2,373.9 538.0,366.3 573.1,371.2 548.7,385.5 523.5,377.0 553.3,399.7 561.3,379.1 576.0,377.5 532.3,406.1 528.1,348.7 573.8,366.5 567.4,381.6 569.4,375.6 554.2,392.6 555.4,378.9 538.8,362.8 500.4,375.4 548.4,388.5 534.1,366.9 504.0,391.5 528.9,363.0 543.8,378.3 507.3,382.5 575.9,358.5 572.7,360.9 513.2,368.3 528.7,392.9 518.9,360.6 578.6,399.2 504.5,370.3 577.7,376.7 511.1,377.7 516.1,373.9 519.3,350.2 516.8,386.5 514.9,356.5 537.2,379.8 543.0,377.2 503.7,379.9 565.8,390.6 505.9,372.5 559.7,370.2 546.9,374.5 528.0,369.3 503.2,385.0 538.4,359.2 530.1,384.9 507.4,374.3 542.8,363.7 526.8,369.3 572.5,384.0 524.2,376.7 524.5,385.2 551.7,368.8 531.5,365.5 540.2,389.8 564.1,386.6 551.9,387.9 544.1,364.2 544.2,365.0 571.1,376.5 566.5,392.9 561.7,390.8 531.4,370.1 507.4,361.4 567.3,399.6 530.7,397.0 559.4,353.5 554.3,404.6 567.8,386.6 519.5,398.4 537.0,379.1 574.5,384.7 520.8,378.5 542.7,358.9 577.3,367.7 509.1,397.7 554.3,367.6 548.8,363.1 562.4,378.0 517.5,362.2 551.1,408.9 579.5,365.2 542.4,349.4 578.3,383.4 502.4,381.8 561.1,376.1 517.4,372.2 568.7,360.9 568.4,372.6 569.9,399.0 568.2,366.7 569.8,364.9 569.3,393.3 568.5,393.2 569.2,389.0 568.4,362.2 569.8,390.1 569.0,381.8 570.0,380.7 567.9,396.8 568.0,393.8 570.6,357.1 568.6,365.9 568.1,393.2 567.6,375.2 568.8,363.3 569.2,362.4 569.4,396.0 568.6,364.4 567.8,365.1 568.8,367.0 568.2,375.2 567.2,375.6 569.0,376.5 567.8,379.2 568.0,391.1 569.0,360.6 568.4,375.7 567.9,397.1 567.3,384.8 570.0,377.8 567.2,373.8 568.8,362.1 568.5,361.6 567.6,392.9 568.3,386.0 568.4,389.6 568.9,393.2 568.7,383.1 569.6,374.7 569.0,370.7 567.7,395.4 586.9,366.6 586.7,389.2 586.0,370.9 585.9,371.2 586.0,391.6 586.3,374.3 586.1,394.8 587.1,368.9 586.0,364.3 586.8,366.1 586.2,366.6 586.9,369.2 587.0,363.7 585.9,375.7 586.3,373.7 586.6,379.1 587.1,390.4 586.6,380.3 587.0,396.7 586.4,392.2 586.4,379.1 585.8,367.1 585.4,390.3 586.0,395.4 586.9,387.2 586.8,382.2 586.3,367.3 587.2,366.1 586.9,367.6 585.6,369.7 587.1,384.7 586.6,391.3 586.4,364.3 586.2,382.5 586.7,371.4 645.6,359.6 645.0,354.1 647.4,365.7 649.1,374.4 645.9,352.8 647.7,394.6 646.3,380.3 645.8,388.8 646.0,388.4 645.8,388.0 646.1,368.7 645.6,389.3 645.9,397.5 646.0,382.1 647.7,375.9 647.2,366.8 647.9,378.4 649.1,379.7 644.2,367.6 643.8,363.5 647.1,388.1 646.9,372.1 645.8,354.5 646.4,380.1 644.9,375.4 646.4,371.8 645.6,354.4 649.1,388.7 646.5,373.7 647.1,356.9 648.5,376.7 646.8,379.4 646.2,373.5 646.6,394.4 645.6,360.8 647.8,369.1 644.9,374.1 645.4,362.0 647.7,362.5 645.4,368.4 645.1,356.8 646.1,377.1 646.2,359.8 646.9,388.9 646.6,390.5 646.9,352.3 647.7,359.7 645.4,377.0 647.2,364.8 648.4,361.9 647.0,384.5 647.1,357.0 646.5,371.9 646.3,366.5 645.6,355.3 645.2,368.2 647.5,354.9 646.6,355.1 647.1,361.1 645.8,369.9 646.8,371.0 647.2,381.4 646.6,352.1 647.1,385.9 644.9,362.9 646.7,377.2 644.7,375.2 646.0,396.5 646.8,395.3 647.6,397.8 647.8,361.8 646.3,391.9 646.1,362.2 646.8,364.3 647.6,362.2 647.2,395.9 646.8,356.4 646.2,380.0 645.6,352.8 645.9,361.7 646.7,386.9 647.0,393.4 644.2,375.7 646.8,383.9 646.3,354.4 647.2,392.0 646.3,357.0 647.5,362.9 646.0,366.4 645.8,365.4 647.2,378.2 646.2,356.2 645.9,352.6 644.2,393.7 645.5,387.7 648.8,372.2 646.7,351.9 646.6,389.2 645.6,395.2 646.5,361.2"/><line x1="397.20" y1="379.50" x2="677.20" y2="379.50" stroke-width="1.0" stroke="#000"/><line x1="396.90" y1="341.30" x2="677.20" y2="341.30" stroke-width="1.0" stroke="#000" stroke-dasharray="4.7,4.06"/><line x1="396.90" y1="417.00" x2="677.20" y2="417.00" stroke-width="1.0" stroke="#000" stroke-dasharray="4.7,4.06"/></g><rect x="48.0" y="22.6" width="279.00" height="181.20" fill="none" stroke="#000" stroke-width="1"/><rect x="399.3" y="22.7" width="277.80" height="181.20" fill="none" stroke="#000" stroke-width="1"/><rect x="45.7" y="296.5" width="281.60" height="170.30" fill="none" stroke="#000" stroke-width="1"/><rect x="397.2" y="296.5" width="280.00" height="170.30" fill="none" stroke="#000" stroke-width="1"/><g stroke="#000" stroke-width="1" stroke-linecap="round"><line x1="120.50" y1="203.80" x2="120.50" y2="212.30" stroke-width="1.0" /><line x1="39.80" y1="156.80" x2="48.00" y2="156.80" stroke-width="1.0" /><line x1="470.40" y1="203.90" x2="470.40" y2="212.30" stroke-width="1.0" /><line x1="389.80" y1="156.80" x2="399.30" y2="156.80" stroke-width="1.0" /><line x1="194.80" y1="203.80" x2="194.80" y2="212.30" stroke-width="1.0" /><line x1="39.80" y1="108.40" x2="48.00" y2="108.40" stroke-width="1.0" /><line x1="544.75" y1="203.90" x2="544.75" y2="212.30" stroke-width="1.0" /><line x1="389.80" y1="108.40" x2="399.30" y2="108.40" stroke-width="1.0" /><line x1="269.10" y1="203.80" x2="269.10" y2="212.30" stroke-width="1.0" /><line x1="39.80" y1="60.00" x2="48.00" y2="60.00" stroke-width="1.0" /><line x1="619.10" y1="203.90" x2="619.10" y2="212.30" stroke-width="1.0" /><line x1="389.80" y1="60.00" x2="399.30" y2="60.00" stroke-width="1.0" /><line x1="94.20" y1="466.80" x2="94.20" y2="475.40" stroke-width="1.0" /><line x1="145.62" y1="466.80" x2="145.62" y2="475.40" stroke-width="1.0" /><line x1="197.04" y1="466.80" x2="197.04" y2="475.40" stroke-width="1.0" /><line x1="248.46" y1="466.80" x2="248.46" y2="475.40" stroke-width="1.0" /><line x1="299.88" y1="466.80" x2="299.88" y2="475.40" stroke-width="1.0" /><line x1="414.50" y1="466.80" x2="414.50" y2="475.40" stroke-width="1.0" /><line x1="462.70" y1="466.80" x2="462.70" y2="475.40" stroke-width="1.0" /><line x1="510.90" y1="466.80" x2="510.90" y2="475.40" stroke-width="1.0" /><line x1="559.10" y1="466.80" x2="559.10" y2="475.40" stroke-width="1.0" /><line x1="607.30" y1="466.80" x2="607.30" y2="475.40" stroke-width="1.0" /><line x1="655.50" y1="466.80" x2="655.50" y2="475.40" stroke-width="1.0" /><line x1="37.90" y1="418.38" x2="45.70" y2="418.38" stroke-width="1.0" /><line x1="387.80" y1="418.38" x2="397.20" y2="418.38" stroke-width="1.0" /><line x1="37.90" y1="379.50" x2="45.70" y2="379.50" stroke-width="1.0" /><line x1="387.80" y1="379.50" x2="397.20" y2="379.50" stroke-width="1.0" /><line x1="37.90" y1="340.62" x2="45.70" y2="340.62" stroke-width="1.0" /><line x1="387.80" y1="340.62" x2="397.20" y2="340.62" stroke-width="1.0" /></g><text x="120.50" y="231.00" font-size="13.2" text-anchor="middle" font-weight="normal" fill="#383838" stroke="#383838" stroke-width="0.45">5</text><text x="31.20" y="162.20" font-size="13.2" text-anchor="end" font-weight="normal" fill="#383838" stroke="#383838" stroke-width="0.45">5</text><text x="470.40" y="231.00" font-size="13.2" text-anchor="middle" font-weight="normal" fill="#383838" stroke="#383838" stroke-width="0.45">5</text><text x="383.20" y="162.20" font-size="13.2" text-anchor="end" font-weight="normal" fill="#383838" stroke="#383838" stroke-width="0.45">5</text><text x="194.80" y="231.00" font-size="13.2" text-anchor="middle" font-weight="normal" fill="#383838" stroke="#383838" stroke-width="0.45">10</text><text x="31.20" y="113.80" font-size="13.2" text-anchor="end" font-weight="normal" fill="#383838" stroke="#383838" stroke-width="0.45">10</text><text x="544.75" y="231.00" font-size="13.2" text-anchor="middle" font-weight="normal" fill="#383838" stroke="#383838" stroke-width="0.45">10</text><text x="383.20" y="113.80" font-size="13.2" text-anchor="end" font-weight="normal" fill="#383838" stroke="#383838" stroke-width="0.45">10</text><text x="269.10" y="231.00" font-size="13.2" text-anchor="middle" font-weight="normal" fill="#383838" stroke="#383838" stroke-width="0.45">15</text><text x="31.20" y="65.40" font-size="13.2" text-anchor="end" font-weight="normal" fill="#383838" stroke="#383838" stroke-width="0.45">15</text><text x="619.10" y="231.00" font-size="13.2" text-anchor="middle" font-weight="normal" fill="#383838" stroke="#383838" stroke-width="0.45">15</text><text x="383.20" y="65.40" font-size="13.2" text-anchor="end" font-weight="normal" fill="#383838" stroke="#383838" stroke-width="0.45">15</text><text x="94.20" y="493.60" font-size="13.2" text-anchor="middle" font-weight="normal" fill="#383838" stroke="#383838" stroke-width="0.45">2</text><text x="145.62" y="493.60" font-size="13.2" text-anchor="middle" font-weight="normal" fill="#383838" stroke="#383838" stroke-width="0.45">4</text><text x="197.04" y="493.60" font-size="13.2" text-anchor="middle" font-weight="normal" fill="#383838" stroke="#383838" stroke-width="0.45">6</text><text x="248.46" y="493.60" font-size="13.2" text-anchor="middle" font-weight="normal" fill="#383838" stroke="#383838" stroke-width="0.45">8</text><text x="299.88" y="493.60" font-size="13.2" text-anchor="middle" font-weight="normal" fill="#383838" stroke="#383838" stroke-width="0.45">10</text><text x="414.50" y="493.60" font-size="13.2" text-anchor="middle" font-weight="normal" fill="#383838" stroke="#383838" stroke-width="0.45">0</text><text x="462.70" y="493.60" font-size="13.2" text-anchor="middle" font-weight="normal" fill="#383838" stroke="#383838" stroke-width="0.45">5</text><text x="510.90" y="493.60" font-size="13.2" text-anchor="middle" font-weight="normal" fill="#383838" stroke="#383838" stroke-width="0.45">10</text><text x="559.10" y="493.60" font-size="13.2" text-anchor="middle" font-weight="normal" fill="#383838" stroke="#383838" stroke-width="0.45">15</text><text x="607.30" y="493.60" font-size="13.2" text-anchor="middle" font-weight="normal" fill="#383838" stroke="#383838" stroke-width="0.45">20</text><text x="655.50" y="493.60" font-size="13.2" text-anchor="middle" font-weight="normal" fill="#383838" stroke="#383838" stroke-width="0.45">25</text><text x="29.00" y="423.98" font-size="13.2" text-anchor="end" font-weight="normal" fill="#383838" stroke="#383838" stroke-width="0.45">-2</text><text x="380.80" y="423.98" font-size="13.2" text-anchor="end" font-weight="normal" fill="#383838" stroke="#383838" stroke-width="0.45">-2</text><text x="29.00" y="385.10" font-size="13.2" text-anchor="end" font-weight="normal" fill="#383838" stroke="#383838" stroke-width="0.45">0</text><text x="380.80" y="385.10" font-size="13.2" text-anchor="end" font-weight="normal" fill="#383838" stroke="#383838" stroke-width="0.45">0</text><text x="29.00" y="346.22" font-size="13.2" text-anchor="end" font-weight="normal" fill="#383838" stroke="#383838" stroke-width="0.45">2</text><text x="380.80" y="346.22" font-size="13.2" text-anchor="end" font-weight="normal" fill="#383838" stroke="#383838" stroke-width="0.45">2</text><text transform="translate(185.90 247.80) scale(1.114 1)" font-size="14.0" text-anchor="middle" fill="#383838" stroke="#383838" stroke-width="0.35">Individual predicted concentration (mg/L)</text><text transform="translate(537.40 247.80) scale(1.117 1)" font-size="14.0" text-anchor="middle" fill="#383838" stroke="#383838" stroke-width="0.35">Population predicted concentration (mg/L)</text><text transform="translate(187.00 510.70) scale(1.117 1)" font-size="14.0" text-anchor="middle" fill="#383838" stroke="#383838" stroke-width="0.35">Population predicted concentration (mg/L)</text><text transform="translate(538.40 510.70) scale(1.121 1)" font-size="14.0" text-anchor="middle" fill="#383838" stroke="#383838" stroke-width="0.35">Time after dose (h)</text><text transform="translate(14.60 112.90) rotate(-90) scale(1.114 1)" font-size="14.0" text-anchor="middle" fill="#383838" stroke="#383838" stroke-width="0.35">Observed concentration (mg/L)</text><text transform="translate(364.60 112.90) rotate(-90) scale(1.114 1)" font-size="14.0" text-anchor="middle" fill="#383838" stroke="#383838" stroke-width="0.35">Observed concentration (mg/L)</text><text transform="translate(14.80 393.00) rotate(-90) scale(1.045 1)" font-size="14.0" text-anchor="middle" fill="#383838" stroke="#383838" stroke-width="0.35">CWRES</text><text transform="translate(365.00 393.00) rotate(-90) scale(1.045 1)" font-size="14.0" text-anchor="middle" fill="#383838" stroke="#383838" stroke-width="0.35">CWRES</text><text x="170.50" y="14.00" font-size="18.5" text-anchor="middle" font-weight="bold" fill="#000">a</text><text x="521.30" y="16.00" font-size="18.5" text-anchor="middle" font-weight="bold" fill="#000">b</text><text x="171.20" y="285.00" font-size="18.5" text-anchor="middle" font-weight="bold" fill="#000">c</text><text x="521.00" y="285.00" font-size="18.5" text-anchor="middle" font-weight="bold" fill="#000">d</text></svg></body></html>
